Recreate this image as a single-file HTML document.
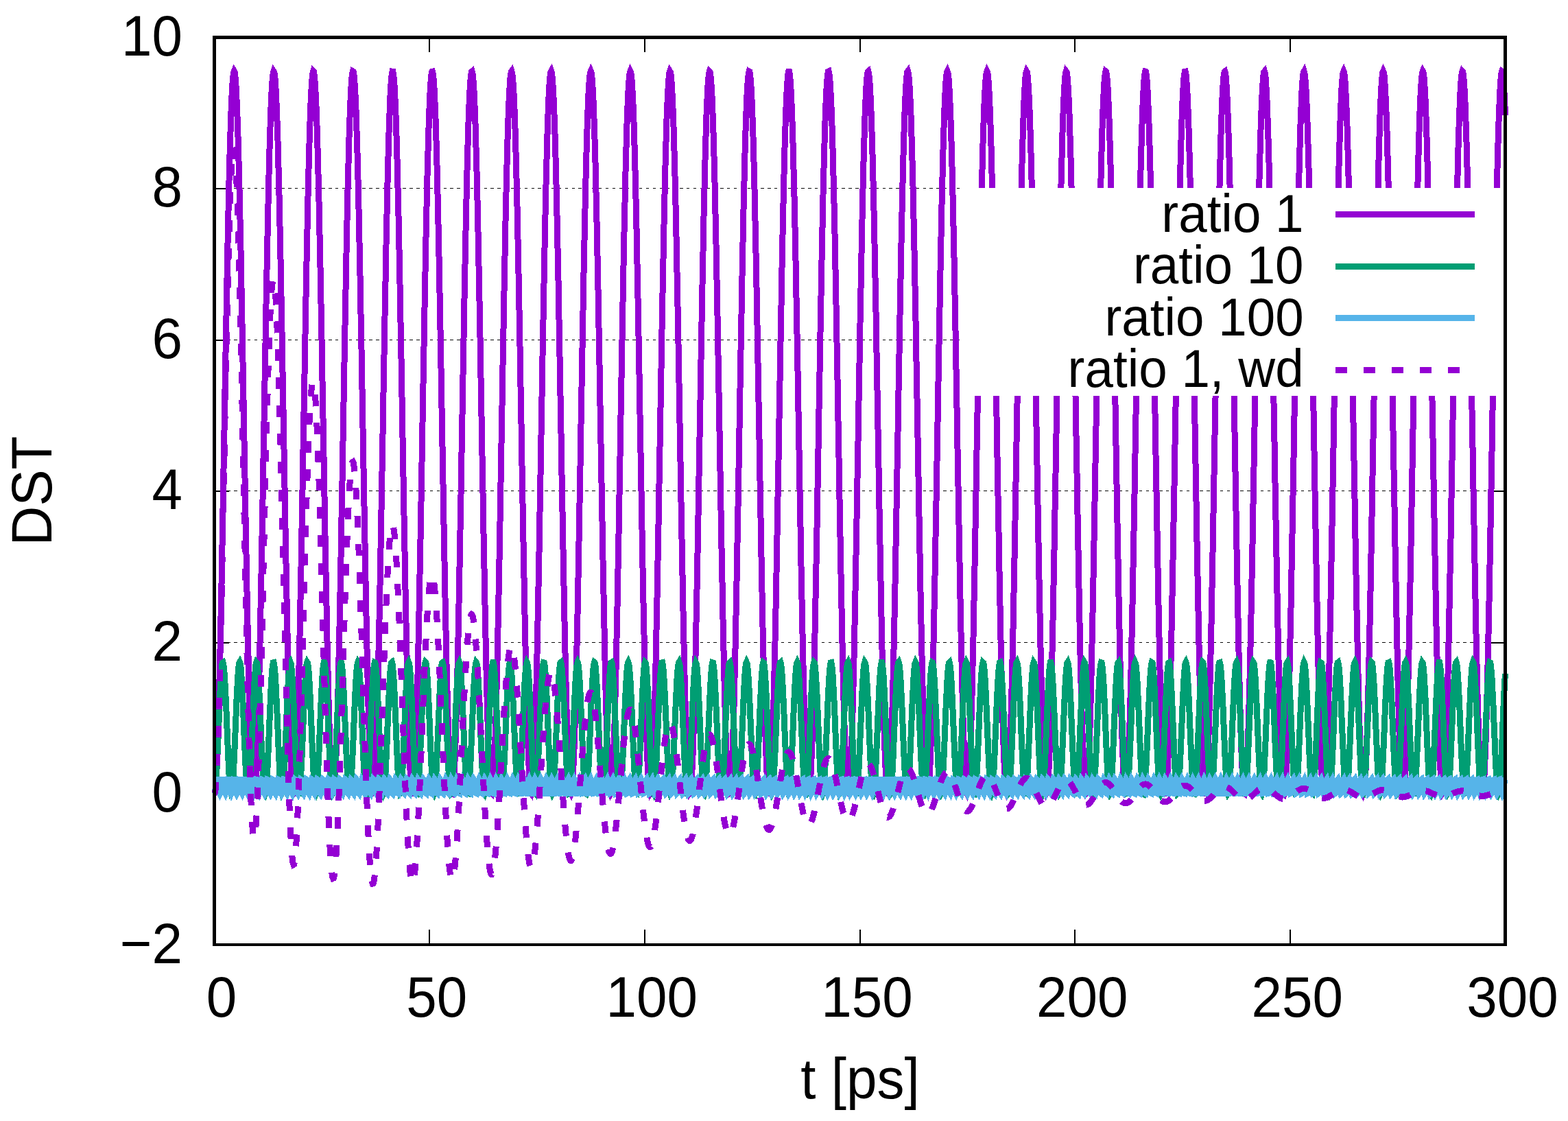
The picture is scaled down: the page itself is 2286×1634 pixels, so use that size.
<!DOCTYPE html>
<html lang="en"><head><meta charset="utf-8"><title>DST vs t</title>
<style>
html,body{margin:0;padding:0;background:#fff;}
body{width:2286px;height:1634px;overflow:hidden;}
svg{display:block;}
text{font-family:"Liberation Sans",sans-serif;fill:#000;}
.c{fill:none;stroke-width:9;stroke-linejoin:miter;stroke-miterlimit:3.8;stroke-linecap:butt;}
</style></head>
<body>
<svg width="2286" height="1634" viewBox="0 0 2286 1634">
<rect width="2286" height="1634" fill="#fff"/>
<g shape-rendering="crispEdges" fill="#000">
<path d="M311.8 1156.5H2192" stroke="#000" stroke-width="1" stroke-dasharray="4.4 5.446" fill="none"/>
<rect x="312" y="1156" width="22" height="2"/>
<rect x="2172" y="1156" width="22" height="2"/>
<path d="M311.8 936.5H2192" stroke="#000" stroke-width="1" stroke-dasharray="4.4 5.446" fill="none"/>
<rect x="312" y="936" width="22" height="2"/>
<rect x="2172" y="936" width="22" height="2"/>
<path d="M311.8 715.5H2192" stroke="#000" stroke-width="1" stroke-dasharray="4.4 5.446" fill="none"/>
<rect x="312" y="715" width="22" height="2"/>
<rect x="2172" y="715" width="22" height="2"/>
<path d="M311.8 495.5H2192" stroke="#000" stroke-width="1" stroke-dasharray="4.4 5.446" fill="none"/>
<rect x="312" y="495" width="22" height="2"/>
<rect x="2172" y="495" width="22" height="2"/>
<path d="M311.8 274.5H2192" stroke="#000" stroke-width="1" stroke-dasharray="4.4 5.446" fill="none"/>
<rect x="312" y="274" width="22" height="2"/>
<rect x="2172" y="274" width="22" height="2"/>
<rect x="625" y="54" width="2" height="22"/>
<rect x="625" y="1355" width="2" height="22"/>
<rect x="939" y="54" width="2" height="22"/>
<rect x="939" y="1355" width="2" height="22"/>
<rect x="1253" y="54" width="2" height="22"/>
<rect x="1253" y="1355" width="2" height="22"/>
<rect x="1566" y="54" width="2" height="22"/>
<rect x="1566" y="1355" width="2" height="22"/>
<rect x="1880" y="54" width="2" height="22"/>
<rect x="1880" y="1355" width="2" height="22"/>
</g>
<g shape-rendering="crispEdges" class="c">
<path stroke="#9400d3" d="M312.5 1156.8L313.2 1155L314 1150L314.7 1141.5L315.5 1129.7L316.2 1114.7L316.9 1096.6L317.7 1075.5L318.4 1051.4L319.2 1024.7L319.9 995.4L320.6 963.7L321.4 929.9L322.1 894.2L322.9 856.7L323.6 817.8L324.3 777.6L325.1 736.5L325.8 694.8L326.6 652.6L327.3 610.2L328 568L328.8 526.2L329.5 485.1L330.3 444.9L331 405.9L331.7 368.3L332.5 332.5L333.2 298.6L333.9 266.8L334.7 237.4L335.4 210.5L336.2 186.3L336.9 165L337.6 146.7L338.4 131.6L339.1 119.6L339.9 111L340.6 105.7L341.3 103.9L342.1 105.4L342.8 110.3L343.6 118.6L344.3 130.2L345 145L345.8 163L346.5 184L347.3 207.9L348 234.5L348.7 263.6L349.5 295.2L350.2 328.9L351 364.6L351.7 401.9L352.4 440.8L353.2 480.9L353.9 521.9L354.7 563.7L355.4 605.9L356.1 648.2L356.9 690.4L357.6 732.3L358.4 773.4L359.1 813.7L359.8 852.7L360.6 890.4L361.3 926.3L362.1 960.3L362.8 992.2L363.5 1021.8L364.3 1048.8L365 1073.1L365.8 1094.6L366.5 1113L367.2 1128.3L368 1140.4L368.7 1149.2L369.5 1154.7L370.2 1156.7L370.9 1155.4L371.7 1150.6L372.4 1142.5L373.1 1131.1L373.9 1116.4L374.6 1098.6L375.4 1077.8L376.1 1054.1L376.8 1027.6L377.6 998.5L378.3 967.1L379.1 933.5L379.8 897.9L380.5 860.6L381.3 821.9L382 781.8L382.8 740.8L383.5 699.1L384.2 656.9L385 614.6L385.7 572.4L386.5 530.5L387.2 489.3L387.9 449L388.7 409.9L389.4 372.2L390.2 336.1L390.9 302L391.6 270L392.4 240.3L393.1 213.2L393.9 188.7L394.6 167.1L395.3 148.5L396.1 133L396.8 120.7L397.6 111.8L398.3 106.1L399 103.9L399.8 105.1L400.5 109.6L401.3 117.6L402 128.8L402.7 143.3L403.5 161L404.2 181.7L405 205.3L405.7 231.6L406.4 260.5L407.2 291.8L407.9 325.3L408.7 360.8L409.4 398L410.1 436.7L410.9 476.7L411.6 517.6L412.3 559.3L413.1 601.5L413.8 643.8L414.6 686.1L415.3 727.9L416 769.2L416.8 809.6L417.5 848.8L418.3 886.5L419 922.7L419.7 956.9L420.5 989L421.2 1018.8L422 1046.1L422.7 1070.7L423.4 1092.5L424.2 1111.2L424.9 1126.9L425.7 1139.3L426.4 1148.5L427.1 1154.3L427.9 1156.7L428.6 1155.7L429.4 1151.3L430.1 1143.5L430.8 1132.4L431.6 1118.1L432.3 1100.6L433.1 1080.1L433.8 1056.6L434.5 1030.4L435.3 1001.7L436 970.5L436.8 937.1L437.5 901.7L438.2 864.6L439 825.9L439.7 786L440.5 745.1L441.2 703.5L441.9 661.3L442.7 619L443.4 576.7L444.2 534.8L444.9 493.5L445.6 453.1L446.4 413.8L447.1 376L447.9 339.8L448.6 305.4L449.3 273.2L450.1 243.3L450.8 215.8L451.5 191.1L452.3 169.2L453 150.3L453.8 134.5L454.5 121.8L455.2 112.5L456 106.6L456.7 104L457.5 104.8L458.2 109L458.9 116.6L459.7 127.5L460.4 141.7L461.2 159L461.9 179.4L462.6 202.7L463.4 228.8L464.1 257.4L464.9 288.5L465.6 321.8L466.3 357L467.1 394.1L467.8 432.6L468.6 472.5L469.3 513.4L470 555L470.8 597.1L471.5 639.4L472.3 681.7L473 723.6L473.7 765L474.5 805.4L475.2 844.8L476 882.7L476.7 919L477.4 953.5L478.2 985.8L478.9 1015.9L479.7 1043.4L480.4 1068.3L481.1 1090.4L481.9 1109.4L482.6 1125.4L483.4 1138.2L484.1 1147.7L484.8 1153.8L485.6 1156.6L486.3 1155.9L487 1151.9L487.8 1144.5L488.5 1133.7L489.3 1119.7L490 1102.6L490.7 1082.3L491.5 1059.2L492.2 1033.3L493 1004.7L493.7 973.8L494.4 940.6L495.2 905.4L495.9 868.5L496.7 830L497.4 790.2L498.1 749.4L498.9 707.8L499.6 665.7L500.4 623.4L501.1 581.1L501.8 539.1L502.6 497.8L503.3 457.2L504.1 417.8L504.8 379.8L505.5 343.4L506.3 308.9L507 276.4L507.8 246.2L508.5 218.6L509.2 193.5L510 171.3L510.7 152.1L511.5 135.9L512.2 123L512.9 113.3L513.7 107L514.4 104.1L515.2 104.6L515.9 108.4L516.6 115.7L517.4 126.2L518.1 140.1L518.9 157.1L519.6 177.2L520.3 200.2L521.1 225.9L521.8 254.3L522.6 285.2L523.3 318.2L524 353.3L524.8 390.2L525.5 428.6L526.2 468.3L527 509.1L527.7 550.7L528.5 592.7L529.2 635.1L529.9 677.3L530.7 719.3L531.4 760.7L532.2 801.3L532.9 840.8L533.6 878.9L534.4 915.3L535.1 950L535.9 982.6L536.6 1012.9L537.3 1040.7L538.1 1065.9L538.8 1088.2L539.6 1107.6L540.3 1123.9L541 1137L541.8 1146.9L542.5 1153.3L543.3 1156.5L544 1156.2L544.7 1152.5L545.5 1145.4L546.2 1135L547 1121.3L547.7 1104.5L548.4 1084.6L549.2 1061.7L549.9 1036.1L550.7 1007.8L551.4 977.1L552.1 944.2L552.9 909.2L553.6 872.4L554.4 834L555.1 794.4L555.8 753.6L556.6 712.1L557.3 670.1L558.1 627.7L558.8 585.4L559.5 543.4L560.3 502L561 461.4L561.8 421.9L562.5 383.7L563.2 347.1L564 312.4L564.7 279.7L565.4 249.3L566.2 221.3L566.9 196L567.7 173.5L568.4 153.9L569.1 137.5L569.9 124.2L570.6 114.2L571.4 107.5L572.1 104.2L572.8 104.3L573.6 107.9L574.3 114.8L575.1 125L575.8 138.5L576.5 155.2L577.3 174.9L578 197.6L578.8 223.1L579.5 251.3L580.2 281.9L581 314.7L581.7 349.6L582.5 386.3L583.2 424.6L583.9 464.2L584.7 504.8L585.4 546.3L586.2 588.4L586.9 630.7L587.6 673L588.4 715L589.1 756.5L589.9 797.2L590.6 836.7L591.3 875L592.1 911.7L592.8 946.5L593.6 979.3L594.3 1009.8L595 1037.9L595.8 1063.4L596.5 1086L597.3 1105.7L598 1122.4L598.7 1135.8L599.5 1146L600.2 1152.8L601 1156.3L601.7 1156.4L602.4 1153L603.2 1146.3L603.9 1136.2L604.6 1122.9L605.4 1106.4L606.1 1086.8L606.9 1064.2L607.6 1038.9L608.3 1010.8L609.1 980.4L609.8 947.7L610.6 912.9L611.3 876.3L612 838.1L612.8 798.5L613.5 757.9L614.3 716.4L615 674.4L615.7 632.1L616.5 589.8L617.2 547.8L618 506.3L618.7 465.5L619.4 425.9L620.2 387.6L620.9 350.8L621.7 315.9L622.4 283L623.1 252.3L623.9 224.1L624.6 198.5L625.4 175.7L626.1 155.8L626.8 139L627.6 125.4L628.3 115.1L629.1 108L629.8 104.4L630.5 104.2L631.3 107.3L632 113.9L632.8 123.8L633.5 137L634.2 153.3L635 172.8L635.7 195.2L636.5 220.4L637.2 248.3L637.9 278.6L638.7 311.2L639.4 345.9L640.2 382.4L640.9 420.5L641.6 460L642.4 500.6L643.1 542L643.8 584L644.6 626.3L645.3 668.6L646.1 710.7L646.8 752.2L647.5 793L648.3 832.7L649 871.1L649.8 907.9L650.5 943L651.2 976L652 1006.8L652.7 1035.1L653.5 1060.9L654.2 1083.8L654.9 1103.8L655.7 1120.8L656.4 1134.6L657.2 1145.1L657.9 1152.3L658.6 1156.1L659.4 1156.5L660.1 1153.5L660.9 1147.1L661.6 1137.4L662.3 1124.4L663.1 1108.2L663.8 1088.9L664.6 1066.7L665.3 1041.6L666 1013.9L666.8 983.6L667.5 951.1L668.3 916.6L669 880.1L669.7 842.1L670.5 802.7L671.2 762.1L672 720.8L672.7 678.8L673.4 636.5L674.2 594.2L674.9 552.1L675.7 510.5L676.4 469.7L677.1 429.9L677.9 391.5L678.6 354.5L679.4 319.4L680.1 286.3L680.8 255.3L681.6 226.9L682.3 201L683 177.9L683.8 157.7L684.5 140.6L685.3 126.7L686 116L686.7 108.6L687.5 104.6L688.2 104L689 106.9L689.7 113.1L690.4 122.6L691.2 135.4L691.9 151.5L692.7 170.6L693.4 192.7L694.1 217.6L694.9 245.3L695.6 275.3L696.4 307.7L697.1 342.2L697.8 378.6L698.6 416.5L699.3 455.9L700.1 496.4L700.8 537.7L701.5 579.6L702.3 621.9L703 664.2L703.8 706.4L704.5 748L705.2 788.8L706 828.6L706.7 867.2L707.5 904.2L708.2 939.5L708.9 972.7L709.7 1003.7L710.4 1032.3L711.2 1058.3L711.9 1081.6L712.6 1101.9L713.4 1119.2L714.1 1133.3L714.9 1144.2L715.6 1151.7L716.3 1155.9L717.1 1156.6L717.8 1154L718.6 1147.9L719.3 1138.6L720 1125.9L720.8 1110L721.5 1091.1L722.2 1069.1L723 1044.3L723.7 1016.8L724.5 986.9L725.2 954.6L725.9 920.2L726.7 884L727.4 846.1L728.2 806.8L728.9 766.4L729.6 725.1L730.4 683.1L731.1 640.9L731.9 598.6L732.6 556.4L733.3 514.8L734.1 473.9L734.8 434L735.6 395.4L736.3 358.3L737 322.9L737.8 289.6L738.5 258.4L739.3 229.7L740 203.5L740.7 180.2L741.5 159.7L742.2 142.2L743 128L743.7 116.9L744.4 109.2L745.2 104.9L745.9 103.9L746.7 106.4L747.4 112.3L748.1 121.5L748.9 134L749.6 149.7L750.4 168.5L751.1 190.3L751.8 214.9L752.6 242.3L753.3 272.1L754.1 304.3L754.8 338.6L755.5 374.7L756.3 412.5L757 451.7L757.8 492.1L758.5 533.4L759.2 575.3L760 617.5L760.7 659.9L761.4 702L762.2 743.7L762.9 784.6L763.7 824.6L764.4 863.3L765.1 900.5L765.9 935.9L766.6 969.4L767.4 1000.6L768.1 1029.5L768.8 1055.8L769.6 1079.3L770.3 1100L771.1 1117.5L771.8 1132L772.5 1143.2L773.3 1151.1L774 1155.6L774.8 1156.7L775.5 1154.4L776.2 1148.7L777 1139.7L777.7 1127.4L778.5 1111.8L779.2 1093.2L779.9 1071.5L780.7 1047L781.4 1019.8L782.2 990.1L782.9 958L783.6 923.9L784.4 887.8L785.1 850.1L785.9 810.9L786.6 770.6L787.3 729.4L788.1 687.5L788.8 645.3L789.6 602.9L790.3 560.8L791 519.1L791.8 478.1L792.5 438.1L793.3 399.3L794 362L794.7 326.5L795.5 292.9L796.2 261.5L797 232.5L797.7 206.1L798.4 182.4L799.2 161.7L799.9 143.9L800.6 129.3L801.4 117.9L802.1 109.9L802.9 105.2L803.6 103.9L804.3 106L805.1 111.5L805.8 120.4L806.6 132.5L807.3 147.9L808 166.4L808.8 187.9L809.5 212.3L810.3 239.3L811 268.9L811.7 300.9L812.5 334.9L813.2 370.9L814 408.5L814.7 447.6L815.4 487.9L816.2 529.1L816.9 570.9L817.7 613.2L818.4 655.5L819.1 697.7L819.9 739.4L820.6 780.4L821.4 820.5L822.1 859.3L822.8 896.7L823.6 932.3L824.3 966L825.1 997.5L825.8 1026.6L826.5 1053.2L827.3 1077L828 1098L828.8 1115.9L829.5 1130.6L830.2 1142.2L831 1150.4L831.7 1155.3L832.5 1156.7L833.2 1154.8L833.9 1149.5L834.7 1140.8L835.4 1128.8L836.1 1113.6L836.9 1095.2L837.6 1073.9L838.4 1049.7L839.1 1022.7L839.8 993.3L840.6 961.5L841.3 927.5L842.1 891.6L842.8 854.1L843.5 815L844.3 774.8L845 733.7L845.8 691.9L846.5 649.6L847.2 607.3L848 565.1L848.7 523.3L849.5 482.3L850.2 442.1L850.9 403.2L851.7 365.8L852.4 330.1L853.2 296.3L853.9 264.7L854.6 235.4L855.4 208.7L856.1 184.8L856.9 163.7L857.6 145.6L858.3 130.7L859.1 118.9L859.8 110.5L860.6 105.5L861.3 103.9L862 105.6L862.8 110.8L863.5 119.3L864.3 131.1L865 146.2L865.7 164.4L866.5 185.5L867.2 209.6L868 236.4L868.7 265.8L869.4 297.5L870.2 331.3L870.9 367.1L871.7 404.6L872.4 443.5L873.1 483.7L873.9 524.8L874.6 566.6L875.3 608.8L876.1 651.1L876.8 693.3L877.6 735.1L878.3 776.2L879 816.4L879.8 855.4L880.5 892.9L881.3 928.7L882 962.6L882.7 994.3L883.5 1023.7L884.2 1050.6L885 1074.7L885.7 1095.9L886.4 1114.2L887.2 1129.3L887.9 1141.1L888.7 1149.7L889.4 1154.9L890.1 1156.7L890.9 1155.2L891.6 1150.2L892.4 1141.8L893.1 1130.2L893.8 1115.3L894.6 1097.3L895.3 1076.2L896.1 1052.3L896.8 1025.6L897.5 996.4L898.3 964.9L899 931.1L899.8 895.4L900.5 858L901.2 819.1L902 779L902.7 738L903.5 696.2L904.2 654L904.9 611.7L905.7 569.5L906.4 527.6L907.2 486.5L907.9 446.2L908.6 407.2L909.4 369.6L910.1 333.7L910.9 299.7L911.6 267.9L912.3 238.3L913.1 211.4L913.8 187.1L914.5 165.7L915.3 147.3L916 132L916.8 120L917.5 111.3L918.2 105.9L919 103.9L919.7 105.3L920.5 110.1L921.2 118.3L921.9 129.7L922.7 144.5L923.4 162.3L924.2 183.2L924.9 207L925.6 233.5L926.4 262.6L927.1 294.1L927.9 327.7L928.6 363.3L929.3 400.6L930.1 439.4L930.8 479.5L931.6 520.5L932.3 562.2L933 604.4L933.8 646.7L934.5 689L935.3 730.8L936 772L936.7 812.3L937.5 851.4L938.2 889.1L939 925.1L939.7 959.2L940.4 991.2L941.2 1020.8L941.9 1047.9L942.7 1072.3L943.4 1093.9L944.1 1112.4L944.9 1127.9L945.6 1140.1L946.4 1149L947.1 1154.5L947.8 1156.7L948.6 1155.5L949.3 1150.9L950.1 1142.9L950.8 1131.5L951.5 1117L952.3 1099.3L953 1078.5L953.7 1054.9L954.5 1028.5L955.2 999.6L956 968.2L956.7 934.7L957.4 899.2L958.2 861.9L958.9 823.2L959.7 783.2L960.4 742.2L961.1 700.5L961.9 658.4L962.6 616.1L963.4 573.8L964.1 531.9L964.8 490.7L965.6 450.4L966.3 411.2L967.1 373.4L967.8 337.3L968.5 303.1L969.3 271L970 241.3L970.8 214L971.5 189.5L972.2 167.8L973 149.1L973.7 133.5L974.5 121.1L975.2 112L975.9 106.3L976.7 103.9L977.4 105L978.2 109.4L978.9 117.3L979.6 128.4L980.4 142.8L981.1 160.3L981.9 180.9L982.6 204.4L983.3 230.7L984.1 259.5L984.8 290.7L985.6 324.1L986.3 359.5L987 396.7L987.8 435.4L988.5 475.3L989.3 516.2L990 557.9L990.7 600L991.5 642.4L992.2 684.6L992.9 726.5L993.7 767.8L994.4 808.2L995.2 847.4L995.9 885.3L996.6 921.5L997.4 955.8L998.1 988L998.9 1017.9L999.6 1045.2L1000.3 1069.9L1001.1 1091.8L1001.8 1110.6L1002.6 1126.4L1003.3 1139L1004 1148.2L1004.8 1154.1L1005.5 1156.7L1006.3 1155.8L1007 1151.5L1007.7 1143.8L1008.5 1132.9L1009.2 1118.6L1010 1101.3L1010.7 1080.8L1011.4 1057.5L1012.2 1031.4L1012.9 1002.7L1013.7 971.6L1014.4 938.3L1015.1 902.9L1015.9 865.9L1016.6 827.3L1017.4 787.4L1018.1 746.5L1018.8 704.9L1019.6 662.8L1020.3 620.4L1021.1 578.2L1021.8 536.2L1022.5 494.9L1023.3 454.5L1024 415.2L1024.8 377.3L1025.5 341L1026.2 306.6L1027 274.3L1027.7 244.2L1028.5 216.7L1029.2 191.9L1029.9 169.9L1030.7 150.9L1031.4 134.9L1032.1 122.2L1032.9 112.8L1033.6 106.7L1034.4 104L1035.1 104.7L1035.8 108.8L1036.6 116.3L1037.3 127.1L1038.1 141.2L1038.8 158.4L1039.5 178.7L1040.3 201.9L1041 227.8L1041.8 256.4L1042.5 287.4L1043.2 320.6L1044 355.8L1044.7 392.8L1045.5 431.3L1046.2 471.1L1046.9 512L1047.7 553.6L1048.4 595.7L1049.2 638L1049.9 680.3L1050.6 722.2L1051.4 763.6L1052.1 804.1L1052.9 843.4L1053.6 881.4L1054.3 917.8L1055.1 952.3L1055.8 984.7L1056.6 1014.9L1057.3 1042.5L1058 1067.5L1058.8 1089.7L1059.5 1108.8L1060.3 1124.9L1061 1137.8L1061.7 1147.4L1062.5 1153.7L1063.2 1156.5L1064 1156L1064.7 1152.1L1065.4 1144.8L1066.2 1134.2L1066.9 1120.3L1067.7 1103.2L1068.4 1083.1L1069.1 1060L1069.9 1034.2L1070.6 1005.8L1071.3 974.9L1072.1 941.8L1072.8 906.7L1073.6 869.8L1074.3 831.3L1075 791.6L1075.8 750.8L1076.5 709.2L1077.3 667.1L1078 624.8L1078.7 582.5L1079.5 540.6L1080.2 499.2L1081 458.6L1081.7 419.2L1082.4 381.1L1083.2 344.6L1083.9 310L1084.7 277.5L1085.4 247.2L1086.1 219.5L1086.9 194.3L1087.6 172L1088.4 152.7L1089.1 136.4L1089.8 123.4L1090.6 113.6L1091.3 107.2L1092.1 104.1L1092.8 104.5L1093.5 108.2L1094.3 115.4L1095 125.8L1095.8 139.6L1096.5 156.5L1097.2 176.4L1098 199.3L1098.7 225L1099.5 253.3L1100.2 284.1L1100.9 317.1L1101.7 352.1L1102.4 388.9L1103.2 427.3L1103.9 466.9L1104.6 507.7L1105.4 549.2L1106.1 591.3L1106.9 633.6L1107.6 675.9L1108.3 717.9L1109.1 759.3L1109.8 799.9L1110.5 839.4L1111.3 877.6L1112 914.1L1112.8 948.8L1113.5 981.5L1114.2 1011.9L1115 1039.8L1115.7 1065L1116.5 1087.5L1117.2 1107L1117.9 1123.4L1118.7 1136.6L1119.4 1146.6L1120.2 1153.2L1120.9 1156.4L1121.6 1156.2L1122.4 1152.7L1123.1 1145.7L1123.9 1135.4L1124.6 1121.8L1125.3 1105.1L1126.1 1085.3L1126.8 1062.5L1127.6 1037L1128.3 1008.8L1129 978.2L1129.8 945.3L1130.5 910.4L1131.3 873.7L1132 835.4L1132.7 795.7L1133.5 755.1L1134.2 713.5L1135 671.5L1135.7 629.2L1136.4 586.9L1137.2 544.9L1137.9 503.4L1138.7 462.8L1139.4 423.2L1140.1 385L1140.9 348.3L1141.6 313.5L1142.4 280.8L1143.1 250.3L1143.8 222.2L1144.6 196.8L1145.3 174.2L1146.1 154.6L1146.8 138L1147.5 124.6L1148.3 114.5L1149 107.7L1149.7 104.3L1150.5 104.3L1151.2 107.7L1152 114.5L1152.7 124.6L1153.4 138L1154.2 154.6L1154.9 174.2L1155.7 196.8L1156.4 222.2L1157.1 250.3L1157.9 280.8L1158.6 313.5L1159.4 348.4L1160.1 385L1160.8 423.2L1161.6 462.8L1162.3 503.4L1163.1 544.9L1163.8 586.9L1164.5 629.2L1165.3 671.5L1166 713.6L1166.8 755.1L1167.5 795.8L1168.2 835.4L1169 873.7L1169.7 910.4L1170.5 945.3L1171.2 978.2L1171.9 1008.8L1172.7 1037L1173.4 1062.6L1174.2 1085.3L1174.9 1105.1L1175.6 1121.9L1176.4 1135.4L1177.1 1145.7L1177.9 1152.7L1178.6 1156.2L1179.3 1156.4L1180.1 1153.2L1180.8 1146.6L1181.6 1136.6L1182.3 1123.4L1183 1107L1183.8 1087.5L1184.5 1065L1185.2 1039.8L1186 1011.9L1186.7 981.5L1187.5 948.8L1188.2 914.1L1188.9 877.6L1189.7 839.4L1190.4 799.9L1191.2 759.3L1191.9 717.9L1192.6 675.9L1193.4 633.6L1194.1 591.3L1194.9 549.2L1195.6 507.7L1196.3 466.9L1197.1 427.2L1197.8 388.9L1198.6 352L1199.3 317L1200 284L1200.8 253.3L1201.5 225L1202.3 199.3L1203 176.4L1203.7 156.4L1204.5 139.5L1205.2 125.8L1206 115.4L1206.7 108.2L1207.4 104.5L1208.2 104.1L1208.9 107.2L1209.7 113.6L1210.4 123.4L1211.1 136.5L1211.9 152.7L1212.6 172L1213.4 194.4L1214.1 219.5L1214.8 247.3L1215.6 277.5L1216.3 310.1L1217.1 344.7L1217.8 381.1L1218.5 419.2L1219.3 458.6L1220 499.2L1220.8 540.6L1221.5 582.6L1222.2 624.8L1223 667.2L1223.7 709.2L1224.4 750.8L1225.2 791.6L1225.9 831.4L1226.7 869.8L1227.4 906.7L1228.1 941.8L1228.9 974.9L1229.6 1005.8L1230.4 1034.2L1231.1 1060L1231.8 1083.1L1232.6 1103.2L1233.3 1120.3L1234.1 1134.2L1234.8 1144.8L1235.5 1152.1L1236.3 1156L1237 1156.5L1237.8 1153.7L1238.5 1147.4L1239.2 1137.8L1240 1124.9L1240.7 1108.8L1241.5 1089.6L1242.2 1067.5L1242.9 1042.5L1243.7 1014.9L1244.4 984.7L1245.2 952.3L1245.9 917.8L1246.6 881.4L1247.4 843.4L1248.1 804L1248.9 763.5L1249.6 722.2L1250.3 680.2L1251.1 638L1251.8 595.6L1252.6 553.5L1253.3 511.9L1254 471.1L1254.8 431.3L1255.5 392.8L1256.3 355.8L1257 320.6L1257.7 287.4L1258.5 256.4L1259.2 227.8L1260 201.8L1260.7 178.6L1261.4 158.4L1262.2 141.1L1262.9 127.1L1263.6 116.3L1264.4 108.8L1265.1 104.7L1265.9 104L1266.6 106.7L1267.3 112.8L1268.1 122.2L1268.8 135L1269.6 150.9L1270.3 169.9L1271 191.9L1271.8 216.8L1272.5 244.3L1273.3 274.3L1274 306.6L1274.7 341L1275.5 377.3L1276.2 415.2L1277 454.5L1277.7 495L1278.4 536.3L1279.2 578.2L1279.9 620.5L1280.7 662.8L1281.4 704.9L1282.1 746.6L1282.9 787.4L1283.6 827.3L1284.4 865.9L1285.1 903L1285.8 938.3L1286.6 971.6L1287.3 1002.7L1288.1 1031.4L1288.8 1057.5L1289.5 1080.8L1290.3 1101.3L1291 1118.7L1291.8 1132.9L1292.5 1143.8L1293.2 1151.5L1294 1155.8L1294.7 1156.7L1295.5 1154.1L1296.2 1148.2L1296.9 1138.9L1297.7 1126.4L1298.4 1110.6L1299.2 1091.8L1299.9 1069.9L1300.6 1045.2L1301.4 1017.8L1302.1 987.9L1302.8 955.7L1303.6 921.4L1304.3 885.2L1305.1 847.4L1305.8 808.2L1306.5 767.8L1307.3 726.5L1308 684.6L1308.8 642.3L1309.5 600L1310.2 557.9L1311 516.2L1311.7 475.3L1312.5 435.3L1313.2 396.7L1313.9 359.5L1314.7 324.1L1315.4 290.7L1316.2 259.5L1316.9 230.6L1317.6 204.4L1318.4 180.9L1319.1 160.3L1319.9 142.8L1320.6 128.4L1321.3 117.3L1322.1 109.4L1322.8 105L1323.6 103.9L1324.3 106.3L1325 112L1325.8 121.1L1326.5 133.5L1327.3 149.1L1328 167.8L1328.7 189.5L1329.5 214.1L1330.2 241.3L1331 271.1L1331.7 303.1L1332.4 337.4L1333.2 373.4L1333.9 411.2L1334.7 450.4L1335.4 490.7L1336.1 532L1336.9 573.8L1337.6 616.1L1338.4 658.4L1339.1 700.6L1339.8 742.3L1340.6 783.3L1341.3 823.2L1342 862L1342.8 899.2L1343.5 934.7L1344.3 968.2L1345 999.6L1345.7 1028.5L1346.5 1054.9L1347.2 1078.6L1348 1099.3L1348.7 1117L1349.4 1131.6L1350.2 1142.9L1350.9 1150.9L1351.7 1155.5L1352.4 1156.7L1353.1 1154.5L1353.9 1149L1354.6 1140.1L1355.4 1127.8L1356.1 1112.4L1356.8 1093.9L1357.6 1072.3L1358.3 1047.9L1359.1 1020.8L1359.8 991.1L1360.5 959.2L1361.3 925.1L1362 889.1L1362.8 851.4L1363.5 812.3L1364.2 772L1365 730.8L1365.7 688.9L1366.5 646.7L1367.2 604.4L1367.9 562.2L1368.7 520.5L1369.4 479.5L1370.2 439.4L1370.9 400.6L1371.6 363.3L1372.4 327.7L1373.1 294L1373.9 262.6L1374.6 233.5L1375.3 207L1376.1 183.2L1376.8 162.3L1377.6 144.5L1378.3 129.7L1379 118.3L1379.8 110.1L1380.5 105.3L1381.2 103.9L1382 105.9L1382.7 111.3L1383.5 120L1384.2 132.1L1384.9 147.3L1385.7 165.7L1386.4 187.1L1387.2 211.4L1387.9 238.4L1388.6 267.9L1389.4 299.7L1390.1 333.7L1390.9 369.6L1391.6 407.2L1392.3 446.3L1393.1 486.5L1393.8 527.7L1394.6 569.5L1395.3 611.7L1396 654L1396.8 696.2L1397.5 738L1398.3 779.1L1399 819.2L1399.7 858L1400.5 895.4L1401.2 931.1L1402 964.9L1402.7 996.5L1403.4 1025.7L1404.2 1052.3L1404.9 1076.2L1405.7 1097.3L1406.4 1115.3L1407.1 1130.2L1407.9 1141.8L1408.6 1150.2L1409.4 1155.2L1410.1 1156.7L1410.8 1154.9L1411.6 1149.7L1412.3 1141.1L1413.1 1129.3L1413.8 1114.2L1414.5 1095.9L1415.3 1074.7L1416 1050.5L1416.8 1023.7L1417.5 994.3L1418.2 962.6L1419 928.7L1419.7 892.9L1420.4 855.4L1421.2 816.4L1421.9 776.2L1422.7 735.1L1423.4 693.3L1424.1 651.1L1424.9 608.8L1425.6 566.6L1426.4 524.8L1427.1 483.7L1427.8 443.5L1428.6 404.6L1429.3 367.1L1430.1 331.3L1430.8 297.4L1431.5 265.7L1432.3 236.4L1433 209.6L1433.8 185.5L1434.5 164.3L1435.2 146.2L1436 131.1L1436.7 119.3L1437.5 110.8L1438.2 105.6L1438.9 103.9L1439.7 105.5L1440.4 110.5L1441.2 119L1441.9 130.7L1442.6 145.6L1443.4 163.7L1444.1 184.8L1444.9 208.7L1445.6 235.5L1446.3 264.7L1447.1 296.3L1447.8 330.1L1448.6 365.8L1449.3 403.3L1450 442.2L1450.8 482.3L1451.5 523.4L1452.3 565.1L1453 607.3L1453.7 649.7L1454.5 691.9L1455.2 733.7L1456 774.8L1456.7 815.1L1457.4 854.1L1458.2 891.6L1458.9 927.5L1459.6 961.5L1460.4 993.3L1461.1 1022.8L1461.9 1049.7L1462.6 1073.9L1463.3 1095.3L1464.1 1113.6L1464.8 1128.8L1465.6 1140.8L1466.3 1149.5L1467 1154.8L1467.8 1156.7L1468.5 1155.3L1469.3 1150.4L1470 1142.2L1470.7 1130.6L1471.5 1115.9L1472.2 1097.9L1473 1077L1473.7 1053.2L1474.4 1026.6L1475.2 997.5L1475.9 966L1476.7 932.3L1477.4 896.7L1478.1 859.3L1478.9 820.5L1479.6 780.4L1480.4 739.4L1481.1 697.6L1481.8 655.5L1482.6 613.1L1483.3 570.9L1484.1 529.1L1484.8 487.9L1485.5 447.6L1486.3 408.5L1487 370.9L1487.8 334.9L1488.5 300.8L1489.2 268.9L1490 239.3L1490.7 212.2L1491.5 187.9L1492.2 166.4L1492.9 147.9L1493.7 132.5L1494.4 120.4L1495.1 111.5L1495.9 106L1496.6 103.9L1497.4 105.2L1498.1 109.9L1498.8 117.9L1499.6 129.3L1500.3 143.9L1501.1 161.7L1501.8 182.5L1502.5 206.1L1503.3 232.6L1504 261.6L1504.8 293L1505.5 326.5L1506.2 362.1L1507 399.3L1507.7 438.1L1508.5 478.1L1509.2 519.1L1509.9 560.8L1510.7 603L1511.4 645.3L1512.2 687.5L1512.9 729.4L1513.6 770.6L1514.4 811L1515.1 850.1L1515.9 887.8L1516.6 923.9L1517.3 958.1L1518.1 990.1L1518.8 1019.8L1519.6 1047L1520.3 1071.5L1521 1093.2L1521.8 1111.8L1522.5 1127.4L1523.3 1139.7L1524 1148.7L1524.7 1154.4L1525.5 1156.7L1526.2 1155.6L1527 1151.1L1527.7 1143.2L1528.4 1132L1529.2 1117.5L1529.9 1099.9L1530.7 1079.3L1531.4 1055.8L1532.1 1029.5L1532.9 1000.6L1533.6 969.3L1534.3 935.9L1535.1 900.4L1535.8 863.2L1536.6 824.6L1537.3 784.6L1538 743.7L1538.8 702L1539.5 659.8L1540.3 617.5L1541 575.3L1541.7 533.4L1542.5 492.1L1543.2 451.7L1544 412.5L1544.7 374.7L1545.4 338.5L1546.2 304.3L1546.9 272.1L1547.7 242.3L1548.4 214.9L1549.1 190.3L1549.9 168.5L1550.6 149.7L1551.4 134L1552.1 121.5L1552.8 112.3L1553.6 106.4L1554.3 103.9L1555.1 104.9L1555.8 109.2L1556.5 116.9L1557.3 128L1558 142.2L1558.8 159.7L1559.5 180.2L1560.2 203.6L1561 229.7L1561.7 258.5L1562.5 289.6L1563.2 323L1563.9 358.3L1564.7 395.4L1565.4 434L1566.2 473.9L1566.9 514.8L1567.6 556.5L1568.4 598.6L1569.1 640.9L1569.9 683.2L1570.6 725.1L1571.3 766.4L1572.1 806.8L1572.8 846.1L1573.5 884L1574.3 920.3L1575 954.6L1575.8 986.9L1576.5 1016.9L1577.2 1044.3L1578 1069.1L1578.7 1091.1L1579.5 1110.1L1580.2 1125.9L1580.9 1138.6L1581.7 1148L1582.4 1154L1583.2 1156.6L1583.9 1155.9L1584.6 1151.7L1585.4 1144.2L1586.1 1133.3L1586.9 1119.2L1587.6 1101.9L1588.3 1081.6L1589.1 1058.3L1589.8 1032.3L1590.6 1003.7L1591.3 972.7L1592 939.4L1592.8 904.2L1593.5 867.2L1594.3 828.6L1595 788.8L1595.7 747.9L1596.5 706.3L1597.2 664.2L1598 621.9L1598.7 579.6L1599.4 537.7L1600.2 496.3L1600.9 455.8L1601.7 416.5L1602.4 378.5L1603.1 342.2L1603.9 307.7L1604.6 275.3L1605.4 245.2L1606.1 217.6L1606.8 192.7L1607.6 170.6L1608.3 151.5L1609.1 135.4L1609.8 122.6L1610.5 113.1L1611.3 106.9L1612 104L1612.7 104.6L1613.5 108.6L1614.2 116L1615 126.7L1615.7 140.6L1616.4 157.7L1617.2 177.9L1617.9 201L1618.7 226.9L1619.4 255.4L1620.1 286.3L1620.9 319.4L1621.6 354.6L1622.4 391.5L1623.1 430L1623.8 469.7L1624.6 510.5L1625.3 552.1L1626.1 594.2L1626.8 636.5L1627.5 678.8L1628.3 720.8L1629 762.2L1629.8 802.7L1630.5 842.1L1631.2 880.2L1632 916.6L1632.7 951.2L1633.5 983.7L1634.2 1013.9L1634.9 1041.6L1635.7 1066.7L1636.4 1088.9L1637.2 1108.2L1637.9 1124.4L1638.6 1137.4L1639.4 1147.1L1640.1 1153.5L1640.9 1156.5L1641.6 1156.1L1642.3 1152.3L1643.1 1145.1L1643.8 1134.6L1644.6 1120.8L1645.3 1103.8L1646 1083.8L1646.8 1060.9L1647.5 1035.1L1648.3 1006.8L1649 976L1649.7 943L1650.5 907.9L1651.2 871.1L1651.9 832.7L1652.7 793L1653.4 752.2L1654.2 710.7L1654.9 668.6L1655.6 626.3L1656.4 584L1657.1 542L1657.9 500.6L1658.6 460L1659.3 420.5L1660.1 382.4L1660.8 345.9L1661.6 311.2L1662.3 278.6L1663 248.2L1663.8 220.4L1664.5 195.1L1665.3 172.7L1666 153.3L1666.7 136.9L1667.5 123.8L1668.2 113.9L1669 107.3L1669.7 104.2L1670.4 104.4L1671.2 108.1L1671.9 115.1L1672.7 125.4L1673.4 139L1674.1 155.8L1674.9 175.7L1675.6 198.5L1676.4 224.1L1677.1 252.3L1677.8 283L1678.6 315.9L1679.3 350.8L1680.1 387.6L1680.8 425.9L1681.5 465.6L1682.3 506.3L1683 547.8L1683.8 589.8L1684.5 632.2L1685.2 674.5L1686 716.5L1686.7 757.9L1687.5 798.6L1688.2 838.1L1688.9 876.3L1689.7 912.9L1690.4 947.7L1691.1 980.4L1691.9 1010.9L1692.6 1038.9L1693.4 1064.2L1694.1 1086.8L1694.8 1106.4L1695.6 1122.9L1696.3 1136.2L1697.1 1146.3L1697.8 1153L1698.5 1156.4L1699.3 1156.3L1700 1152.8L1700.8 1146L1701.5 1135.8L1702.2 1122.4L1703 1105.7L1703.7 1086L1704.5 1063.4L1705.2 1037.9L1705.9 1009.8L1706.7 979.3L1707.4 946.5L1708.2 911.6L1708.9 875L1709.6 836.7L1710.4 797.1L1711.1 756.5L1711.9 715L1712.6 673L1713.3 630.6L1714.1 588.3L1714.8 546.3L1715.6 504.8L1716.3 464.1L1717 424.5L1717.8 386.3L1718.5 349.6L1719.3 314.7L1720 281.8L1720.7 251.3L1721.5 223.1L1722.2 197.6L1723 174.9L1723.7 155.2L1724.4 138.5L1725.2 125L1725.9 114.8L1726.7 107.9L1727.4 104.3L1728.1 104.2L1728.9 107.5L1729.6 114.2L1730.3 124.2L1731.1 137.5L1731.8 153.9L1732.6 173.5L1733.3 196L1734 221.3L1734.8 249.3L1735.5 279.7L1736.3 312.4L1737 347.1L1737.7 383.7L1738.5 421.9L1739.2 461.4L1740 502L1740.7 543.5L1741.4 585.5L1742.2 627.8L1742.9 670.1L1743.7 712.1L1744.4 753.7L1745.1 794.4L1745.9 834.1L1746.6 872.4L1747.4 909.2L1748.1 944.2L1748.8 977.1L1749.6 1007.8L1750.3 1036.1L1751.1 1061.7L1751.8 1084.6L1752.5 1104.5L1753.3 1121.3L1754 1135L1754.8 1145.4L1755.5 1152.5L1756.2 1156.2L1757 1156.5L1757.7 1153.3L1758.5 1146.9L1759.2 1137L1759.9 1123.9L1760.7 1107.6L1761.4 1088.2L1762.2 1065.8L1762.9 1040.7L1763.6 1012.8L1764.4 982.5L1765.1 950L1765.9 915.3L1766.6 878.8L1767.3 840.7L1768.1 801.3L1768.8 760.7L1769.5 719.3L1770.3 677.3L1771 635L1771.8 592.7L1772.5 550.6L1773.2 509.1L1774 468.3L1774.7 428.6L1775.5 390.1L1776.2 353.3L1776.9 318.2L1777.7 285.1L1778.4 254.3L1779.2 225.9L1779.9 200.1L1780.6 177.1L1781.4 157.1L1782.1 140.1L1782.9 126.2L1783.6 115.7L1784.3 108.4L1785.1 104.6L1785.8 104.1L1786.6 107L1787.3 113.3L1788 123L1788.8 136L1789.5 152.1L1790.3 171.3L1791 193.5L1791.7 218.6L1792.5 246.3L1793.2 276.4L1794 308.9L1794.7 343.5L1795.4 379.9L1796.2 417.9L1796.9 457.3L1797.7 497.8L1798.4 539.2L1799.1 581.1L1799.9 623.4L1800.6 665.7L1801.4 707.8L1802.1 749.4L1802.8 790.2L1803.6 830L1804.3 868.5L1805.1 905.5L1805.8 940.6L1806.5 973.8L1807.3 1004.8L1808 1033.3L1808.7 1059.2L1809.5 1082.4L1810.2 1102.6L1811 1119.7L1811.7 1133.7L1812.4 1144.5L1813.2 1151.9L1813.9 1155.9L1814.7 1156.6L1815.4 1153.8L1816.1 1147.7L1816.9 1138.2L1817.6 1125.4L1818.4 1109.4L1819.1 1090.3L1819.8 1068.3L1820.6 1043.4L1821.3 1015.8L1822.1 985.8L1822.8 953.4L1823.5 919L1824.3 882.7L1825 844.7L1825.8 805.4L1826.5 764.9L1827.2 723.6L1828 681.7L1828.7 639.4L1829.5 597.1L1830.2 555L1830.9 513.3L1831.7 472.5L1832.4 432.6L1833.2 394.1L1833.9 357L1834.6 321.7L1835.4 288.5L1836.1 257.4L1836.9 228.7L1837.6 202.7L1838.3 179.4L1839.1 159L1839.8 141.7L1840.6 127.5L1841.3 116.6L1842 109L1842.8 104.8L1843.5 104L1844.2 106.6L1845 112.5L1845.7 121.9L1846.5 134.5L1847.2 150.3L1847.9 169.2L1848.7 191.1L1849.4 215.9L1850.2 243.3L1850.9 273.2L1851.6 305.4L1852.4 339.8L1853.1 376L1853.9 413.9L1854.6 453.1L1855.3 493.5L1856.1 534.8L1856.8 576.8L1857.6 619L1858.3 661.3L1859 703.5L1859.8 745.1L1860.5 786.1L1861.3 826L1862 864.6L1862.7 901.7L1863.5 937.1L1864.2 970.5L1865 1001.7L1865.7 1030.5L1866.4 1056.7L1867.2 1080.1L1867.9 1100.6L1868.7 1118.1L1869.4 1132.4L1870.1 1143.5L1870.9 1151.3L1871.6 1155.7L1872.4 1156.7L1873.1 1154.3L1873.8 1148.5L1874.6 1139.3L1875.3 1126.9L1876.1 1111.2L1876.8 1092.5L1877.5 1070.7L1878.3 1046.1L1879 1018.8L1879.8 989L1880.5 956.9L1881.2 922.6L1882 886.5L1882.7 848.7L1883.4 809.5L1884.2 769.2L1884.9 727.9L1885.7 686L1886.4 643.8L1887.1 601.5L1887.9 559.3L1888.6 517.6L1889.4 476.7L1890.1 436.7L1890.8 398L1891.6 360.8L1892.3 325.3L1893.1 291.8L1893.8 260.5L1894.5 231.6L1895.3 205.2L1896 181.7L1896.8 161L1897.5 143.3L1898.2 128.8L1899 117.6L1899.7 109.6L1900.5 105.1L1901.2 103.9L1901.9 106.1L1902.7 111.8L1903.4 120.7L1904.2 133L1904.9 148.5L1905.6 167.1L1906.4 188.7L1907.1 213.2L1907.9 240.3L1908.6 270L1909.3 302L1910.1 336.1L1910.8 372.2L1911.6 409.9L1912.3 449L1913 489.3L1913.8 530.5L1914.5 572.4L1915.3 614.6L1916 657L1916.7 699.1L1917.5 740.9L1918.2 781.9L1919 821.9L1919.7 860.7L1920.4 898L1921.2 933.5L1921.9 967.1L1922.6 998.6L1923.4 1027.6L1924.1 1054.1L1924.9 1077.8L1925.6 1098.6L1926.3 1116.4L1927.1 1131.1L1927.8 1142.5L1928.6 1150.6L1929.3 1155.4L1930 1156.7L1930.8 1154.7L1931.5 1149.2L1932.3 1140.4L1933 1128.3L1933.7 1113L1934.5 1094.5L1935.2 1073.1L1936 1048.8L1936.7 1021.8L1937.4 992.2L1938.2 960.3L1938.9 926.3L1939.7 890.3L1940.4 852.7L1941.1 813.6L1941.9 773.4L1942.6 732.2L1943.4 690.4L1944.1 648.2L1944.8 605.8L1945.6 563.6L1946.3 521.9L1947.1 480.8L1947.8 440.8L1948.5 401.9L1949.3 364.5L1950 328.9L1950.8 295.2L1951.5 263.6L1952.2 234.5L1953 207.8L1953.7 184L1954.5 163L1955.2 145L1955.9 130.2L1956.7 118.6L1957.4 110.3L1958.2 105.4L1958.9 103.9L1959.6 105.7L1960.4 111L1961.1 119.7L1961.8 131.6L1962.6 146.8L1963.3 165L1964.1 186.3L1964.8 210.5L1965.5 237.4L1966.3 266.8L1967 298.6L1967.8 332.5L1968.5 368.4L1969.2 405.9L1970 444.9L1970.7 485.1L1971.5 526.2L1972.2 568.1L1972.9 610.3L1973.7 652.6L1974.4 694.8L1975.2 736.6L1975.9 777.7L1976.6 817.8L1977.4 856.7L1978.1 894.2L1978.9 929.9L1979.6 963.8L1980.3 995.4L1981.1 1024.7L1981.8 1051.5L1982.6 1075.5L1983.3 1096.6L1984 1114.7L1984.8 1129.7L1985.5 1141.5L1986.3 1150L1987 1155L1987.7 1156.7L1988.5 1155L1989.2 1149.9L1990 1141.5L1990.7 1129.7L1991.4 1114.7L1992.2 1096.6L1992.9 1075.4L1993.7 1051.4L1994.4 1024.7L1995.1 995.4L1995.9 963.7L1996.6 929.9L1997.4 894.1L1998.1 856.7L1998.8 817.7L1999.6 777.6L2000.3 736.5L2001 694.7L2001.8 652.5L2002.5 610.2L2003.3 568L2004 526.2L2004.7 485.1L2005.5 444.9L2006.2 405.9L2007 368.3L2007.7 332.5L2008.4 298.6L2009.2 266.8L2009.9 237.4L2010.7 210.5L2011.4 186.3L2012.1 165L2012.9 146.7L2013.6 131.6L2014.4 119.6L2015.1 111L2015.8 105.7L2016.6 103.9L2017.3 105.4L2018.1 110.3L2018.8 118.6L2019.5 130.2L2020.3 145L2021 163L2021.8 184L2022.5 207.9L2023.2 234.5L2024 263.7L2024.7 295.2L2025.5 328.9L2026.2 364.6L2026.9 402L2027.7 440.8L2028.4 480.9L2029.2 522L2029.9 563.7L2030.6 605.9L2031.4 648.2L2032.1 690.4L2032.9 732.3L2033.6 773.5L2034.3 813.7L2035.1 852.8L2035.8 890.4L2036.6 926.3L2037.3 960.4L2038 992.2L2038.8 1021.8L2039.5 1048.8L2040.2 1073.1L2041 1094.6L2041.7 1113L2042.5 1128.3L2043.2 1140.4L2043.9 1149.2L2044.7 1154.7L2045.4 1156.7L2046.2 1155.4L2046.9 1150.6L2047.6 1142.5L2048.4 1131.1L2049.1 1116.4L2049.9 1098.6L2050.6 1077.8L2051.3 1054L2052.1 1027.6L2052.8 998.5L2053.6 967.1L2054.3 933.5L2055 897.9L2055.8 860.6L2056.5 821.8L2057.3 781.8L2058 740.8L2058.7 699.1L2059.5 656.9L2060.2 614.6L2061 572.3L2061.7 530.5L2062.4 489.3L2063.2 449L2063.9 409.8L2064.7 372.1L2065.4 336.1L2066.1 302L2066.9 270L2067.6 240.3L2068.4 213.1L2069.1 188.7L2069.8 167.1L2070.6 148.5L2071.3 133L2072.1 120.7L2072.8 111.7L2073.5 106.1L2074.3 103.9L2075 105.1L2075.8 109.7L2076.5 117.6L2077.2 128.9L2078 143.4L2078.7 161L2079.4 181.7L2080.2 205.3L2080.9 231.6L2081.7 260.5L2082.4 291.8L2083.1 325.3L2083.9 360.8L2084.6 398L2085.4 436.7L2086.1 476.7L2086.8 517.7L2087.6 559.4L2088.3 601.5L2089.1 643.8L2089.8 686.1L2090.5 728L2091.3 769.2L2092 809.6L2092.8 848.8L2093.5 886.6L2094.2 922.7L2095 956.9L2095.7 989.1L2096.5 1018.9L2097.2 1046.1L2097.9 1070.7L2098.7 1092.5L2099.4 1111.2L2100.2 1126.9L2100.9 1139.3L2101.6 1148.5L2102.4 1154.3L2103.1 1156.7L2103.9 1155.7L2104.6 1151.3L2105.3 1143.5L2106.1 1132.4L2106.8 1118.1L2107.6 1100.6L2108.3 1080.1L2109 1056.6L2109.8 1030.4L2110.5 1001.6L2111.3 970.4L2112 937.1L2112.7 901.7L2113.5 864.5L2114.2 825.9L2115 786L2115.7 745.1L2116.4 703.4L2117.2 661.3L2117.9 619L2118.6 576.7L2119.4 534.8L2120.1 493.5L2120.9 453.1L2121.6 413.8L2122.3 376L2123.1 339.7L2123.8 305.4L2124.6 273.2L2125.3 243.2L2126 215.8L2126.8 191.1L2127.5 169.2L2128.3 150.3L2129 134.4L2129.7 121.8L2130.5 112.5L2131.2 106.6L2132 104L2132.7 104.8L2133.4 109L2134.2 116.6L2134.9 127.5L2135.7 141.7L2136.4 159L2137.1 179.4L2137.9 202.7L2138.6 228.8L2139.4 257.4L2140.1 288.5L2140.8 321.8L2141.6 357.1L2142.3 394.1L2143.1 432.7L2143.8 472.5L2144.5 513.4L2145.3 555L2146 597.1L2146.8 639.5L2147.5 681.7L2148.2 723.7L2149 765L2149.7 805.5L2150.5 844.8L2151.2 882.7L2151.9 919L2152.7 953.5L2153.4 985.8L2154.1 1015.9L2154.9 1043.4L2155.6 1068.3L2156.4 1090.4L2157.1 1109.5L2157.8 1125.4L2158.6 1138.2L2159.3 1147.7L2160.1 1153.8L2160.8 1156.6L2161.5 1155.9L2162.3 1151.9L2163 1144.5L2163.8 1133.7L2164.5 1119.7L2165.2 1102.5L2166 1082.3L2166.7 1059.2L2167.5 1033.3L2168.2 1004.7L2168.9 973.8L2169.7 940.6L2170.4 905.4L2171.2 868.5L2171.9 830L2172.6 790.2L2173.4 749.4L2174.1 707.8L2174.9 665.7L2175.6 623.3L2176.3 581.1L2177.1 539.1L2177.8 497.7L2178.6 457.2L2179.3 417.8L2180 379.8L2180.8 343.4L2181.5 308.9L2182.3 276.4L2183 246.2L2183.7 218.5L2184.5 193.5L2185.2 171.3L2186 152.1L2186.7 135.9L2187.4 123L2188.2 113.3L2188.9 107L2189.7 104.1L2190.4 104.6L2191.1 108.4L2191.9 115.7L2192.6 126.3L2193.3 140.1L2194.1 157.1L2194.5 168.2"/>
<path stroke="#009e73" d="M312.5 1156.8L313.2 1155.1L314 1150L314.7 1141.8L315.5 1130.8L316.2 1117.2L316.9 1101.7L317.7 1084.7L318.4 1066.9L319.2 1048.9L319.9 1031.3L320.6 1014.8L321.4 999.9L322.1 987.2L322.9 977.1L323.6 970L324.3 966.1L325.1 965.6L325.8 968.4L326.6 974.6L327.3 983.8L328 995.8L328.8 1010.1L329.5 1026.2L330.3 1043.5L331 1061.5L331.7 1079.4L332.5 1096.7L333.2 1112.7L333.9 1126.9L334.7 1138.8L335.4 1147.9L336.2 1153.9L336.9 1156.6L337.6 1155.9L338.4 1151.9L339.1 1144.6L339.9 1134.4L340.6 1121.6L341.3 1106.6L342.1 1090L342.8 1072.4L343.6 1054.4L344.3 1036.6L345 1019.7L345.8 1004.2L346.5 990.8L347.3 979.8L348 971.8L348.7 966.9L349.5 965.4L350.2 967.2L351 972.4L351.7 980.7L352.4 991.9L353.2 1005.5L353.9 1021.1L354.7 1038.2L355.4 1056L356.1 1074L356.9 1091.5L357.6 1108L358.4 1122.8L359.1 1135.4L359.8 1145.4L360.6 1152.4L361.3 1156.1L362.1 1156.5L362.8 1153.5L363.5 1147.2L364.3 1137.8L365 1125.7L365.8 1111.3L366.5 1095.2L367.2 1077.8L368 1059.8L368.7 1041.9L369.5 1024.7L370.2 1008.7L370.9 994.6L371.7 982.9L372.4 973.9L373.1 968L373.9 965.5L374.6 966.3L375.4 970.5L376.1 977.9L376.8 988.2L377.6 1001.2L378.3 1016.2L379.1 1032.9L379.8 1050.5L380.5 1068.6L381.3 1086.3L382 1103.2L382.8 1118.5L383.5 1131.9L384.2 1142.7L385 1150.6L385.7 1155.3L386.5 1156.7L387.2 1154.7L387.9 1149.4L388.7 1140.9L389.4 1129.6L390.2 1115.9L390.9 1100.2L391.6 1083.2L392.4 1065.3L393.1 1047.3L393.9 1029.8L394.6 1013.4L395.3 998.7L396.1 986.2L396.8 976.3L397.6 969.5L398.3 965.9L399 965.7L399.8 968.9L400.5 975.3L401.3 984.8L402 997L402.7 1011.5L403.5 1027.7L404.2 1045.1L405 1063.1L405.7 1081L406.4 1098.2L407.2 1114.1L407.9 1128.1L408.7 1139.7L409.4 1148.5L410.1 1154.3L410.9 1156.7L411.6 1155.7L412.3 1151.4L413.1 1143.8L413.8 1133.4L414.6 1120.3L415.3 1105.2L416 1088.5L416.8 1070.8L417.5 1052.7L418.3 1035L419 1018.2L419.7 1002.9L420.5 989.7L421.2 979L422 971.2L422.7 966.6L423.4 965.4L424.2 967.5L424.9 973L425.7 981.6L426.4 993L427.1 1006.9L427.9 1022.6L428.6 1039.7L429.4 1057.6L430.1 1075.6L430.8 1093.1L431.6 1109.4L432.3 1124.1L433.1 1136.4L433.8 1146.2L434.5 1152.9L435.3 1156.3L436 1156.4L436.8 1153L437.5 1146.4L438.2 1136.8L439 1124.5L439.7 1110L440.5 1093.7L441.2 1076.2L441.9 1058.2L442.7 1040.3L443.4 1023.2L444.2 1007.4L444.9 993.5L445.6 982L446.4 973.3L447.1 967.7L447.9 965.4L448.6 966.5L449.3 971L450.1 978.7L450.8 989.3L451.5 1002.4L452.3 1017.7L453 1034.4L453.8 1052.1L454.5 1070.2L455.2 1087.9L456 1104.6L456.7 1119.8L457.5 1133L458.2 1143.5L458.9 1151.2L459.7 1155.6L460.4 1156.7L461.2 1154.4L461.9 1148.8L462.6 1140L463.4 1128.5L464.1 1114.6L464.9 1098.8L465.6 1081.6L466.3 1063.7L467.1 1045.7L467.8 1028.3L468.6 1012L469.3 997.4L470 985.2L470.8 975.6L471.5 969L472.3 965.7L473 965.8L473.7 969.3L474.5 976L475.2 985.8L476 998.2L476.7 1012.9L477.4 1029.2L478.2 1046.7L478.9 1064.7L479.7 1082.6L480.4 1099.7L481.1 1115.4L481.9 1129.2L482.6 1140.6L483.4 1149.2L484.1 1154.6L484.8 1156.7L485.6 1155.4L486.3 1150.8L487 1143L487.8 1132.3L488.5 1119L489.3 1103.7L490 1086.9L490.7 1069.2L491.5 1051.1L492.2 1033.5L493 1016.8L493.7 1001.6L494.4 988.6L495.2 978.2L495.9 970.7L496.7 966.4L497.4 965.4L498.1 967.9L498.9 973.7L499.6 982.5L500.4 994.2L501.1 1008.2L501.8 1024.1L502.6 1041.3L503.3 1059.2L504.1 1077.2L504.8 1094.6L505.5 1110.8L506.3 1125.3L507 1137.4L507.8 1146.9L508.5 1153.3L509.2 1156.4L510 1156.2L510.7 1152.6L511.5 1145.7L512.2 1135.8L512.9 1123.3L513.7 1108.6L514.4 1092.1L515.2 1074.6L515.9 1056.6L516.6 1038.7L517.4 1021.7L518.1 1006L518.9 992.3L519.6 981.1L520.3 972.6L521.1 967.3L521.8 965.4L522.6 966.8L523.3 971.6L524 979.5L524.8 990.4L525.5 1003.7L526.2 1019.1L527 1036L527.7 1053.8L528.5 1071.8L529.2 1089.4L529.9 1106.1L530.7 1121.1L531.4 1134L532.2 1144.3L532.9 1151.7L533.6 1155.8L534.4 1156.6L535.1 1154L535.9 1148.1L536.6 1139.1L537.3 1127.3L538.1 1113.2L538.8 1097.3L539.6 1080L540.3 1062.1L541 1044.1L541.8 1026.7L542.5 1010.6L543.3 996.2L544 984.2L544.7 974.9L545.5 968.6L546.2 965.6L547 966L547.7 969.8L548.4 976.8L549.2 986.8L549.9 999.4L550.7 1014.3L551.4 1030.7L552.1 1048.3L552.9 1066.3L553.6 1084.1L554.4 1101.2L555.1 1116.7L555.8 1130.3L556.6 1141.5L557.3 1149.8L558.1 1154.9L558.8 1156.7L559.5 1155.2L560.3 1150.2L561 1142.2L561.8 1131.2L562.5 1117.7L563.2 1102.3L564 1085.3L564.7 1067.5L565.4 1049.5L566.2 1031.9L566.9 1015.3L567.7 1000.4L568.4 987.6L569.1 977.4L569.9 970.2L570.6 966.2L571.4 965.5L572.1 968.3L572.8 974.3L573.6 983.5L574.3 995.3L575.1 1009.6L575.8 1025.6L576.5 1042.9L577.3 1060.8L578 1078.8L578.8 1096.1L579.5 1112.2L580.2 1126.5L581 1138.4L581.7 1147.6L582.5 1153.7L583.2 1156.6L583.9 1156L584.7 1152.1L585.4 1144.9L586.2 1134.8L586.9 1122L587.6 1107.1L588.4 1090.6L589.1 1073L589.9 1055L590.6 1037.2L591.3 1020.2L592.1 1004.7L592.8 991.2L593.6 980.2L594.3 972L595 967L595.8 965.4L596.5 967.1L597.3 972.2L598 980.4L598.7 991.5L599.5 1005L600.2 1020.6L601 1037.6L601.7 1055.4L602.4 1073.4L603.2 1091L603.9 1107.5L604.6 1122.4L605.4 1135L606.1 1145.1L606.9 1152.2L607.6 1156.1L608.3 1156.5L609.1 1153.6L609.8 1147.4L610.6 1138.2L611.3 1126.2L612 1111.9L612.8 1095.7L613.5 1078.4L614.3 1060.4L615 1042.5L615.7 1025.2L616.5 1009.2L617.2 995.1L618 983.2L618.7 974.2L619.4 968.2L620.2 965.5L620.9 966.2L621.7 970.3L622.4 977.6L623.1 987.8L623.9 1000.7L624.6 1015.7L625.4 1032.3L626.1 1049.9L626.8 1067.9L627.6 1085.7L628.3 1102.6L629.1 1118.1L629.8 1131.5L630.5 1142.4L631.3 1150.4L632 1155.2L632.8 1156.7L633.5 1154.9L634.2 1149.6L635 1141.3L635.7 1130.1L636.5 1116.4L637.2 1100.8L637.9 1083.8L638.7 1065.9L639.4 1047.9L640.2 1030.4L640.9 1013.9L641.6 999.1L642.4 986.5L643.1 976.6L643.8 969.7L644.6 966L645.3 965.6L646.1 968.7L646.8 975L647.5 984.4L648.3 996.5L649 1010.9L649.8 1027.1L650.5 1044.5L651.2 1062.5L652 1080.4L652.7 1097.6L653.5 1113.6L654.2 1127.6L654.9 1139.3L655.7 1148.3L656.4 1154.1L657.2 1156.6L657.9 1155.8L658.6 1151.6L659.4 1144.1L660.1 1133.8L660.9 1120.8L661.6 1105.7L662.3 1089L663.1 1071.4L663.8 1053.4L664.6 1035.6L665.3 1018.8L666 1003.4L666.8 990.1L667.5 979.3L668.3 971.4L669 966.7L669.7 965.4L670.5 967.4L671.2 972.8L672 981.3L672.7 992.6L673.4 1006.4L674.2 1022.1L674.9 1039.1L675.7 1057L676.4 1075L677.1 1092.5L677.9 1108.9L678.6 1123.6L679.4 1136.1L680.1 1145.9L680.8 1152.7L681.6 1156.2L682.3 1156.4L683 1153.2L683.8 1146.7L684.5 1137.2L685.3 1125L686 1110.5L686.7 1094.2L687.5 1076.8L688.2 1058.8L689 1040.9L689.7 1023.7L690.4 1007.9L691.2 993.9L691.9 982.3L692.7 973.5L693.4 967.8L694.1 965.4L694.9 966.4L695.6 970.8L696.4 978.4L697.1 988.9L697.8 1002L698.6 1017.1L699.3 1033.8L700.1 1051.5L700.8 1069.6L701.5 1087.3L702.3 1104.1L703 1119.3L703.8 1132.5L704.5 1143.2L705.2 1151L706 1155.5L706.7 1156.7L707.5 1154.5L708.2 1149L708.9 1140.4L709.7 1128.9L710.4 1115.1L711.2 1099.3L711.9 1082.2L712.6 1064.3L713.4 1046.3L714.1 1028.8L714.9 1012.5L715.6 997.9L716.3 985.5L717.1 975.9L717.8 969.2L718.6 965.8L719.3 965.8L720 969.1L720.8 975.8L721.5 985.4L722.2 997.7L723 1012.3L723.7 1028.6L724.5 1046.1L725.2 1064.1L725.9 1082L726.7 1099.1L727.4 1114.9L728.2 1128.8L728.9 1140.3L729.6 1148.9L730.4 1154.5L731.1 1156.7L731.9 1155.5L732.6 1151L733.3 1143.3L734.1 1132.7L734.8 1119.5L735.6 1104.3L736.3 1087.5L737 1069.8L737.8 1051.7L738.5 1034L739.3 1017.3L740 1002.1L740.7 989L741.5 978.5L742.2 970.9L743 966.5L743.7 965.4L744.4 967.8L745.2 973.4L745.9 982.2L746.7 993.7L747.4 1007.7L748.1 1023.5L748.9 1040.7L749.6 1058.6L750.4 1076.6L751.1 1094L751.8 1110.3L752.6 1124.8L753.3 1137.1L754.1 1146.6L754.8 1153.1L755.5 1156.4L756.3 1156.3L757 1152.7L757.8 1146L758.5 1136.2L759.2 1123.8L760 1109.1L760.7 1092.7L761.4 1075.2L762.2 1057.2L762.9 1039.3L763.7 1022.2L764.4 1006.5L765.1 992.7L765.9 981.4L766.6 972.9L767.4 967.5L768.1 965.4L768.8 966.7L769.6 971.4L770.3 979.2L771.1 990L771.8 1003.2L772.5 1018.6L773.3 1035.4L774 1053.1L774.8 1071.2L775.5 1088.8L776.2 1105.5L777 1120.6L777.7 1133.6L778.5 1144L779.2 1151.5L779.9 1155.8L780.7 1156.7L781.4 1154.2L782.2 1148.4L782.9 1139.5L783.6 1127.8L784.4 1113.7L785.1 1097.8L785.9 1080.6L786.6 1062.7L787.3 1044.7L788.1 1027.3L788.8 1011.1L789.6 996.7L790.3 984.6L791 975.1L791.8 968.8L792.5 965.7L793.3 965.9L794 969.6L794.7 976.5L795.5 986.4L796.2 999L797 1013.7L797.7 1030.2L798.4 1047.7L799.2 1065.7L799.9 1083.6L800.6 1100.6L801.4 1116.2L802.1 1129.9L802.9 1141.2L803.6 1149.6L804.3 1154.8L805.1 1156.7L805.8 1155.3L806.6 1150.5L807.3 1142.5L808 1131.6L808.8 1118.2L809.5 1102.8L810.3 1085.9L811 1068.2L811.7 1050.1L812.5 1032.5L813.2 1015.9L814 1000.9L814.7 988L815.4 977.7L816.2 970.3L816.9 966.2L817.7 965.5L818.4 968.1L819.1 974.1L819.9 983.1L820.6 994.9L821.4 1009L822.1 1025L822.8 1042.3L823.6 1060.2L824.3 1078.2L825.1 1095.5L825.8 1111.7L826.5 1126L827.3 1138L828 1147.3L828.8 1153.6L829.5 1156.5L830.2 1156.1L831 1152.3L831.7 1145.2L832.5 1135.2L833.2 1122.5L833.9 1107.7L834.7 1091.2L835.4 1073.6L836.1 1055.6L836.9 1037.8L837.6 1020.8L838.4 1005.2L839.1 991.6L839.8 980.5L840.6 972.2L841.3 967.1L842.1 965.4L842.8 967L843.5 971.9L844.3 980.1L845 991.1L845.8 1004.5L846.5 1020L847.2 1037L848 1054.8L848.7 1072.8L849.5 1090.4L850.2 1106.9L850.9 1121.9L851.7 1134.7L852.4 1144.8L853.2 1152L853.9 1156L854.6 1156.6L855.4 1153.8L856.1 1147.7L856.9 1138.5L857.6 1126.6L858.3 1112.4L859.1 1096.3L859.8 1079L860.6 1061.1L861.3 1043.1L862 1025.8L862.8 1009.7L863.5 995.5L864.3 983.6L865 974.4L865.7 968.3L866.5 965.5L867.2 966.1L868 970.1L868.7 977.3L869.4 987.4L870.2 1000.2L870.9 1015.1L871.7 1031.7L872.4 1049.3L873.1 1067.3L873.9 1085.1L874.6 1102.1L875.3 1117.6L876.1 1131L876.8 1142L877.6 1150.2L878.3 1155.1L879 1156.7L879.8 1155L880.5 1149.9L881.3 1141.6L882 1130.5L882.7 1116.9L883.5 1101.4L884.2 1084.4L885 1066.5L885.7 1048.5L886.4 1030.9L887.2 1014.4L887.9 999.6L888.7 986.9L889.4 976.9L890.1 969.8L890.9 966L891.6 965.6L892.4 968.5L893.1 974.8L893.8 984.1L894.6 996.1L895.3 1010.4L896.1 1026.5L896.8 1043.9L897.5 1061.9L898.3 1079.8L899 1097.1L899.8 1113L900.5 1127.2L901.2 1139L902 1148L902.7 1154L903.5 1156.6L904.2 1155.9L904.9 1151.8L905.7 1144.4L906.4 1134.1L907.2 1121.3L907.9 1106.3L908.6 1089.6L909.4 1072L910.1 1054L910.9 1036.2L911.6 1019.3L912.3 1003.9L913.1 990.5L913.8 979.6L914.5 971.7L915.3 966.8L916 965.4L916.8 967.3L917.5 972.5L918.2 980.9L919 992.2L919.7 1005.9L920.5 1021.5L921.2 1038.5L921.9 1056.4L922.7 1074.4L923.4 1091.9L924.2 1108.4L924.9 1123.1L925.6 1135.7L926.4 1145.6L927.1 1152.5L927.9 1156.2L928.6 1156.5L929.3 1153.4L930.1 1147L930.8 1137.6L931.6 1125.4L932.3 1111L933 1094.8L933.8 1077.4L934.5 1059.4L935.3 1041.5L936 1024.3L936.7 1008.4L937.5 994.3L938.2 982.6L939 973.7L939.7 967.9L940.4 965.5L941.2 966.3L941.9 970.6L942.7 978.1L943.4 988.5L944.1 1001.5L944.9 1016.6L945.6 1033.3L946.4 1050.9L947.1 1068.9L947.8 1086.7L948.6 1103.5L949.3 1118.9L950.1 1132.1L950.8 1142.9L951.5 1150.7L952.3 1155.4L953 1156.7L953.7 1154.7L954.5 1149.3L955.2 1140.7L956 1129.4L956.7 1115.6L957.4 1099.9L958.2 1082.8L958.9 1064.9L959.7 1046.9L960.4 1029.4L961.1 1013L961.9 998.4L962.6 985.9L963.4 976.1L964.1 969.4L964.8 965.9L965.6 965.7L966.3 969L967.1 975.5L967.8 985L968.5 997.3L969.3 1011.8L970 1028.1L970.8 1045.5L971.5 1063.5L972.2 1081.4L973 1098.6L973.7 1114.4L974.5 1128.4L975.2 1139.9L975.9 1148.7L976.7 1154.3L977.4 1156.7L978.2 1155.6L978.9 1151.2L979.6 1143.6L980.4 1133.1L981.1 1120L981.9 1104.8L982.6 1088.1L983.3 1070.4L984.1 1052.4L984.8 1034.6L985.6 1017.9L986.3 1002.6L987 989.4L987.8 978.8L988.5 971.1L989.3 966.6L990 965.4L990.7 967.6L991.5 973.2L992.2 981.8L992.9 993.3L993.7 1007.2L994.4 1023L995.2 1040.1L995.9 1058L996.6 1076L997.4 1093.5L998.1 1109.8L998.9 1124.4L999.6 1136.7L1000.3 1146.3L1001.1 1153L1001.8 1156.3L1002.6 1156.3L1003.3 1152.9L1004 1146.3L1004.8 1136.6L1005.5 1124.2L1006.3 1109.6L1007 1093.3L1007.7 1075.8L1008.5 1057.8L1009.2 1039.9L1010 1022.8L1010.7 1007L1011.4 993.2L1012.2 981.7L1012.9 973.1L1013.7 967.6L1014.4 965.4L1015.1 966.6L1015.9 971.1L1016.6 978.9L1017.4 989.6L1018.1 1002.7L1018.8 1018L1019.6 1034.8L1020.3 1052.5L1021.1 1070.6L1021.8 1088.3L1022.5 1105L1023.3 1120.1L1024 1133.2L1024.8 1143.7L1025.5 1151.3L1026.2 1155.7L1027 1156.7L1027.7 1154.3L1028.5 1148.6L1029.2 1139.8L1029.9 1128.2L1030.7 1114.2L1031.4 1098.4L1032.1 1081.2L1032.9 1063.3L1033.6 1045.3L1034.4 1027.9L1035.1 1011.6L1035.8 997.1L1036.6 984.9L1037.3 975.4L1038.1 968.9L1038.8 965.7L1039.5 965.9L1040.3 969.4L1041 976.2L1041.8 986L1042.5 998.5L1043.2 1013.2L1044 1029.6L1044.7 1047.1L1045.5 1065.1L1046.2 1083L1046.9 1100L1047.7 1115.7L1048.4 1129.5L1049.2 1140.8L1049.9 1149.3L1050.6 1154.7L1051.4 1156.7L1052.1 1155.4L1052.9 1150.7L1053.6 1142.8L1054.3 1132L1055.1 1118.7L1055.8 1103.4L1056.6 1086.5L1057.3 1068.8L1058 1050.7L1058.8 1033.1L1059.5 1016.4L1060.3 1001.3L1061 988.4L1061.7 978L1062.5 970.5L1063.2 966.3L1064 965.5L1064.7 968L1065.4 973.8L1066.2 982.8L1066.9 994.5L1067.7 1008.5L1068.4 1024.5L1069.1 1041.7L1069.9 1059.6L1070.6 1077.6L1071.3 1095L1072.1 1111.2L1072.8 1125.6L1073.6 1137.7L1074.3 1147.1L1075 1153.4L1075.8 1156.5L1076.5 1156.1L1077.3 1152.5L1078 1145.5L1078.7 1135.6L1079.5 1123L1080.2 1108.2L1081 1091.8L1081.7 1074.2L1082.4 1056.2L1083.2 1038.4L1083.9 1021.3L1084.7 1005.7L1085.4 992L1086.1 980.8L1086.9 972.5L1087.6 967.3L1088.4 965.4L1089.1 966.9L1089.8 971.7L1090.6 979.7L1091.3 990.6L1092.1 1004L1092.8 1019.5L1093.5 1036.4L1094.3 1054.1L1095 1072.2L1095.8 1089.8L1096.5 1106.4L1097.2 1121.4L1098 1134.3L1098.7 1144.5L1099.5 1151.8L1100.2 1155.9L1100.9 1156.6L1101.7 1153.9L1102.4 1147.9L1103.2 1138.9L1103.9 1127.1L1104.6 1112.9L1105.4 1096.9L1106.1 1079.6L1106.9 1061.7L1107.6 1043.7L1108.3 1026.4L1109.1 1010.3L1109.8 996L1110.5 984L1111.3 974.7L1112 968.5L1112.8 965.6L1113.5 966.1L1114.2 969.9L1115 977L1115.7 987L1116.5 999.7L1117.2 1014.6L1117.9 1031.1L1118.7 1048.7L1119.4 1066.7L1120.2 1084.5L1120.9 1101.5L1121.6 1117.1L1122.4 1130.6L1123.1 1141.7L1123.9 1149.9L1124.6 1155L1125.3 1156.7L1126.1 1155.1L1126.8 1150.1L1127.6 1141.9L1128.3 1130.9L1129 1117.4L1129.8 1101.9L1130.5 1085L1131.3 1067.1L1132 1049.1L1132.7 1031.5L1133.5 1015L1134.2 1000.1L1135 987.3L1135.7 977.2L1136.4 970L1137.2 966.1L1137.9 965.5L1138.7 968.4L1139.4 974.5L1140.1 983.7L1140.9 995.6L1141.6 1009.9L1142.4 1026L1143.1 1043.3L1143.8 1061.2L1144.6 1079.2L1145.3 1096.5L1146.1 1112.5L1146.8 1126.7L1147.5 1138.6L1148.3 1147.8L1149 1153.8L1149.7 1156.6L1150.5 1156L1151.2 1152L1152 1144.7L1152.7 1134.5L1153.4 1121.7L1154.2 1106.8L1154.9 1090.2L1155.7 1072.6L1156.4 1054.6L1157.1 1036.8L1157.9 1019.9L1158.6 1004.4L1159.4 990.9L1160.1 980L1160.8 971.9L1161.6 966.9L1162.3 965.4L1163.1 967.2L1163.8 972.3L1164.5 980.6L1165.3 991.7L1166 1005.4L1166.8 1020.9L1167.5 1037.9L1168.2 1055.8L1169 1073.8L1169.7 1091.3L1170.5 1107.8L1171.2 1122.7L1171.9 1135.3L1172.7 1145.3L1173.4 1152.3L1174.2 1156.1L1174.9 1156.5L1175.6 1153.5L1176.4 1147.3L1177.1 1137.9L1177.9 1125.9L1178.6 1111.5L1179.3 1095.4L1180.1 1078L1180.8 1060.1L1181.6 1042.1L1182.3 1024.9L1183 1008.9L1183.8 994.8L1184.5 983L1185.2 974L1186 968.1L1186.7 965.5L1187.5 966.3L1188.2 970.4L1188.9 977.8L1189.7 988.1L1190.4 1001L1191.2 1016L1191.9 1032.7L1192.6 1050.3L1193.4 1068.3L1194.1 1086.1L1194.9 1103L1195.6 1118.4L1196.3 1131.7L1197.1 1142.6L1197.8 1150.5L1198.6 1155.3L1199.3 1156.7L1200 1154.8L1200.8 1149.5L1201.5 1141.1L1202.3 1129.8L1203 1116.1L1203.7 1100.4L1204.5 1083.4L1205.2 1065.5L1206 1047.5L1206.7 1030L1207.4 1013.6L1208.2 998.8L1208.9 986.3L1209.7 976.4L1210.4 969.5L1211.1 965.9L1211.9 965.7L1212.6 968.8L1213.4 975.2L1214.1 984.7L1214.8 996.8L1215.6 1011.3L1216.3 1027.5L1217.1 1044.9L1217.8 1062.9L1218.5 1080.8L1219.3 1098L1220 1113.9L1220.8 1127.9L1221.5 1139.6L1222.2 1148.4L1223 1154.2L1223.7 1156.7L1224.4 1155.7L1225.2 1151.4L1225.9 1143.9L1226.7 1133.5L1227.4 1120.5L1228.1 1105.4L1228.9 1088.7L1229.6 1071L1230.4 1053L1231.1 1035.2L1231.8 1018.4L1232.6 1003.1L1233.3 989.8L1234.1 979.1L1234.8 971.3L1235.5 966.7L1236.3 965.4L1237 967.5L1237.8 972.9L1238.5 981.5L1239.2 992.9L1240 1006.7L1240.7 1022.4L1241.5 1039.5L1242.2 1057.4L1242.9 1075.4L1243.7 1092.9L1244.4 1109.2L1245.2 1123.9L1245.9 1136.3L1246.6 1146.1L1247.4 1152.8L1248.1 1156.3L1248.9 1156.4L1249.6 1153.1L1250.3 1146.5L1251.1 1137L1251.8 1124.7L1252.6 1110.1L1253.3 1093.9L1254 1076.4L1254.8 1058.4L1255.5 1040.5L1256.3 1023.4L1257 1007.5L1257.7 993.6L1258.5 982.1L1259.2 973.3L1260 967.7L1260.7 965.4L1261.4 966.5L1262.2 970.9L1262.9 978.6L1263.6 989.1L1264.4 1002.3L1265.1 1017.5L1265.9 1034.2L1266.6 1051.9L1267.3 1070L1268.1 1087.7L1268.8 1104.4L1269.6 1119.7L1270.3 1132.8L1271 1143.4L1271.8 1151.1L1272.5 1155.6L1273.3 1156.7L1274 1154.4L1274.7 1148.9L1275.5 1140.2L1276.2 1128.7L1277 1114.8L1277.7 1098.9L1278.4 1081.8L1279.2 1063.9L1279.9 1045.9L1280.7 1028.5L1281.4 1012.2L1282.1 997.6L1282.9 985.3L1283.6 975.7L1284.4 969.1L1285.1 965.8L1285.8 965.8L1286.6 969.2L1287.3 975.9L1288.1 985.6L1288.8 998L1289.5 1012.7L1290.3 1029L1291 1046.5L1291.8 1064.5L1292.5 1082.4L1293.2 1099.5L1294 1115.2L1294.7 1129.1L1295.5 1140.5L1296.2 1149.1L1296.9 1154.6L1297.7 1156.7L1298.4 1155.5L1299.2 1150.9L1299.9 1143.1L1300.6 1132.4L1301.4 1119.2L1302.1 1103.9L1302.8 1087.1L1303.6 1069.4L1304.3 1051.3L1305.1 1033.7L1305.8 1017L1306.5 1001.8L1307.3 988.8L1308 978.3L1308.8 970.7L1309.5 966.4L1310.2 965.4L1311 967.8L1311.7 973.6L1312.5 982.4L1313.2 994L1313.9 1008L1314.7 1023.9L1315.4 1041.1L1316.2 1059L1316.9 1077L1317.6 1094.4L1318.4 1110.6L1319.1 1125.1L1319.9 1137.3L1320.6 1146.8L1321.3 1153.2L1322.1 1156.4L1322.8 1156.2L1323.6 1152.6L1324.3 1145.8L1325 1136L1325.8 1123.5L1326.5 1108.7L1327.3 1092.3L1328 1074.8L1328.7 1056.8L1329.5 1039L1330.2 1021.9L1331 1006.2L1331.7 992.5L1332.4 981.2L1333.2 972.7L1333.9 967.4L1334.7 965.4L1335.4 966.8L1336.1 971.5L1336.9 979.4L1337.6 990.2L1338.4 1003.6L1339.1 1018.9L1339.8 1035.8L1340.6 1053.5L1341.3 1071.6L1342 1089.2L1342.8 1105.9L1343.5 1120.9L1344.3 1133.9L1345 1144.2L1345.7 1151.6L1346.5 1155.8L1347.2 1156.6L1348 1154.1L1348.7 1148.2L1349.4 1139.2L1350.2 1127.5L1350.9 1113.4L1351.7 1097.5L1352.4 1080.2L1353.1 1062.3L1353.9 1044.3L1354.6 1026.9L1355.4 1010.8L1356.1 996.4L1356.8 984.3L1357.6 975L1358.3 968.6L1359.1 965.6L1359.8 966L1360.5 969.7L1361.3 976.7L1362 986.7L1362.8 999.3L1363.5 1014.1L1364.2 1030.5L1365 1048.1L1365.7 1066.1L1366.5 1083.9L1367.2 1101L1367.9 1116.6L1368.7 1130.2L1369.4 1141.4L1370.2 1149.7L1370.9 1154.9L1371.6 1156.7L1372.4 1155.2L1373.1 1150.3L1373.9 1142.3L1374.6 1131.3L1375.3 1117.9L1376.1 1102.5L1376.8 1085.5L1377.6 1067.8L1378.3 1049.7L1379 1032.1L1379.8 1015.5L1380.5 1000.5L1381.2 987.7L1382 977.5L1382.7 970.2L1383.5 966.2L1384.2 965.5L1384.9 968.2L1385.7 974.2L1386.4 983.3L1387.2 995.2L1387.9 1009.4L1388.6 1025.4L1389.4 1042.7L1390.1 1060.6L1390.9 1078.6L1391.6 1095.9L1392.3 1112L1393.1 1126.3L1393.8 1138.3L1394.6 1147.5L1395.3 1153.7L1396 1156.5L1396.8 1156L1397.5 1152.1L1398.3 1145L1399 1134.9L1399.7 1122.2L1400.5 1107.3L1401.2 1090.8L1402 1073.2L1402.7 1055.2L1403.4 1037.4L1404.2 1020.4L1404.9 1004.9L1405.7 991.3L1406.4 980.3L1407.1 972.1L1407.9 967.1L1408.6 965.4L1409.4 967.1L1410.1 972.1L1410.8 980.3L1411.6 991.3L1412.3 1004.9L1413.1 1020.4L1413.8 1037.3L1414.5 1055.2L1415.3 1073.2L1416 1090.8L1416.8 1107.3L1417.5 1122.2L1418.2 1134.9L1419 1145L1419.7 1152.1L1420.4 1156L1421.2 1156.5L1421.9 1153.7L1422.7 1147.5L1423.4 1138.3L1424.1 1126.3L1424.9 1112L1425.6 1096L1426.4 1078.6L1427.1 1060.7L1427.8 1042.7L1428.6 1025.4L1429.3 1009.4L1430.1 995.2L1430.8 983.4L1431.5 974.3L1432.3 968.2L1433 965.5L1433.8 966.2L1434.5 970.2L1435.2 977.5L1436 987.7L1436.7 1000.5L1437.5 1015.5L1438.2 1032.1L1438.9 1049.7L1439.7 1067.7L1440.4 1085.5L1441.2 1102.4L1441.9 1117.9L1442.6 1131.3L1443.4 1142.2L1444.1 1150.3L1444.9 1155.2L1445.6 1156.7L1446.3 1154.9L1447.1 1149.7L1447.8 1141.4L1448.6 1130.2L1449.3 1116.6L1450 1101L1450.8 1084L1451.5 1066.1L1452.3 1048.1L1453 1030.6L1453.7 1014.1L1454.5 999.3L1455.2 986.7L1456 976.7L1456.7 969.7L1457.4 966L1458.2 965.6L1458.9 968.6L1459.6 974.9L1460.4 984.3L1461.1 996.4L1461.9 1010.8L1462.6 1026.9L1463.3 1044.3L1464.1 1062.3L1464.8 1080.2L1465.6 1097.4L1466.3 1113.4L1467 1127.5L1467.8 1139.2L1468.5 1148.2L1469.3 1154.1L1470 1156.6L1470.7 1155.8L1471.5 1151.6L1472.2 1144.2L1473 1133.9L1473.7 1121L1474.4 1105.9L1475.2 1089.3L1475.9 1071.6L1476.7 1053.6L1477.4 1035.8L1478.1 1018.9L1478.9 1003.6L1479.6 990.2L1480.4 979.4L1481.1 971.5L1481.8 966.8L1482.6 965.4L1483.3 967.4L1484.1 972.7L1484.8 981.2L1485.5 992.4L1486.3 1006.2L1487 1021.9L1487.8 1038.9L1488.5 1056.8L1489.2 1074.8L1490 1092.3L1490.7 1108.7L1491.5 1123.4L1492.2 1135.9L1492.9 1145.8L1493.7 1152.6L1494.4 1156.2L1495.1 1156.4L1495.9 1153.3L1496.6 1146.8L1497.4 1137.3L1498.1 1125.1L1498.8 1110.7L1499.6 1094.4L1500.3 1077L1501.1 1059L1501.8 1041.1L1502.5 1023.9L1503.3 1008L1504 994L1504.8 982.4L1505.5 973.6L1506.2 967.9L1507 965.4L1507.7 966.4L1508.5 970.7L1509.2 978.3L1509.9 988.7L1510.7 1001.8L1511.4 1016.9L1512.2 1033.6L1512.9 1051.3L1513.6 1069.3L1514.4 1087.1L1515.1 1103.9L1515.9 1119.2L1516.6 1132.4L1517.3 1143.1L1518.1 1150.9L1518.8 1155.5L1519.6 1156.7L1520.3 1154.6L1521 1149.1L1521.8 1140.5L1522.5 1129.1L1523.3 1115.3L1524 1099.5L1524.7 1082.4L1525.5 1064.5L1526.2 1046.5L1527 1029L1527.7 1012.7L1528.4 998.1L1529.2 985.7L1529.9 976L1530.7 969.3L1531.4 965.8L1532.1 965.8L1532.9 969.1L1533.6 975.7L1534.3 985.3L1535.1 997.6L1535.8 1012.1L1536.6 1028.4L1537.3 1045.9L1538 1063.9L1538.8 1081.8L1539.5 1098.9L1540.3 1114.7L1541 1128.6L1541.7 1140.1L1542.5 1148.8L1543.2 1154.4L1544 1156.7L1544.7 1155.6L1545.4 1151.1L1546.2 1143.4L1546.9 1132.8L1547.7 1119.7L1548.4 1104.5L1549.1 1087.7L1549.9 1070L1550.6 1052L1551.4 1034.3L1552.1 1017.5L1552.8 1002.3L1553.6 989.2L1554.3 978.6L1555.1 971L1555.8 966.5L1556.5 965.4L1557.3 967.7L1558 973.3L1558.8 982.1L1559.5 993.6L1560.2 1007.5L1561 1023.3L1561.7 1040.5L1562.5 1058.4L1563.2 1076.4L1563.9 1093.8L1564.7 1110.1L1565.4 1124.6L1566.2 1136.9L1566.9 1146.5L1567.6 1153.1L1568.4 1156.4L1569.1 1156.3L1569.9 1152.8L1570.6 1146.1L1571.3 1136.3L1572.1 1123.9L1572.8 1109.3L1573.5 1092.9L1574.3 1075.4L1575 1057.4L1575.8 1039.6L1576.5 1022.4L1577.2 1006.7L1578 992.9L1578.7 981.5L1579.5 972.9L1580.2 967.5L1580.9 965.4L1581.7 966.7L1582.4 971.3L1583.2 979.1L1583.9 989.8L1584.6 1003.1L1585.4 1018.4L1586.1 1035.2L1586.9 1052.9L1587.6 1071L1588.3 1088.6L1589.1 1105.3L1589.8 1120.5L1590.6 1133.5L1591.3 1143.9L1592 1151.4L1592.8 1155.7L1593.5 1156.7L1594.3 1154.2L1595 1148.5L1595.7 1139.6L1596.5 1127.9L1597.2 1113.9L1598 1098L1598.7 1080.8L1599.4 1062.9L1600.2 1044.9L1600.9 1027.5L1601.7 1011.3L1602.4 996.9L1603.1 984.7L1603.9 975.2L1604.6 968.8L1605.4 965.7L1606.1 965.9L1606.8 969.5L1607.6 976.4L1608.3 986.3L1609.1 998.8L1609.8 1013.5L1610.5 1030L1611.3 1047.5L1612 1065.5L1612.7 1083.3L1613.5 1100.4L1614.2 1116.1L1615 1129.8L1615.7 1141L1616.4 1149.5L1617.2 1154.8L1617.9 1156.7L1618.7 1155.3L1619.4 1150.5L1620.1 1142.6L1620.9 1131.7L1621.6 1118.4L1622.4 1103L1623.1 1086.1L1623.8 1068.4L1624.6 1050.3L1625.3 1032.7L1626.1 1016.1L1626.8 1001L1627.5 988.1L1628.3 977.8L1629 970.4L1629.8 966.3L1630.5 965.5L1631.2 968.1L1632 974L1632.7 983L1633.5 994.7L1634.2 1008.9L1634.9 1024.8L1635.7 1042.1L1636.4 1060L1637.2 1078L1637.9 1095.3L1638.6 1111.5L1639.4 1125.9L1640.1 1137.9L1640.9 1147.2L1641.6 1153.5L1642.3 1156.5L1643.1 1156.1L1643.8 1152.3L1644.6 1145.3L1645.3 1135.3L1646 1122.7L1646.8 1107.9L1647.5 1091.4L1648.3 1073.8L1649 1055.8L1649.7 1038L1650.5 1021L1651.2 1005.4L1651.9 991.8L1652.7 980.6L1653.4 972.3L1654.2 967.2L1654.9 965.4L1655.6 966.9L1656.4 971.9L1657.1 979.9L1657.9 990.9L1658.6 1004.4L1659.3 1019.8L1660.1 1036.8L1660.8 1054.5L1661.6 1072.6L1662.3 1090.2L1663 1106.8L1663.8 1121.7L1664.5 1134.5L1665.3 1144.7L1666 1151.9L1666.7 1155.9L1667.5 1156.6L1668.2 1153.8L1669 1147.8L1669.7 1138.7L1670.4 1126.8L1671.2 1112.6L1671.9 1096.5L1672.7 1079.2L1673.4 1061.3L1674.1 1043.3L1674.9 1026L1675.6 1009.9L1676.4 995.7L1677.1 983.7L1677.8 974.5L1678.6 968.4L1679.3 965.6L1680.1 966.1L1680.8 970L1681.5 977.2L1682.3 987.3L1683 1000L1683.8 1015L1684.5 1031.5L1685.2 1049.1L1686 1067.1L1686.7 1084.9L1687.5 1101.9L1688.2 1117.4L1688.9 1130.9L1689.7 1141.9L1690.4 1150.1L1691.1 1155.1L1691.9 1156.7L1692.6 1155L1693.4 1150L1694.1 1141.7L1694.8 1130.6L1695.6 1117.1L1696.3 1101.5L1697.1 1084.6L1697.8 1066.8L1698.5 1048.7L1699.3 1031.2L1700 1014.6L1700.8 999.8L1701.5 987.1L1702.2 977L1703 969.9L1703.7 966.1L1704.5 965.6L1705.2 968.5L1705.9 974.7L1706.7 983.9L1707.4 995.9L1708.2 1010.2L1708.9 1026.3L1709.6 1043.7L1710.4 1061.6L1711.1 1079.6L1711.9 1096.9L1712.6 1112.9L1713.3 1127L1714.1 1138.9L1714.8 1147.9L1715.6 1153.9L1716.3 1156.6L1717 1155.9L1717.8 1151.8L1718.5 1144.5L1719.3 1134.3L1720 1121.4L1720.7 1106.4L1721.5 1089.8L1722.2 1072.2L1723 1054.2L1723.7 1036.4L1724.4 1019.5L1725.2 1004.1L1725.9 990.7L1726.7 979.8L1727.4 971.7L1728.1 966.9L1728.9 965.4L1729.6 967.2L1730.3 972.5L1731.1 980.8L1731.8 992L1732.6 1005.7L1733.3 1021.3L1734 1038.3L1734.8 1056.2L1735.5 1074.2L1736.3 1091.7L1737 1108.2L1737.7 1123L1738.5 1135.5L1739.2 1145.5L1740 1152.4L1740.7 1156.1L1741.4 1156.5L1742.2 1153.4L1742.9 1147.1L1743.7 1137.7L1744.4 1125.6L1745.1 1111.2L1745.9 1095L1746.6 1077.6L1747.4 1059.7L1748.1 1041.7L1748.8 1024.5L1749.6 1008.6L1750.3 994.5L1751.1 982.8L1751.8 973.8L1752.5 968L1753.3 965.5L1754 966.3L1754.8 970.5L1755.5 978L1756.2 988.3L1757 1001.3L1757.7 1016.4L1758.5 1033L1759.2 1050.7L1759.9 1068.7L1760.7 1086.5L1761.4 1103.3L1762.2 1118.7L1762.9 1132L1763.6 1142.8L1764.4 1150.7L1765.1 1155.4L1765.9 1156.7L1766.6 1154.7L1767.3 1149.3L1768.1 1140.8L1768.8 1129.5L1769.5 1115.8L1770.3 1100.1L1771 1083L1771.8 1065.1L1772.5 1047.1L1773.2 1029.6L1774 1013.2L1774.7 998.5L1775.5 986.1L1776.2 976.2L1776.9 969.4L1777.7 965.9L1778.4 965.7L1779.2 968.9L1779.9 975.4L1780.6 984.9L1781.4 997.1L1782.1 1011.6L1782.9 1027.9L1783.6 1045.3L1784.3 1063.3L1785.1 1081.2L1785.8 1098.4L1786.6 1114.2L1787.3 1128.2L1788 1139.8L1788.8 1148.6L1789.5 1154.3L1790.3 1156.7L1791 1155.7L1791.7 1151.3L1792.5 1143.7L1793.2 1133.2L1794 1120.2L1794.7 1105L1795.4 1088.3L1796.2 1070.6L1796.9 1052.6L1797.7 1034.8L1798.4 1018L1799.1 1002.8L1799.9 989.6L1800.6 978.9L1801.4 971.2L1802.1 966.6L1802.8 965.4L1803.6 967.6L1804.3 973.1L1805.1 981.7L1805.8 993.2L1806.5 1007L1807.3 1022.8L1808 1039.9L1808.7 1057.8L1809.5 1075.8L1810.2 1093.3L1811 1109.6L1811.7 1124.2L1812.4 1136.6L1813.2 1146.2L1813.9 1152.9L1814.7 1156.3L1815.4 1156.3L1816.1 1153L1816.9 1146.4L1817.6 1136.7L1818.4 1124.4L1819.1 1109.8L1819.8 1093.5L1820.6 1076L1821.3 1058L1822.1 1040.1L1822.8 1023L1823.5 1007.2L1824.3 993.3L1825 981.9L1825.8 973.2L1826.5 967.6L1827.2 965.4L1828 966.6L1828.7 971.1L1829.5 978.8L1830.2 989.4L1830.9 1002.6L1831.7 1017.8L1832.4 1034.6L1833.2 1052.3L1833.9 1070.3L1834.6 1088L1835.4 1104.8L1836.1 1120L1836.9 1133.1L1837.6 1143.6L1838.3 1151.2L1839.1 1155.6L1839.8 1156.7L1840.6 1154.3L1841.3 1148.7L1842 1139.9L1842.8 1128.4L1843.5 1114.4L1844.2 1098.6L1845 1081.4L1845.7 1063.5L1846.5 1045.5L1847.2 1028.1L1847.9 1011.8L1848.7 997.3L1849.4 985.1L1850.2 975.5L1850.9 969L1851.6 965.7L1852.4 965.8L1853.1 969.4L1853.9 976.1L1854.6 985.9L1855.3 998.3L1856.1 1013L1856.8 1029.4L1857.6 1046.9L1858.3 1064.9L1859 1082.7L1859.8 1099.8L1860.5 1115.6L1861.3 1129.3L1862 1140.7L1862.7 1149.2L1863.5 1154.6L1864.2 1156.7L1865 1155.4L1865.7 1150.8L1866.4 1142.9L1867.2 1132.2L1867.9 1118.9L1868.7 1103.6L1869.4 1086.7L1870.1 1069L1870.9 1051L1871.6 1033.3L1872.4 1016.6L1873.1 1001.5L1873.8 988.5L1874.6 978.1L1875.3 970.6L1876.1 966.4L1876.8 965.4L1877.5 967.9L1878.3 973.7L1879 982.6L1879.8 994.3L1880.5 1008.4L1881.2 1024.3L1882 1041.5L1882.7 1059.4L1883.4 1077.4L1884.2 1094.8L1884.9 1111L1885.7 1125.4L1886.4 1137.5L1887.1 1147L1887.9 1153.4L1888.6 1156.5L1889.4 1156.2L1890.1 1152.5L1890.8 1145.6L1891.6 1135.7L1892.3 1123.2L1893.1 1108.4L1893.8 1092L1894.5 1074.4L1895.3 1056.4L1896 1038.6L1896.8 1021.5L1897.5 1005.9L1898.2 992.2L1899 981L1899.7 972.6L1900.5 967.3L1901.2 965.4L1901.9 966.8L1902.7 971.6L1903.4 979.6L1904.2 990.5L1904.9 1003.9L1905.6 1019.3L1906.4 1036.2L1907.1 1053.9L1907.9 1072L1908.6 1089.6L1909.3 1106.2L1910.1 1121.2L1910.8 1134.1L1911.6 1144.4L1912.3 1151.8L1913 1155.9L1913.8 1156.6L1914.5 1154L1915.3 1148L1916 1139L1916.7 1127.2L1917.5 1113.1L1918.2 1097.1L1919 1079.8L1919.7 1061.9L1920.4 1043.9L1921.2 1026.6L1921.9 1010.4L1922.6 996.1L1923.4 984.1L1924.1 974.8L1924.9 968.5L1925.6 965.6L1926.3 966L1927.1 969.8L1927.8 976.9L1928.6 986.9L1929.3 999.6L1930 1014.4L1930.8 1030.9L1931.5 1048.5L1932.3 1066.5L1933 1084.3L1933.7 1101.3L1934.5 1116.9L1935.2 1130.5L1936 1141.6L1936.7 1149.9L1937.4 1155L1938.2 1156.7L1938.9 1155.1L1939.7 1150.2L1940.4 1142.1L1941.1 1131.1L1941.9 1117.6L1942.6 1102.1L1943.4 1085.2L1944.1 1067.4L1944.8 1049.3L1945.6 1031.7L1946.3 1015.2L1947.1 1000.2L1947.8 987.5L1948.5 977.3L1949.3 970.1L1950 966.1L1950.8 965.5L1951.5 968.3L1952.2 974.4L1953 983.6L1953.7 995.5L1954.5 1009.7L1955.2 1025.8L1955.9 1043.1L1956.7 1061L1957.4 1079L1958.2 1096.3L1958.9 1112.3L1959.6 1126.6L1960.4 1138.5L1961.1 1147.7L1961.8 1153.8L1962.6 1156.6L1963.3 1156L1964.1 1152L1964.8 1144.8L1965.5 1134.7L1966.3 1121.9L1967 1107L1967.8 1090.4L1968.5 1072.8L1969.2 1054.8L1970 1037L1970.7 1020.1L1971.5 1004.6L1972.2 991.1L1972.9 980.1L1973.7 971.9L1974.4 967L1975.2 965.4L1975.9 967.1L1976.6 972.2L1977.4 980.5L1978.1 991.6L1978.9 1005.2L1979.6 1020.7L1980.3 1037.7L1981.1 1055.6L1981.8 1073.6L1982.6 1091.1L1983.3 1107.6L1984 1122.5L1984.8 1135.2L1985.5 1145.2L1986.3 1152.3L1987 1156.1L1987.7 1156.5L1988.5 1153.6L1989.2 1147.3L1990 1138.1L1990.7 1126L1991.4 1111.7L1992.2 1095.6L1992.9 1078.2L1993.7 1060.3L1994.4 1042.3L1995.1 1025.1L1995.9 1009.1L1996.6 994.9L1997.4 983.1L1998.1 974.1L1998.8 968.1L1999.6 965.5L2000.3 966.2L2001 970.3L2001.8 977.7L2002.5 987.9L2003.3 1000.8L2004 1015.8L2004.7 1032.5L2005.5 1050.1L2006.2 1068.1L2007 1085.9L2007.7 1102.8L2008.4 1118.2L2009.2 1131.6L2009.9 1142.5L2010.7 1150.4L2011.4 1155.3L2012.1 1156.7L2012.9 1154.8L2013.6 1149.6L2014.4 1141.2L2015.1 1129.9L2015.8 1116.3L2016.6 1100.6L2017.3 1083.6L2018.1 1065.7L2018.8 1047.7L2019.5 1030.2L2020.3 1013.8L2021 999L2021.8 986.4L2022.5 976.5L2023.2 969.6L2024 965.9L2024.7 965.6L2025.5 968.7L2026.2 975.1L2026.9 984.5L2027.7 996.7L2028.4 1011.1L2029.2 1027.3L2029.9 1044.7L2030.6 1062.6L2031.4 1080.6L2032.1 1097.8L2032.9 1113.7L2033.6 1127.8L2034.3 1139.4L2035.1 1148.3L2035.8 1154.2L2036.6 1156.7L2037.3 1155.8L2038 1151.5L2038.8 1144L2039.5 1133.6L2040.2 1120.6L2041 1105.5L2041.7 1088.9L2042.5 1071.2L2043.2 1053.2L2043.9 1035.4L2044.7 1018.6L2045.4 1003.3L2046.2 990L2046.9 979.2L2047.6 971.4L2048.4 966.7L2049.1 965.4L2049.9 967.4L2050.6 972.8L2051.3 981.4L2052.1 992.7L2052.8 1006.5L2053.6 1022.2L2054.3 1039.3L2055 1057.2L2055.8 1075.2L2056.5 1092.7L2057.3 1109.1L2058 1123.7L2058.7 1136.2L2059.5 1146L2060.2 1152.7L2061 1156.3L2061.7 1156.4L2062.4 1153.1L2063.2 1146.6L2063.9 1137.1L2064.7 1124.8L2065.4 1110.3L2066.1 1094.1L2066.9 1076.6L2067.6 1058.6L2068.4 1040.7L2069.1 1023.6L2069.8 1007.7L2070.6 993.8L2071.3 982.2L2072.1 973.4L2072.8 967.8L2073.5 965.4L2074.3 966.5L2075 970.9L2075.8 978.5L2076.5 989L2077.2 1002.1L2078 1017.3L2078.7 1034L2079.4 1051.7L2080.2 1069.7L2080.9 1087.5L2081.7 1104.2L2082.4 1119.5L2083.1 1132.7L2083.9 1143.3L2084.6 1151L2085.4 1155.5L2086.1 1156.7L2086.8 1154.5L2087.6 1148.9L2088.3 1140.3L2089.1 1128.8L2089.8 1114.9L2090.5 1099.1L2091.3 1082L2092 1064.1L2092.8 1046.1L2093.5 1028.7L2094.2 1012.4L2095 997.8L2095.7 985.4L2096.5 975.8L2097.2 969.1L2097.9 965.8L2098.7 965.8L2099.4 969.2L2100.2 975.8L2100.9 985.5L2101.6 997.9L2102.4 1012.5L2103.1 1028.8L2103.9 1046.3L2104.6 1064.3L2105.3 1082.2L2106.1 1099.3L2106.8 1115.1L2107.6 1128.9L2108.3 1140.4L2109 1149L2109.8 1154.5L2110.5 1156.7L2111.3 1155.5L2112 1151L2112.7 1143.2L2113.5 1132.6L2114.2 1119.4L2115 1104.1L2115.7 1087.3L2116.4 1069.6L2117.2 1051.6L2117.9 1033.9L2118.6 1017.1L2119.4 1002L2120.1 988.9L2120.9 978.4L2121.6 970.8L2122.3 966.4L2123.1 965.4L2123.8 967.8L2124.6 973.5L2125.3 982.3L2126 993.9L2126.8 1007.8L2127.5 1023.7L2128.3 1040.9L2129 1058.8L2129.7 1076.8L2130.5 1094.2L2131.2 1110.4L2132 1124.9L2132.7 1137.2L2133.4 1146.7L2134.2 1153.2L2134.9 1156.4L2135.7 1156.2L2136.4 1152.7L2137.1 1145.9L2137.9 1136.1L2138.6 1123.6L2139.4 1108.9L2140.1 1092.5L2140.8 1075L2141.6 1057L2142.3 1039.2L2143.1 1022.1L2143.8 1006.4L2144.5 992.6L2145.3 981.3L2146 972.8L2146.8 967.4L2147.5 965.4L2148.2 966.7L2149 971.4L2149.7 979.3L2150.5 990.1L2151.2 1003.4L2151.9 1018.7L2152.7 1035.6L2153.4 1053.3L2154.1 1071.3L2154.9 1089L2155.6 1105.7L2156.4 1120.8L2157.1 1133.7L2157.8 1144.1L2158.6 1151.6L2159.3 1155.8L2160.1 1156.6L2160.8 1154.1L2161.5 1148.3L2162.3 1139.4L2163 1127.7L2163.8 1113.6L2164.5 1097.7L2165.2 1080.4L2166 1062.5L2166.7 1044.5L2167.5 1027.1L2168.2 1011L2168.9 996.6L2169.7 984.4L2170.4 975L2171.2 968.7L2171.9 965.6L2172.6 966L2173.4 969.7L2174.1 976.6L2174.9 986.5L2175.6 999.1L2176.3 1013.9L2177.1 1030.3L2177.8 1047.9L2178.6 1065.9L2179.3 1083.7L2180 1100.8L2180.8 1116.4L2181.5 1130L2182.3 1141.3L2183 1149.6L2183.7 1154.9L2184.5 1156.7L2185.2 1155.2L2186 1150.4L2186.7 1142.4L2187.4 1131.5L2188.2 1118.1L2188.9 1102.7L2189.7 1085.8L2190.4 1068L2191.1 1050L2191.9 1032.3L2192.6 1015.7L2193.3 1000.7L2194.1 987.9L2194.5 982.2"/>
<path stroke="#56b4e9" d="M312.5 1156.8L313.2 1155.1L314 1150.6L314.7 1144.8L315.5 1139.5L316.2 1136.3L316.9 1136.3L317.7 1139.5L318.4 1144.9L319.2 1150.7L319.9 1155.1L320.6 1156.7L321.4 1155.1L322.1 1150.6L322.9 1144.8L323.6 1139.4L324.3 1136.3L325.1 1136.3L325.8 1139.6L326.6 1144.9L327.3 1150.7L328 1155.1L328.8 1156.7L329.5 1155L330.3 1150.6L331 1144.7L331.7 1139.4L332.5 1136.3L333.2 1136.4L333.9 1139.6L334.7 1145L335.4 1150.8L336.2 1155.2L336.9 1156.7L337.6 1155L338.4 1150.5L339.1 1144.7L339.9 1139.4L340.6 1136.3L341.3 1136.4L342.1 1139.6L342.8 1145L343.6 1150.8L344.3 1155.2L345 1156.7L345.8 1155L346.5 1150.5L347.3 1144.6L348 1139.3L348.7 1136.3L349.5 1136.4L350.2 1139.7L351 1145.1L351.7 1150.9L352.4 1155.2L353.2 1156.7L353.9 1155L354.7 1150.4L355.4 1144.6L356.1 1139.3L356.9 1136.3L357.6 1136.4L358.4 1139.7L359.1 1145.1L359.8 1150.9L360.6 1155.3L361.3 1156.7L362.1 1154.9L362.8 1150.4L363.5 1144.5L364.3 1139.3L365 1136.2L365.8 1136.4L366.5 1139.8L367.2 1145.2L368 1151L368.7 1155.3L369.5 1156.7L370.2 1154.9L370.9 1150.3L371.7 1144.5L372.4 1139.2L373.1 1136.2L373.9 1136.4L374.6 1139.8L375.4 1145.2L376.1 1151L376.8 1155.3L377.6 1156.7L378.3 1154.9L379.1 1150.3L379.8 1144.4L380.5 1139.2L381.3 1136.2L382 1136.5L382.8 1139.8L383.5 1145.3L384.2 1151L385 1155.3L385.7 1156.7L386.5 1154.8L387.2 1150.2L387.9 1144.4L388.7 1139.2L389.4 1136.2L390.2 1136.5L390.9 1139.9L391.6 1145.3L392.4 1151.1L393.1 1155.4L393.9 1156.7L394.6 1154.8L395.3 1150.2L396.1 1144.3L396.8 1139.1L397.6 1136.2L398.3 1136.5L399 1139.9L399.8 1145.4L400.5 1151.1L401.3 1155.4L402 1156.7L402.7 1154.8L403.5 1150.1L404.2 1144.3L405 1139.1L405.7 1136.2L406.4 1136.5L407.2 1139.9L407.9 1145.4L408.7 1151.2L409.4 1155.4L410.1 1156.7L410.9 1154.8L411.6 1150.1L412.3 1144.2L413.1 1139L413.8 1136.2L414.6 1136.5L415.3 1140L416 1145.5L416.8 1151.2L417.5 1155.4L418.3 1156.7L419 1154.7L419.7 1150.1L420.5 1144.2L421.2 1139L422 1136.2L422.7 1136.5L423.4 1140L424.2 1145.5L424.9 1151.3L425.7 1155.4L426.4 1156.7L427.1 1154.7L427.9 1150L428.6 1144.1L429.4 1139L430.1 1136.1L430.8 1136.6L431.6 1140.1L432.3 1145.6L433.1 1151.3L433.8 1155.5L434.5 1156.7L435.3 1154.7L436 1150L436.8 1144.1L437.5 1138.9L438.2 1136.1L439 1136.6L439.7 1140.1L440.5 1145.6L441.2 1151.4L441.9 1155.5L442.7 1156.7L443.4 1154.6L444.2 1149.9L444.9 1144L445.6 1138.9L446.4 1136.1L447.1 1136.6L447.9 1140.1L448.6 1145.7L449.3 1151.4L450.1 1155.5L450.8 1156.7L451.5 1154.6L452.3 1149.9L453 1144L453.8 1138.9L454.5 1136.1L455.2 1136.6L456 1140.2L456.7 1145.7L457.5 1151.4L458.2 1155.5L458.9 1156.7L459.7 1154.6L460.4 1149.8L461.2 1144L461.9 1138.8L462.6 1136.1L463.4 1136.6L464.1 1140.2L464.9 1145.8L465.6 1151.5L466.3 1155.6L467.1 1156.7L467.8 1154.5L468.6 1149.8L469.3 1143.9L470 1138.8L470.8 1136.1L471.5 1136.6L472.3 1140.3L473 1145.8L473.7 1151.5L474.5 1155.6L475.2 1156.7L476 1154.5L476.7 1149.7L477.4 1143.9L478.2 1138.8L478.9 1136.1L479.7 1136.7L480.4 1140.3L481.1 1145.9L481.9 1151.6L482.6 1155.6L483.4 1156.7L484.1 1154.5L484.8 1149.7L485.6 1143.8L486.3 1138.7L487 1136.1L487.8 1136.7L488.5 1140.3L489.3 1145.9L490 1151.6L490.7 1155.6L491.5 1156.7L492.2 1154.5L493 1149.6L493.7 1143.8L494.4 1138.7L495.2 1136.1L495.9 1136.7L496.7 1140.4L497.4 1146L498.1 1151.7L498.9 1155.7L499.6 1156.7L500.4 1154.4L501.1 1149.6L501.8 1143.7L502.6 1138.7L503.3 1136.1L504.1 1136.7L504.8 1140.4L505.5 1146L506.3 1151.7L507 1155.7L507.8 1156.7L508.5 1154.4L509.2 1149.5L510 1143.7L510.7 1138.6L511.5 1136.1L512.2 1136.7L512.9 1140.5L513.7 1146.1L514.4 1151.7L515.2 1155.7L515.9 1156.7L516.6 1154.4L517.4 1149.5L518.1 1143.6L518.9 1138.6L519.6 1136L520.3 1136.8L521.1 1140.5L521.8 1146.1L522.6 1151.8L523.3 1155.7L524 1156.7L524.8 1154.3L525.5 1149.4L526.2 1143.6L527 1138.6L527.7 1136L528.5 1136.8L529.2 1140.5L529.9 1146.2L530.7 1151.8L531.4 1155.7L532.2 1156.7L532.9 1154.3L533.6 1149.4L534.4 1143.5L535.1 1138.5L535.9 1136L536.6 1136.8L537.3 1140.6L538.1 1146.2L538.8 1151.9L539.6 1155.8L540.3 1156.7L541 1154.3L541.8 1149.4L542.5 1143.5L543.3 1138.5L544 1136L544.7 1136.8L545.5 1140.6L546.2 1146.3L547 1151.9L547.7 1155.8L548.4 1156.7L549.2 1154.2L549.9 1149.3L550.7 1143.4L551.4 1138.5L552.1 1136L552.9 1136.8L553.6 1140.7L554.4 1146.3L555.1 1152L555.8 1155.8L556.6 1156.6L557.3 1154.2L558.1 1149.3L558.8 1143.4L559.5 1138.4L560.3 1136L561 1136.9L561.8 1140.7L562.5 1146.4L563.2 1152L564 1155.8L564.7 1156.6L565.4 1154.2L566.2 1149.2L566.9 1143.3L567.7 1138.4L568.4 1136L569.1 1136.9L569.9 1140.8L570.6 1146.4L571.4 1152L572.1 1155.8L572.8 1156.6L573.6 1154.1L574.3 1149.2L575.1 1143.3L575.8 1138.4L576.5 1136L577.3 1136.9L578 1140.8L578.8 1146.5L579.5 1152.1L580.2 1155.9L581 1156.6L581.7 1154.1L582.5 1149.1L583.2 1143.2L583.9 1138.3L584.7 1136L585.4 1136.9L586.2 1140.8L586.9 1146.5L587.6 1152.1L588.4 1155.9L589.1 1156.6L589.9 1154.1L590.6 1149.1L591.3 1143.2L592.1 1138.3L592.8 1136L593.6 1136.9L594.3 1140.9L595 1146.6L595.8 1152.2L596.5 1155.9L597.3 1156.6L598 1154L598.7 1149L599.5 1143.1L600.2 1138.3L601 1136L601.7 1137L602.4 1140.9L603.2 1146.6L603.9 1152.2L604.6 1155.9L605.4 1156.6L606.1 1154L606.9 1149L607.6 1143.1L608.3 1138.2L609.1 1136L609.8 1137L610.6 1141L611.3 1146.7L612 1152.2L612.8 1155.9L613.5 1156.6L614.3 1154L615 1148.9L615.7 1143L616.5 1138.2L617.2 1136L618 1137L618.7 1141L619.4 1146.7L620.2 1152.3L620.9 1156L621.7 1156.6L622.4 1153.9L623.1 1148.9L623.9 1143L624.6 1138.2L625.4 1136L626.1 1137L626.8 1141.1L627.6 1146.8L628.3 1152.3L629.1 1156L629.8 1156.6L630.5 1153.9L631.3 1148.8L632 1143L632.8 1138.2L633.5 1136L634.2 1137L635 1141.1L635.7 1146.8L636.5 1152.4L637.2 1156L637.9 1156.6L638.7 1153.9L639.4 1148.8L640.2 1142.9L640.9 1138.1L641.6 1135.9L642.4 1137.1L643.1 1141.1L643.8 1146.9L644.6 1152.4L645.3 1156L646.1 1156.6L646.8 1153.8L647.5 1148.7L648.3 1142.9L649 1138.1L649.8 1135.9L650.5 1137.1L651.2 1141.2L652 1146.9L652.7 1152.4L653.5 1156L654.2 1156.5L654.9 1153.8L655.7 1148.7L656.4 1142.8L657.2 1138.1L657.9 1135.9L658.6 1137.1L659.4 1141.2L660.1 1147L660.9 1152.5L661.6 1156.1L662.3 1156.5L663.1 1153.8L663.8 1148.6L664.6 1142.8L665.3 1138L666 1135.9L666.8 1137.1L667.5 1141.3L668.3 1147L669 1152.5L669.7 1156.1L670.5 1156.5L671.2 1153.7L672 1148.6L672.7 1142.7L673.4 1138L674.2 1135.9L674.9 1137.2L675.7 1141.3L676.4 1147.1L677.1 1152.6L677.9 1156.1L678.6 1156.5L679.4 1153.7L680.1 1148.5L680.8 1142.7L681.6 1138L682.3 1135.9L683 1137.2L683.8 1141.4L684.5 1147.1L685.3 1152.6L686 1156.1L686.7 1156.5L687.5 1153.7L688.2 1148.5L689 1142.6L689.7 1137.9L690.4 1135.9L691.2 1137.2L691.9 1141.4L692.7 1147.2L693.4 1152.6L694.1 1156.1L694.9 1156.5L695.6 1153.6L696.4 1148.4L697.1 1142.6L697.8 1137.9L698.6 1135.9L699.3 1137.2L700.1 1141.4L700.8 1147.2L701.5 1152.7L702.3 1156.1L703 1156.5L703.8 1153.6L704.5 1148.4L705.2 1142.5L706 1137.9L706.7 1135.9L707.5 1137.3L708.2 1141.5L708.9 1147.3L709.7 1152.7L710.4 1156.2L711.2 1156.5L711.9 1153.6L712.6 1148.3L713.4 1142.5L714.1 1137.9L714.9 1135.9L715.6 1137.3L716.3 1141.5L717.1 1147.3L717.8 1152.8L718.6 1156.2L719.3 1156.5L720 1153.5L720.8 1148.3L721.5 1142.4L722.2 1137.8L723 1135.9L723.7 1137.3L724.5 1141.6L725.2 1147.4L725.9 1152.8L726.7 1156.2L727.4 1156.4L728.2 1153.5L728.9 1148.2L729.6 1142.4L730.4 1137.8L731.1 1135.9L731.9 1137.3L732.6 1141.6L733.3 1147.4L734.1 1152.8L734.8 1156.2L735.6 1156.4L736.3 1153.4L737 1148.2L737.8 1142.3L738.5 1137.8L739.3 1135.9L740 1137.4L740.7 1141.7L741.5 1147.4L742.2 1152.9L743 1156.2L743.7 1156.4L744.4 1153.4L745.2 1148.1L745.9 1142.3L746.7 1137.7L747.4 1135.9L748.1 1137.4L748.9 1141.7L749.6 1147.5L750.4 1152.9L751.1 1156.2L751.8 1156.4L752.6 1153.4L753.3 1148.1L754.1 1142.3L754.8 1137.7L755.5 1135.9L756.3 1137.4L757 1141.8L757.8 1147.5L758.5 1153L759.2 1156.3L760 1156.4L760.7 1153.3L761.4 1148L762.2 1142.2L762.9 1137.7L763.7 1135.9L764.4 1137.4L765.1 1141.8L765.9 1147.6L766.6 1153L767.4 1156.3L768.1 1156.4L768.8 1153.3L769.6 1148L770.3 1142.2L771.1 1137.7L771.8 1135.9L772.5 1137.5L773.3 1141.8L774 1147.6L774.8 1153L775.5 1156.3L776.2 1156.4L777 1153.3L777.7 1148L778.5 1142.1L779.2 1137.6L779.9 1135.9L780.7 1137.5L781.4 1141.9L782.2 1147.7L782.9 1153.1L783.6 1156.3L784.4 1156.4L785.1 1153.2L785.9 1147.9L786.6 1142.1L787.3 1137.6L788.1 1135.9L788.8 1137.5L789.6 1141.9L790.3 1147.7L791 1153.1L791.8 1156.3L792.5 1156.3L793.3 1153.2L794 1147.9L794.7 1142L795.5 1137.6L796.2 1135.9L797 1137.5L797.7 1142L798.4 1147.8L799.2 1153.1L799.9 1156.3L800.6 1156.3L801.4 1153.2L802.1 1147.8L802.9 1142L803.6 1137.5L804.3 1135.9L805.1 1137.6L805.8 1142L806.6 1147.8L807.3 1153.2L808 1156.3L808.8 1156.3L809.5 1153.1L810.3 1147.8L811 1141.9L811.7 1137.5L812.5 1135.9L813.2 1137.6L814 1142.1L814.7 1147.9L815.4 1153.2L816.2 1156.4L816.9 1156.3L817.7 1153.1L818.4 1147.7L819.1 1141.9L819.9 1137.5L820.6 1135.9L821.4 1137.6L822.1 1142.1L822.8 1147.9L823.6 1153.3L824.3 1156.4L825.1 1156.3L825.8 1153L826.5 1147.7L827.3 1141.9L828 1137.5L828.8 1135.9L829.5 1137.7L830.2 1142.2L831 1148L831.7 1153.3L832.5 1156.4L833.2 1156.3L833.9 1153L834.7 1147.6L835.4 1141.8L836.1 1137.4L836.9 1135.9L837.6 1137.7L838.4 1142.2L839.1 1148L839.8 1153.3L840.6 1156.4L841.3 1156.3L842.1 1153L842.8 1147.6L843.5 1141.8L844.3 1137.4L845 1135.9L845.8 1137.7L846.5 1142.2L847.2 1148.1L848 1153.4L848.7 1156.4L849.5 1156.2L850.2 1152.9L850.9 1147.5L851.7 1141.7L852.4 1137.4L853.2 1135.9L853.9 1137.7L854.6 1142.3L855.4 1148.1L856.1 1153.4L856.9 1156.4L857.6 1156.2L858.3 1152.9L859.1 1147.5L859.8 1141.7L860.6 1137.4L861.3 1135.9L862 1137.8L862.8 1142.3L863.5 1148.2L864.3 1153.4L865 1156.4L865.7 1156.2L866.5 1152.8L867.2 1147.4L868 1141.6L868.7 1137.3L869.4 1135.9L870.2 1137.8L870.9 1142.4L871.7 1148.2L872.4 1153.5L873.1 1156.4L873.9 1156.2L874.6 1152.8L875.3 1147.4L876.1 1141.6L876.8 1137.3L877.6 1135.9L878.3 1137.8L879 1142.4L879.8 1148.3L880.5 1153.5L881.3 1156.5L882 1156.2L882.7 1152.8L883.5 1147.3L884.2 1141.5L885 1137.3L885.7 1135.9L886.4 1137.8L887.2 1142.5L887.9 1148.3L888.7 1153.5L889.4 1156.5L890.1 1156.2L890.9 1152.7L891.6 1147.3L892.4 1141.5L893.1 1137.3L893.8 1135.9L894.6 1137.9L895.3 1142.5L896.1 1148.4L896.8 1153.6L897.5 1156.5L898.3 1156.1L899 1152.7L899.8 1147.2L900.5 1141.5L901.2 1137.2L902 1135.9L902.7 1137.9L903.5 1142.6L904.2 1148.4L904.9 1153.6L905.7 1156.5L906.4 1156.1L907.2 1152.7L907.9 1147.2L908.6 1141.4L909.4 1137.2L910.1 1135.9L910.9 1137.9L911.6 1142.6L912.3 1148.5L913.1 1153.7L913.8 1156.5L914.5 1156.1L915.3 1152.6L916 1147.1L916.8 1141.4L917.5 1137.2L918.2 1135.9L919 1138L919.7 1142.7L920.5 1148.5L921.2 1153.7L921.9 1156.5L922.7 1156.1L923.4 1152.6L924.2 1147.1L924.9 1141.3L925.6 1137.2L926.4 1135.9L927.1 1138L927.9 1142.7L928.6 1148.6L929.3 1153.7L930.1 1156.5L930.8 1156.1L931.6 1152.5L932.3 1147L933 1141.3L933.8 1137.1L934.5 1135.9L935.3 1138L936 1142.8L936.7 1148.6L937.5 1153.8L938.2 1156.5L939 1156.1L939.7 1152.5L940.4 1147L941.2 1141.2L941.9 1137.1L942.7 1135.9L943.4 1138.1L944.1 1142.8L944.9 1148.7L945.6 1153.8L946.4 1156.5L947.1 1156L947.8 1152.5L948.6 1146.9L949.3 1141.2L950.1 1137.1L950.8 1135.9L951.5 1138.1L952.3 1142.8L953 1148.7L953.7 1153.8L954.5 1156.6L955.2 1156L956 1152.4L956.7 1146.9L957.4 1141.1L958.2 1137.1L958.9 1135.9L959.7 1138.1L960.4 1142.9L961.1 1148.8L961.9 1153.9L962.6 1156.6L963.4 1156L964.1 1152.4L964.8 1146.8L965.6 1141.1L966.3 1137.1L967.1 1136L967.8 1138.1L968.5 1142.9L969.3 1148.8L970 1153.9L970.8 1156.6L971.5 1156L972.2 1152.3L973 1146.8L973.7 1141.1L974.5 1137L975.2 1136L975.9 1138.2L976.7 1143L977.4 1148.9L978.2 1153.9L978.9 1156.6L979.6 1156L980.4 1152.3L981.1 1146.7L981.9 1141L982.6 1137L983.3 1136L984.1 1138.2L984.8 1143L985.6 1148.9L986.3 1154L987 1156.6L987.8 1155.9L988.5 1152.3L989.3 1146.7L990 1141L990.7 1137L991.5 1136L992.2 1138.2L992.9 1143.1L993.7 1149L994.4 1154L995.2 1156.6L995.9 1155.9L996.6 1152.2L997.4 1146.6L998.1 1140.9L998.9 1137L999.6 1136L1000.3 1138.3L1001.1 1143.1L1001.8 1149L1002.6 1154L1003.3 1156.6L1004 1155.9L1004.8 1152.2L1005.5 1146.6L1006.3 1140.9L1007 1136.9L1007.7 1136L1008.5 1138.3L1009.2 1143.2L1010 1149.1L1010.7 1154.1L1011.4 1156.6L1012.2 1155.9L1012.9 1152.1L1013.7 1146.5L1014.4 1140.9L1015.1 1136.9L1015.9 1136L1016.6 1138.3L1017.4 1143.2L1018.1 1149.1L1018.8 1154.1L1019.6 1156.6L1020.3 1155.9L1021.1 1152.1L1021.8 1146.5L1022.5 1140.8L1023.3 1136.9L1024 1136L1024.8 1138.4L1025.5 1143.3L1026.2 1149.2L1027 1154.1L1027.7 1156.6L1028.5 1155.9L1029.2 1152L1029.9 1146.4L1030.7 1140.8L1031.4 1136.9L1032.1 1136L1032.9 1138.4L1033.6 1143.3L1034.4 1149.2L1035.1 1154.2L1035.8 1156.6L1036.6 1155.8L1037.3 1152L1038.1 1146.4L1038.8 1140.7L1039.5 1136.9L1040.3 1136L1041 1138.4L1041.8 1143.4L1042.5 1149.2L1043.2 1154.2L1044 1156.6L1044.7 1155.8L1045.5 1152L1046.2 1146.3L1046.9 1140.7L1047.7 1136.8L1048.4 1136L1049.2 1138.5L1049.9 1143.4L1050.6 1149.3L1051.4 1154.2L1052.1 1156.6L1052.9 1155.8L1053.6 1151.9L1054.3 1146.3L1055.1 1140.6L1055.8 1136.8L1056.6 1136L1057.3 1138.5L1058 1143.5L1058.8 1149.3L1059.5 1154.3L1060.3 1156.7L1061 1155.8L1061.7 1151.9L1062.5 1146.2L1063.2 1140.6L1064 1136.8L1064.7 1136L1065.4 1138.5L1066.2 1143.5L1066.9 1149.4L1067.7 1154.3L1068.4 1156.7L1069.1 1155.7L1069.9 1151.8L1070.6 1146.2L1071.3 1140.6L1072.1 1136.8L1072.8 1136L1073.6 1138.6L1074.3 1143.6L1075 1149.4L1075.8 1154.3L1076.5 1156.7L1077.3 1155.7L1078 1151.8L1078.7 1146.1L1079.5 1140.5L1080.2 1136.8L1081 1136L1081.7 1138.6L1082.4 1143.6L1083.2 1149.5L1083.9 1154.4L1084.7 1156.7L1085.4 1155.7L1086.1 1151.8L1086.9 1146.1L1087.6 1140.5L1088.4 1136.7L1089.1 1136L1089.8 1138.6L1090.6 1143.7L1091.3 1149.5L1092.1 1154.4L1092.8 1156.7L1093.5 1155.7L1094.3 1151.7L1095 1146L1095.8 1140.4L1096.5 1136.7L1097.2 1136.1L1098 1138.7L1098.7 1143.7L1099.5 1149.6L1100.2 1154.4L1100.9 1156.7L1101.7 1155.7L1102.4 1151.7L1103.2 1146L1103.9 1140.4L1104.6 1136.7L1105.4 1136.1L1106.1 1138.7L1106.9 1143.7L1107.6 1149.6L1108.3 1154.4L1109.1 1156.7L1109.8 1155.6L1110.5 1151.6L1111.3 1145.9L1112 1140.4L1112.8 1136.7L1113.5 1136.1L1114.2 1138.7L1115 1143.8L1115.7 1149.7L1116.5 1154.5L1117.2 1156.7L1117.9 1155.6L1118.7 1151.6L1119.4 1145.9L1120.2 1140.3L1120.9 1136.7L1121.6 1136.1L1122.4 1138.8L1123.1 1143.8L1123.9 1149.7L1124.6 1154.5L1125.3 1156.7L1126.1 1155.6L1126.8 1151.5L1127.6 1145.8L1128.3 1140.3L1129 1136.6L1129.8 1136.1L1130.5 1138.8L1131.3 1143.9L1132 1149.8L1132.7 1154.5L1133.5 1156.7L1134.2 1155.6L1135 1151.5L1135.7 1145.8L1136.4 1140.2L1137.2 1136.6L1137.9 1136.1L1138.7 1138.8L1139.4 1143.9L1140.1 1149.8L1140.9 1154.6L1141.6 1156.7L1142.4 1155.5L1143.1 1151.5L1143.8 1145.7L1144.6 1140.2L1145.3 1136.6L1146.1 1136.1L1146.8 1138.9L1147.5 1144L1148.3 1149.9L1149 1154.6L1149.7 1156.7L1150.5 1155.5L1151.2 1151.4L1152 1145.7L1152.7 1140.2L1153.4 1136.6L1154.2 1136.1L1154.9 1138.9L1155.7 1144L1156.4 1149.9L1157.1 1154.6L1157.9 1156.7L1158.6 1155.5L1159.4 1151.4L1160.1 1145.6L1160.8 1140.1L1161.6 1136.6L1162.3 1136.1L1163.1 1138.9L1163.8 1144.1L1164.5 1150L1165.3 1154.7L1166 1156.7L1166.8 1155.5L1167.5 1151.3L1168.2 1145.6L1169 1140.1L1169.7 1136.6L1170.5 1136.1L1171.2 1139L1171.9 1144.1L1172.7 1150L1173.4 1154.7L1174.2 1156.7L1174.9 1155.5L1175.6 1151.3L1176.4 1145.5L1177.1 1140L1177.9 1136.5L1178.6 1136.2L1179.3 1139L1180.1 1144.2L1180.8 1150L1181.6 1154.7L1182.3 1156.7L1183 1155.4L1183.8 1151.2L1184.5 1145.5L1185.2 1140L1186 1136.5L1186.7 1136.2L1187.5 1139L1188.2 1144.2L1188.9 1150.1L1189.7 1154.8L1190.4 1156.7L1191.2 1155.4L1191.9 1151.2L1192.6 1145.4L1193.4 1140L1194.1 1136.5L1194.9 1136.2L1195.6 1139.1L1196.3 1144.3L1197.1 1150.1L1197.8 1154.8L1198.6 1156.7L1199.3 1155.4L1200 1151.1L1200.8 1145.4L1201.5 1139.9L1202.3 1136.5L1203 1136.2L1203.7 1139.1L1204.5 1144.3L1205.2 1150.2L1206 1154.8L1206.7 1156.7L1207.4 1155.4L1208.2 1151.1L1208.9 1145.3L1209.7 1139.9L1210.4 1136.5L1211.1 1136.2L1211.9 1139.1L1212.6 1144.4L1213.4 1150.2L1214.1 1154.8L1214.8 1156.7L1215.6 1155.3L1216.3 1151.1L1217.1 1145.3L1217.8 1139.8L1218.5 1136.5L1219.3 1136.2L1220 1139.2L1220.8 1144.4L1221.5 1150.3L1222.2 1154.9L1223 1156.7L1223.7 1155.3L1224.4 1151L1225.2 1145.2L1225.9 1139.8L1226.7 1136.4L1227.4 1136.2L1228.1 1139.2L1228.9 1144.5L1229.6 1150.3L1230.4 1154.9L1231.1 1156.7L1231.8 1155.3L1232.6 1151L1233.3 1145.2L1234.1 1139.8L1234.8 1136.4L1235.5 1136.2L1236.3 1139.3L1237 1144.5L1237.8 1150.4L1238.5 1154.9L1239.2 1156.7L1240 1155.3L1240.7 1150.9L1241.5 1145.1L1242.2 1139.7L1242.9 1136.4L1243.7 1136.2L1244.4 1139.3L1245.2 1144.6L1245.9 1150.4L1246.6 1155L1247.4 1156.7L1248.1 1155.2L1248.9 1150.9L1249.6 1145.1L1250.3 1139.7L1251.1 1136.4L1251.8 1136.3L1252.6 1139.3L1253.3 1144.6L1254 1150.5L1254.8 1155L1255.5 1156.7L1256.3 1155.2L1257 1150.8L1257.7 1145L1258.5 1139.6L1259.2 1136.4L1260 1136.3L1260.7 1139.4L1261.4 1144.7L1262.2 1150.5L1262.9 1155L1263.6 1156.7L1264.4 1155.2L1265.1 1150.8L1265.9 1145L1266.6 1139.6L1267.3 1136.4L1268.1 1136.3L1268.8 1139.4L1269.6 1144.7L1270.3 1150.5L1271 1155L1271.8 1156.7L1272.5 1155.2L1273.3 1150.7L1274 1144.9L1274.7 1139.6L1275.5 1136.3L1276.2 1136.3L1277 1139.4L1277.7 1144.8L1278.4 1150.6L1279.2 1155.1L1279.9 1156.7L1280.7 1155.1L1281.4 1150.7L1282.1 1144.9L1282.9 1139.5L1283.6 1136.3L1284.4 1136.3L1285.1 1139.5L1285.8 1144.8L1286.6 1150.6L1287.3 1155.1L1288.1 1156.7L1288.8 1155.1L1289.5 1150.7L1290.3 1144.8L1291 1139.5L1291.8 1136.3L1292.5 1136.3L1293.2 1139.5L1294 1144.9L1294.7 1150.7L1295.5 1155.1L1296.2 1156.7L1296.9 1155.1L1297.7 1150.6L1298.4 1144.8L1299.2 1139.5L1299.9 1136.3L1300.6 1136.3L1301.4 1139.6L1302.1 1144.9L1302.8 1150.7L1303.6 1155.1L1304.3 1156.7L1305.1 1155L1305.8 1150.6L1306.5 1144.7L1307.3 1139.4L1308 1136.3L1308.8 1136.4L1309.5 1139.6L1310.2 1145L1311 1150.8L1311.7 1155.2L1312.5 1156.7L1313.2 1155L1313.9 1150.5L1314.7 1144.7L1315.4 1139.4L1316.2 1136.3L1316.9 1136.4L1317.6 1139.6L1318.4 1145L1319.1 1150.8L1319.9 1155.2L1320.6 1156.7L1321.3 1155L1322.1 1150.5L1322.8 1144.6L1323.6 1139.3L1324.3 1136.3L1325 1136.4L1325.8 1139.7L1326.5 1145.1L1327.3 1150.9L1328 1155.2L1328.7 1156.7L1329.5 1155L1330.2 1150.4L1331 1144.6L1331.7 1139.3L1332.4 1136.3L1333.2 1136.4L1333.9 1139.7L1334.7 1145.1L1335.4 1150.9L1336.1 1155.2L1336.9 1156.7L1337.6 1154.9L1338.4 1150.4L1339.1 1144.5L1339.8 1139.3L1340.6 1136.2L1341.3 1136.4L1342 1139.7L1342.8 1145.2L1343.5 1151L1344.3 1155.3L1345 1156.7L1345.7 1154.9L1346.5 1150.3L1347.2 1144.5L1348 1139.2L1348.7 1136.2L1349.4 1136.4L1350.2 1139.8L1350.9 1145.2L1351.7 1151L1352.4 1155.3L1353.1 1156.7L1353.9 1154.9L1354.6 1150.3L1355.4 1144.4L1356.1 1139.2L1356.8 1136.2L1357.6 1136.4L1358.3 1139.8L1359.1 1145.3L1359.8 1151L1360.5 1155.3L1361.3 1156.7L1362 1154.8L1362.8 1150.2L1363.5 1144.4L1364.2 1139.2L1365 1136.2L1365.7 1136.5L1366.5 1139.9L1367.2 1145.3L1367.9 1151.1L1368.7 1155.3L1369.4 1156.7L1370.2 1154.8L1370.9 1150.2L1371.6 1144.4L1372.4 1139.1L1373.1 1136.2L1373.9 1136.5L1374.6 1139.9L1375.3 1145.4L1376.1 1151.1L1376.8 1155.4L1377.6 1156.7L1378.3 1154.8L1379 1150.2L1379.8 1144.3L1380.5 1139.1L1381.2 1136.2L1382 1136.5L1382.7 1139.9L1383.5 1145.4L1384.2 1151.2L1384.9 1155.4L1385.7 1156.7L1386.4 1154.8L1387.2 1150.1L1387.9 1144.3L1388.6 1139.1L1389.4 1136.2L1390.1 1136.5L1390.9 1140L1391.6 1145.5L1392.3 1151.2L1393.1 1155.4L1393.8 1156.7L1394.6 1154.7L1395.3 1150.1L1396 1144.2L1396.8 1139L1397.5 1136.2L1398.3 1136.5L1399 1140L1399.7 1145.5L1400.5 1151.3L1401.2 1155.4L1402 1156.7L1402.7 1154.7L1403.4 1150L1404.2 1144.2L1404.9 1139L1405.7 1136.1L1406.4 1136.5L1407.1 1140.1L1407.9 1145.6L1408.6 1151.3L1409.4 1155.5L1410.1 1156.7L1410.8 1154.7L1411.6 1150L1412.3 1144.1L1413.1 1138.9L1413.8 1136.1L1414.5 1136.6L1415.3 1140.1L1416 1145.6L1416.8 1151.3L1417.5 1155.5L1418.2 1156.7L1419 1154.6L1419.7 1149.9L1420.4 1144.1L1421.2 1138.9L1421.9 1136.1L1422.7 1136.6L1423.4 1140.1L1424.1 1145.7L1424.9 1151.4L1425.6 1155.5L1426.4 1156.7L1427.1 1154.6L1427.8 1149.9L1428.6 1144L1429.3 1138.9L1430.1 1136.1L1430.8 1136.6L1431.5 1140.2L1432.3 1145.7L1433 1151.4L1433.8 1155.5L1434.5 1156.7L1435.2 1154.6L1436 1149.8L1436.7 1144L1437.5 1138.8L1438.2 1136.1L1438.9 1136.6L1439.7 1140.2L1440.4 1145.8L1441.2 1151.5L1441.9 1155.6L1442.6 1156.7L1443.4 1154.6L1444.1 1149.8L1444.9 1143.9L1445.6 1138.8L1446.3 1136.1L1447.1 1136.6L1447.8 1140.3L1448.6 1145.8L1449.3 1151.5L1450 1155.6L1450.8 1156.7L1451.5 1154.5L1452.3 1149.7L1453 1143.9L1453.7 1138.8L1454.5 1136.1L1455.2 1136.7L1456 1140.3L1456.7 1145.9L1457.4 1151.6L1458.2 1155.6L1458.9 1156.7L1459.6 1154.5L1460.4 1149.7L1461.1 1143.8L1461.9 1138.7L1462.6 1136.1L1463.3 1136.7L1464.1 1140.3L1464.8 1145.9L1465.6 1151.6L1466.3 1155.6L1467 1156.7L1467.8 1154.5L1468.5 1149.6L1469.3 1143.8L1470 1138.7L1470.7 1136.1L1471.5 1136.7L1472.2 1140.4L1473 1146L1473.7 1151.6L1474.4 1155.7L1475.2 1156.7L1475.9 1154.4L1476.7 1149.6L1477.4 1143.7L1478.1 1138.7L1478.9 1136.1L1479.6 1136.7L1480.4 1140.4L1481.1 1146L1481.8 1151.7L1482.6 1155.7L1483.3 1156.7L1484.1 1154.4L1484.8 1149.5L1485.5 1143.7L1486.3 1138.6L1487 1136.1L1487.8 1136.7L1488.5 1140.5L1489.2 1146.1L1490 1151.7L1490.7 1155.7L1491.5 1156.7L1492.2 1154.4L1492.9 1149.5L1493.7 1143.6L1494.4 1138.6L1495.1 1136L1495.9 1136.7L1496.6 1140.5L1497.4 1146.1L1498.1 1151.8L1498.8 1155.7L1499.6 1156.7L1500.3 1154.3L1501.1 1149.5L1501.8 1143.6L1502.5 1138.6L1503.3 1136L1504 1136.8L1504.8 1140.5L1505.5 1146.2L1506.2 1151.8L1507 1155.7L1507.7 1156.7L1508.5 1154.3L1509.2 1149.4L1509.9 1143.5L1510.7 1138.5L1511.4 1136L1512.2 1136.8L1512.9 1140.6L1513.6 1146.2L1514.4 1151.9L1515.1 1155.8L1515.9 1156.7L1516.6 1154.3L1517.3 1149.4L1518.1 1143.5L1518.8 1138.5L1519.6 1136L1520.3 1136.8L1521 1140.6L1521.8 1146.3L1522.5 1151.9L1523.3 1155.8L1524 1156.7L1524.7 1154.2L1525.5 1149.3L1526.2 1143.4L1527 1138.5L1527.7 1136L1528.4 1136.8L1529.2 1140.7L1529.9 1146.3L1530.7 1151.9L1531.4 1155.8L1532.1 1156.6L1532.9 1154.2L1533.6 1149.3L1534.3 1143.4L1535.1 1138.4L1535.8 1136L1536.6 1136.9L1537.3 1140.7L1538 1146.4L1538.8 1152L1539.5 1155.8L1540.3 1156.6L1541 1154.2L1541.7 1149.2L1542.5 1143.3L1543.2 1138.4L1544 1136L1544.7 1136.9L1545.4 1140.7L1546.2 1146.4L1546.9 1152L1547.7 1155.8L1548.4 1156.6L1549.1 1154.1L1549.9 1149.2L1550.6 1143.3L1551.4 1138.4L1552.1 1136L1552.8 1136.9L1553.6 1140.8L1554.3 1146.4L1555.1 1152.1L1555.8 1155.9L1556.5 1156.6L1557.3 1154.1L1558 1149.1L1558.8 1143.2L1559.5 1138.3L1560.2 1136L1561 1136.9L1561.7 1140.8L1562.5 1146.5L1563.2 1152.1L1563.9 1155.9L1564.7 1156.6L1565.4 1154.1L1566.2 1149.1L1566.9 1143.2L1567.6 1138.3L1568.4 1136L1569.1 1136.9L1569.9 1140.9L1570.6 1146.5L1571.3 1152.2L1572.1 1155.9L1572.8 1156.6L1573.5 1154L1574.3 1149L1575 1143.2L1575.8 1138.3L1576.5 1136L1577.2 1137L1578 1140.9L1578.7 1146.6L1579.5 1152.2L1580.2 1155.9L1580.9 1156.6L1581.7 1154L1582.4 1149L1583.2 1143.1L1583.9 1138.3L1584.6 1136L1585.4 1137L1586.1 1141L1586.9 1146.6L1587.6 1152.2L1588.3 1155.9L1589.1 1156.6L1589.8 1154L1590.6 1148.9L1591.3 1143.1L1592 1138.2L1592.8 1136L1593.5 1137L1594.3 1141L1595 1146.7L1595.7 1152.3L1596.5 1156L1597.2 1156.6L1598 1153.9L1598.7 1148.9L1599.4 1143L1600.2 1138.2L1600.9 1136L1601.7 1137L1602.4 1141L1603.1 1146.7L1603.9 1152.3L1604.6 1156L1605.4 1156.6L1606.1 1153.9L1606.8 1148.8L1607.6 1143L1608.3 1138.2L1609.1 1136L1609.8 1137L1610.5 1141.1L1611.3 1146.8L1612 1152.4L1612.7 1156L1613.5 1156.6L1614.2 1153.9L1615 1148.8L1615.7 1142.9L1616.4 1138.1L1617.2 1135.9L1617.9 1137.1L1618.7 1141.1L1619.4 1146.8L1620.1 1152.4L1620.9 1156L1621.6 1156.6L1622.4 1153.8L1623.1 1148.7L1623.8 1142.9L1624.6 1138.1L1625.3 1135.9L1626.1 1137.1L1626.8 1141.2L1627.5 1146.9L1628.3 1152.4L1629 1156L1629.8 1156.5L1630.5 1153.8L1631.2 1148.7L1632 1142.8L1632.7 1138.1L1633.5 1135.9L1634.2 1137.1L1634.9 1141.2L1635.7 1146.9L1636.4 1152.5L1637.2 1156.1L1637.9 1156.5L1638.6 1153.8L1639.4 1148.6L1640.1 1142.8L1640.9 1138L1641.6 1135.9L1642.3 1137.1L1643.1 1141.3L1643.8 1147L1644.6 1152.5L1645.3 1156.1L1646 1156.5L1646.8 1153.7L1647.5 1148.6L1648.3 1142.7L1649 1138L1649.7 1135.9L1650.5 1137.2L1651.2 1141.3L1651.9 1147L1652.7 1152.6L1653.4 1156.1L1654.2 1156.5L1654.9 1153.7L1655.6 1148.5L1656.4 1142.7L1657.1 1138L1657.9 1135.9L1658.6 1137.2L1659.3 1141.3L1660.1 1147.1L1660.8 1152.6L1661.6 1156.1L1662.3 1156.5L1663 1153.7L1663.8 1148.5L1664.5 1142.6L1665.3 1137.9L1666 1135.9L1666.7 1137.2L1667.5 1141.4L1668.2 1147.1L1669 1152.6L1669.7 1156.1L1670.4 1156.5L1671.2 1153.6L1671.9 1148.4L1672.7 1142.6L1673.4 1137.9L1674.1 1135.9L1674.9 1137.2L1675.6 1141.4L1676.4 1147.2L1677.1 1152.7L1677.8 1156.1L1678.6 1156.5L1679.3 1153.6L1680.1 1148.4L1680.8 1142.5L1681.5 1137.9L1682.3 1135.9L1683 1137.3L1683.8 1141.5L1684.5 1147.2L1685.2 1152.7L1686 1156.2L1686.7 1156.5L1687.5 1153.6L1688.2 1148.4L1688.9 1142.5L1689.7 1137.9L1690.4 1135.9L1691.1 1137.3L1691.9 1141.5L1692.6 1147.3L1693.4 1152.8L1694.1 1156.2L1694.8 1156.5L1695.6 1153.5L1696.3 1148.3L1697.1 1142.5L1697.8 1137.8L1698.5 1135.9L1699.3 1137.3L1700 1141.6L1700.8 1147.3L1701.5 1152.8L1702.2 1156.2L1703 1156.4L1703.7 1153.5L1704.5 1148.3L1705.2 1142.4L1705.9 1137.8L1706.7 1135.9L1707.4 1137.3L1708.2 1141.6L1708.9 1147.4L1709.6 1152.8L1710.4 1156.2L1711.1 1156.4L1711.9 1153.5L1712.6 1148.2L1713.3 1142.4L1714.1 1137.8L1714.8 1135.9L1715.6 1137.4L1716.3 1141.7L1717 1147.4L1717.8 1152.9L1718.5 1156.2L1719.3 1156.4L1720 1153.4L1720.7 1148.2L1721.5 1142.3L1722.2 1137.7L1723 1135.9L1723.7 1137.4L1724.4 1141.7L1725.2 1147.5L1725.9 1152.9L1726.7 1156.2L1727.4 1156.4L1728.1 1153.4L1728.9 1148.1L1729.6 1142.3L1730.3 1137.7L1731.1 1135.9L1731.8 1137.4L1732.6 1141.7L1733.3 1147.5L1734 1152.9L1734.8 1156.2L1735.5 1156.4L1736.3 1153.3L1737 1148.1L1737.7 1142.2L1738.5 1137.7L1739.2 1135.9L1740 1137.4L1740.7 1141.8L1741.4 1147.6L1742.2 1153L1742.9 1156.3L1743.7 1156.4L1744.4 1153.3L1745.1 1148L1745.9 1142.2L1746.6 1137.7L1747.4 1135.9L1748.1 1137.5L1748.8 1141.8L1749.6 1147.6L1750.3 1153L1751.1 1156.3L1751.8 1156.4L1752.5 1153.3L1753.3 1148L1754 1142.1L1754.8 1137.6L1755.5 1135.9L1756.2 1137.5L1757 1141.9L1757.7 1147.7L1758.5 1153.1L1759.2 1156.3L1759.9 1156.4L1760.7 1153.2L1761.4 1147.9L1762.2 1142.1L1762.9 1137.6L1763.6 1135.9L1764.4 1137.5L1765.1 1141.9L1765.9 1147.7L1766.6 1153.1L1767.3 1156.3L1768.1 1156.3L1768.8 1153.2L1769.5 1147.9L1770.3 1142L1771 1137.6L1771.8 1135.9L1772.5 1137.5L1773.2 1142L1774 1147.8L1774.7 1153.1L1775.5 1156.3L1776.2 1156.3L1776.9 1153.2L1777.7 1147.8L1778.4 1142L1779.2 1137.6L1779.9 1135.9L1780.6 1137.6L1781.4 1142L1782.1 1147.8L1782.9 1153.2L1783.6 1156.3L1784.3 1156.3L1785.1 1153.1L1785.8 1147.8L1786.6 1142L1787.3 1137.5L1788 1135.9L1788.8 1137.6L1789.5 1142.1L1790.3 1147.9L1791 1153.2L1791.7 1156.4L1792.5 1156.3L1793.2 1153.1L1794 1147.7L1794.7 1141.9L1795.4 1137.5L1796.2 1135.9L1796.9 1137.6L1797.7 1142.1L1798.4 1147.9L1799.1 1153.2L1799.9 1156.4L1800.6 1156.3L1801.4 1153L1802.1 1147.7L1802.8 1141.9L1803.6 1137.5L1804.3 1135.9L1805.1 1137.6L1805.8 1142.1L1806.5 1148L1807.3 1153.3L1808 1156.4L1808.7 1156.3L1809.5 1153L1810.2 1147.6L1811 1141.8L1811.7 1137.4L1812.4 1135.9L1813.2 1137.7L1813.9 1142.2L1814.7 1148L1815.4 1153.3L1816.1 1156.4L1816.9 1156.3L1817.6 1153L1818.4 1147.6L1819.1 1141.8L1819.8 1137.4L1820.6 1135.9L1821.3 1137.7L1822.1 1142.2L1822.8 1148.1L1823.5 1153.4L1824.3 1156.4L1825 1156.2L1825.8 1152.9L1826.5 1147.5L1827.2 1141.7L1828 1137.4L1828.7 1135.9L1829.5 1137.7L1830.2 1142.3L1830.9 1148.1L1831.7 1153.4L1832.4 1156.4L1833.2 1156.2L1833.9 1152.9L1834.6 1147.5L1835.4 1141.7L1836.1 1137.4L1836.9 1135.9L1837.6 1137.8L1838.3 1142.3L1839.1 1148.2L1839.8 1153.4L1840.6 1156.4L1841.3 1156.2L1842 1152.9L1842.8 1147.4L1843.5 1141.6L1844.2 1137.3L1845 1135.9L1845.7 1137.8L1846.5 1142.4L1847.2 1148.2L1847.9 1153.5L1848.7 1156.4L1849.4 1156.2L1850.2 1152.8L1850.9 1147.4L1851.6 1141.6L1852.4 1137.3L1853.1 1135.9L1853.9 1137.8L1854.6 1142.4L1855.3 1148.3L1856.1 1153.5L1856.8 1156.5L1857.6 1156.2L1858.3 1152.8L1859 1147.3L1859.8 1141.5L1860.5 1137.3L1861.3 1135.9L1862 1137.8L1862.7 1142.5L1863.5 1148.3L1864.2 1153.5L1865 1156.5L1865.7 1156.2L1866.4 1152.7L1867.2 1147.3L1867.9 1141.5L1868.7 1137.3L1869.4 1135.9L1870.1 1137.9L1870.9 1142.5L1871.6 1148.4L1872.4 1153.6L1873.1 1156.5L1873.8 1156.1L1874.6 1152.7L1875.3 1147.2L1876.1 1141.5L1876.8 1137.2L1877.5 1135.9L1878.3 1137.9L1879 1142.6L1879.8 1148.4L1880.5 1153.6L1881.2 1156.5L1882 1156.1L1882.7 1152.7L1883.4 1147.2L1884.2 1141.4L1884.9 1137.2L1885.7 1135.9L1886.4 1137.9L1887.1 1142.6L1887.9 1148.5L1888.6 1153.6L1889.4 1156.5L1890.1 1156.1L1890.8 1152.6L1891.6 1147.1L1892.3 1141.4L1893.1 1137.2L1893.8 1135.9L1894.5 1138L1895.3 1142.7L1896 1148.5L1896.8 1153.7L1897.5 1156.5L1898.2 1156.1L1899 1152.6L1899.7 1147.1L1900.5 1141.3L1901.2 1137.2L1901.9 1135.9L1902.7 1138L1903.4 1142.7L1904.2 1148.6L1904.9 1153.7L1905.6 1156.5L1906.4 1156.1L1907.1 1152.5L1907.9 1147L1908.6 1141.3L1909.3 1137.2L1910.1 1135.9L1910.8 1138L1911.6 1142.7L1912.3 1148.6L1913 1153.8L1913.8 1156.5L1914.5 1156.1L1915.3 1152.5L1916 1147L1916.7 1141.2L1917.5 1137.1L1918.2 1135.9L1919 1138L1919.7 1142.8L1920.4 1148.7L1921.2 1153.8L1921.9 1156.5L1922.6 1156L1923.4 1152.5L1924.1 1146.9L1924.9 1141.2L1925.6 1137.1L1926.3 1135.9L1927.1 1138.1L1927.8 1142.8L1928.6 1148.7L1929.3 1153.8L1930 1156.5L1930.8 1156L1931.5 1152.4L1932.3 1146.9L1933 1141.2L1933.7 1137.1L1934.5 1135.9L1935.2 1138.1L1936 1142.9L1936.7 1148.8L1937.4 1153.9L1938.2 1156.6L1938.9 1156L1939.7 1152.4L1940.4 1146.8L1941.1 1141.1L1941.9 1137.1L1942.6 1135.9L1943.4 1138.1L1944.1 1142.9L1944.8 1148.8L1945.6 1153.9L1946.3 1156.6L1947.1 1156L1947.8 1152.3L1948.5 1146.8L1949.3 1141.1L1950 1137L1950.8 1136L1951.5 1138.2L1952.2 1143L1953 1148.9L1953.7 1153.9L1954.5 1156.6L1955.2 1156L1955.9 1152.3L1956.7 1146.7L1957.4 1141L1958.2 1137L1958.9 1136L1959.6 1138.2L1960.4 1143L1961.1 1148.9L1961.8 1154L1962.6 1156.6L1963.3 1156L1964.1 1152.3L1964.8 1146.7L1965.5 1141L1966.3 1137L1967 1136L1967.8 1138.2L1968.5 1143.1L1969.2 1148.9L1970 1154L1970.7 1156.6L1971.5 1155.9L1972.2 1152.2L1972.9 1146.6L1973.7 1140.9L1974.4 1137L1975.2 1136L1975.9 1138.3L1976.6 1143.1L1977.4 1149L1978.1 1154L1978.9 1156.6L1979.6 1155.9L1980.3 1152.2L1981.1 1146.6L1981.8 1140.9L1982.6 1136.9L1983.3 1136L1984 1138.3L1984.8 1143.2L1985.5 1149L1986.3 1154.1L1987 1156.6L1987.7 1155.9L1988.5 1152.1L1989.2 1146.5L1990 1140.9L1990.7 1136.9L1991.4 1136L1992.2 1138.3L1992.9 1143.2L1993.7 1149.1L1994.4 1154.1L1995.1 1156.6L1995.9 1155.9L1996.6 1152.1L1997.4 1146.5L1998.1 1140.8L1998.8 1136.9L1999.6 1136L2000.3 1138.4L2001 1143.3L2001.8 1149.1L2002.5 1154.1L2003.3 1156.6L2004 1155.9L2004.7 1152.1L2005.5 1146.4L2006.2 1140.8L2007 1136.9L2007.7 1136L2008.4 1138.4L2009.2 1143.3L2009.9 1149.2L2010.7 1154.2L2011.4 1156.6L2012.1 1155.8L2012.9 1152L2013.6 1146.4L2014.4 1140.7L2015.1 1136.9L2015.8 1136L2016.6 1138.4L2017.3 1143.4L2018.1 1149.2L2018.8 1154.2L2019.5 1156.6L2020.3 1155.8L2021 1152L2021.8 1146.3L2022.5 1140.7L2023.2 1136.8L2024 1136L2024.7 1138.5L2025.5 1143.4L2026.2 1149.3L2026.9 1154.2L2027.7 1156.6L2028.4 1155.8L2029.2 1151.9L2029.9 1146.3L2030.6 1140.6L2031.4 1136.8L2032.1 1136L2032.9 1138.5L2033.6 1143.5L2034.3 1149.3L2035.1 1154.3L2035.8 1156.7L2036.6 1155.8L2037.3 1151.9L2038 1146.2L2038.8 1140.6L2039.5 1136.8L2040.2 1136L2041 1138.5L2041.7 1143.5L2042.5 1149.4L2043.2 1154.3L2043.9 1156.7L2044.7 1155.8L2045.4 1151.8L2046.2 1146.2L2046.9 1140.6L2047.6 1136.8L2048.4 1136L2049.1 1138.6L2049.9 1143.5L2050.6 1149.4L2051.3 1154.3L2052.1 1156.7L2052.8 1155.7L2053.6 1151.8L2054.3 1146.1L2055 1140.5L2055.8 1136.8L2056.5 1136L2057.3 1138.6L2058 1143.6L2058.7 1149.5L2059.5 1154.3L2060.2 1156.7L2061 1155.7L2061.7 1151.8L2062.4 1146.1L2063.2 1140.5L2063.9 1136.7L2064.7 1136L2065.4 1138.6L2066.1 1143.6L2066.9 1149.5L2067.6 1154.4L2068.4 1156.7L2069.1 1155.7L2069.8 1151.7L2070.6 1146L2071.3 1140.4L2072.1 1136.7L2072.8 1136.1L2073.5 1138.7L2074.3 1143.7L2075 1149.6L2075.8 1154.4L2076.5 1156.7L2077.2 1155.7L2078 1151.7L2078.7 1146L2079.4 1140.4L2080.2 1136.7L2080.9 1136.1L2081.7 1138.7L2082.4 1143.7L2083.1 1149.6L2083.9 1154.4L2084.6 1156.7L2085.4 1155.6L2086.1 1151.6L2086.8 1145.9L2087.6 1140.4L2088.3 1136.7L2089.1 1136.1L2089.8 1138.7L2090.5 1143.8L2091.3 1149.7L2092 1154.5L2092.8 1156.7L2093.5 1155.6L2094.2 1151.6L2095 1145.9L2095.7 1140.3L2096.5 1136.7L2097.2 1136.1L2097.9 1138.8L2098.7 1143.8L2099.4 1149.7L2100.2 1154.5L2100.9 1156.7L2101.6 1155.6L2102.4 1151.5L2103.1 1145.8L2103.9 1140.3L2104.6 1136.6L2105.3 1136.1L2106.1 1138.8L2106.8 1143.9L2107.6 1149.8L2108.3 1154.5L2109 1156.7L2109.8 1155.6L2110.5 1151.5L2111.3 1145.8L2112 1140.2L2112.7 1136.6L2113.5 1136.1L2114.2 1138.8L2115 1143.9L2115.7 1149.8L2116.4 1154.6L2117.2 1156.7L2117.9 1155.6L2118.6 1151.5L2119.4 1145.7L2120.1 1140.2L2120.9 1136.6L2121.6 1136.1L2122.3 1138.9L2123.1 1144L2123.8 1149.8L2124.6 1154.6L2125.3 1156.7L2126 1155.5L2126.8 1151.4L2127.5 1145.7L2128.3 1140.2L2129 1136.6L2129.7 1136.1L2130.5 1138.9L2131.2 1144L2132 1149.9L2132.7 1154.6L2133.4 1156.7L2134.2 1155.5L2134.9 1151.4L2135.7 1145.6L2136.4 1140.1L2137.1 1136.6L2137.9 1136.1L2138.6 1138.9L2139.4 1144.1L2140.1 1149.9L2140.8 1154.7L2141.6 1156.7L2142.3 1155.5L2143.1 1151.3L2143.8 1145.6L2144.5 1140.1L2145.3 1136.6L2146 1136.1L2146.8 1139L2147.5 1144.1L2148.2 1150L2149 1154.7L2149.7 1156.7L2150.5 1155.5L2151.2 1151.3L2151.9 1145.5L2152.7 1140L2153.4 1136.5L2154.1 1136.2L2154.9 1139L2155.6 1144.2L2156.4 1150L2157.1 1154.7L2157.8 1156.7L2158.6 1155.4L2159.3 1151.2L2160.1 1145.5L2160.8 1140L2161.5 1136.5L2162.3 1136.2L2163 1139L2163.8 1144.2L2164.5 1150.1L2165.2 1154.7L2166 1156.7L2166.7 1155.4L2167.5 1151.2L2168.2 1145.4L2168.9 1140L2169.7 1136.5L2170.4 1136.2L2171.2 1139.1L2171.9 1144.3L2172.6 1150.1L2173.4 1154.8L2174.1 1156.7L2174.9 1155.4L2175.6 1151.2L2176.3 1145.4L2177.1 1139.9L2177.8 1136.5L2178.6 1136.2L2179.3 1139.1L2180 1144.3L2180.8 1150.2L2181.5 1154.8L2182.3 1156.7L2183 1155.4L2183.7 1151.1L2184.5 1145.3L2185.2 1139.9L2186 1136.5L2186.7 1136.2L2187.4 1139.1L2188.2 1144.4L2188.9 1150.2L2189.7 1154.8L2190.4 1156.7L2191.1 1155.3L2191.9 1151.1L2192.6 1145.3L2193.3 1139.8L2194.1 1136.5L2194.5 1136.3"/>
<path stroke="#9400d3" stroke-dasharray="17 24" stroke-dashoffset="0" d="M312.5 1156.8L313.2 1156.1L314 1152.1L314.7 1144.7L315.5 1134L316.2 1120.2L316.9 1103.3L317.7 1083.5L318.4 1061L319.2 1035.8L319.9 1008.3L320.6 978.5L321.4 946.7L322.1 913.2L322.9 878.1L323.6 841.7L324.3 804.3L325.1 766.1L325.8 727.5L326.6 688.5L327.3 649.6L328 611L328.8 572.9L329.5 535.6L330.3 499.3L331 464.4L331.7 430.9L332.5 399.2L333.2 369.5L333.9 341.9L334.7 316.7L335.4 293.9L336.2 273.8L336.9 256.5L337.6 242.1L338.4 230.6L339.1 222.2L339.9 217L340.6 214.8L341.3 215.9L342.1 220.1L342.8 227.4L343.6 237.8L344.3 251.2L345 267.5L345.8 286.7L346.5 308.5L347.3 332.9L348 359.7L348.7 388.7L349.5 419.7L350.2 452.6L351 487.1L351.7 523.1L352.4 560.2L353.2 598.3L353.9 637.1L354.7 676.3L355.4 715.8L356.1 755.3L356.9 794.5L357.6 833.3L358.4 871.2L359.1 908.3L359.8 944.1L360.6 978.5L361.3 1011.3L362.1 1042.2L362.8 1071.2L363.5 1098L364.3 1122.5L365 1144.6L365.8 1164L366.5 1180.8L367.2 1194.8L368 1206L368.7 1214.2L369.5 1219.6L370.2 1222L370.9 1221.5L371.7 1218L372.4 1211.8L373.1 1202.7L373.9 1190.9L374.6 1176.5L375.4 1159.5L376.1 1140.2L376.8 1118.7L377.6 1095L378.3 1069.5L379.1 1042.2L379.8 1013.4L380.5 983.3L381.3 952L382 919.9L382.8 887L383.5 853.7L384.2 820.2L385 786.7L385.7 753.3L386.5 720.4L387.2 688.2L387.9 656.8L388.7 626.6L389.4 597.6L390.2 570.1L390.9 544.2L391.6 520.2L392.4 498.2L393.1 478.2L393.9 460.6L394.6 445.3L395.3 432.4L396.1 422.1L396.8 414.5L397.6 409.5L398.3 407.1L399 407.5L399.8 410.6L400.5 416.4L401.3 424.8L402 435.8L402.7 449.3L403.5 465.2L404.2 483.4L405 503.8L405.7 526.3L406.4 550.7L407.2 576.9L407.9 604.7L408.7 633.9L409.4 664.3L410.1 695.7L410.9 728L411.6 761L412.3 794.3L413.1 827.9L413.8 861.5L414.6 894.8L415.3 927.8L416 960.2L416.8 991.7L417.5 1022.3L418.3 1051.6L419 1079.6L419.7 1106.1L420.5 1130.9L421.2 1153.8L422 1174.8L422.7 1193.7L423.4 1210.3L424.2 1224.7L424.9 1236.8L425.7 1246.4L426.4 1253.5L427.1 1258.2L427.9 1260.3L428.6 1259.9L429.4 1257.1L430.1 1251.8L430.8 1244L431.6 1234L432.3 1221.7L433.1 1207.2L433.8 1190.7L434.5 1172.3L435.3 1152.1L436 1130.2L436.8 1106.9L437.5 1082.2L438.2 1056.3L439 1029.5L439.7 1001.9L440.5 973.6L441.2 945L441.9 916.2L442.7 887.3L443.4 858.5L444.2 830.2L444.9 802.4L445.6 775.3L446.4 749.1L447.1 724L447.9 700.2L448.6 677.7L449.3 656.8L450.1 637.6L450.8 620.2L451.5 604.7L452.3 591.3L453 579.9L453.8 570.7L454.5 563.7L455.2 559.1L456 556.7L456.7 556.6L457.5 558.8L458.2 563.4L458.9 570.2L459.7 579.2L460.4 590.3L461.2 603.6L461.9 618.8L462.6 635.9L463.4 654.8L464.1 675.4L464.9 697.5L465.6 721L466.3 745.7L467.1 771.4L467.8 798.1L468.6 825.5L469.3 853.5L470 881.8L470.8 910.4L471.5 939L472.3 967.4L473 995.5L473.7 1023.1L474.5 1050L475.2 1076.1L476 1101.2L476.7 1125.1L477.4 1147.8L478.2 1169L478.9 1188.6L479.7 1206.6L480.4 1222.8L481.1 1237.1L481.9 1249.5L482.6 1259.8L483.4 1268.1L484.1 1274.3L484.8 1278.4L485.6 1280.3L486.3 1280L487 1277.7L487.8 1273.2L488.5 1266.7L489.3 1258.2L490 1247.7L490.7 1235.4L491.5 1221.3L492.2 1205.6L493 1188.3L493.7 1169.6L494.4 1149.6L495.2 1128.4L495.9 1106.3L496.7 1083.3L497.4 1059.6L498.1 1035.4L498.9 1010.8L499.6 985.9L500.4 961.1L501.1 936.4L501.8 911.9L502.6 888L503.3 864.6L504.1 842L504.8 820.3L505.5 799.7L506.3 780.2L507 762.1L507.8 745.3L508.5 730.2L509.2 716.6L510 704.8L510.7 694.8L511.5 686.6L512.2 680.3L512.9 676L513.7 673.6L514.4 673.2L515.2 674.8L515.9 678.4L516.6 683.9L517.4 691.3L518.1 700.5L518.9 711.5L519.6 724.3L520.3 738.6L521.1 754.5L521.8 771.9L522.6 790.5L523.3 810.4L524 831.3L524.8 853.1L525.5 875.8L526.2 899L527 922.8L527.7 946.9L528.5 971.2L529.2 995.6L529.9 1019.8L530.7 1043.8L531.4 1067.3L532.2 1090.3L532.9 1112.6L533.6 1134.1L534.4 1154.5L535.1 1173.9L535.9 1192.1L536.6 1208.9L537.3 1224.3L538.1 1238.2L538.8 1250.6L539.6 1261.2L540.3 1270.2L541 1277.3L541.8 1282.7L542.5 1286.3L543.3 1288L544 1287.9L544.7 1285.9L545.5 1282.2L546.2 1276.7L547 1269.5L547.7 1260.6L548.4 1250.1L549.2 1238.1L549.9 1224.7L550.7 1209.9L551.4 1194L552.1 1176.9L552.9 1158.8L553.6 1139.8L554.4 1120.1L555.1 1099.8L555.8 1079L556.6 1057.9L557.3 1036.6L558.1 1015.2L558.8 994L559.5 973L560.3 952.3L561 932.2L561.8 912.7L562.5 893.9L563.2 876.1L564 859.2L564.7 843.5L565.4 829L566.2 815.7L566.9 803.9L567.7 793.6L568.4 784.7L569.1 777.5L569.9 771.8L570.6 767.9L571.4 765.6L572.1 765L572.8 766.1L573.6 768.9L574.3 773.3L575.1 779.4L575.8 787L576.5 796.2L577.3 806.9L578 819L578.8 832.4L579.5 847L580.2 862.8L581 879.5L581.7 897.3L582.5 915.8L583.2 935L583.9 954.8L584.7 975L585.4 995.5L586.2 1016.2L586.9 1037L587.6 1057.6L588.4 1078.1L589.1 1098.2L589.9 1117.9L590.6 1136.9L591.3 1155.3L592.1 1172.8L592.8 1189.4L593.6 1205L594.3 1219.4L595 1232.7L595.8 1244.6L596.5 1255.2L597.3 1264.4L598 1272.1L598.7 1278.4L599.5 1283L600.2 1286.2L601 1287.7L601.7 1287.7L602.4 1286.1L603.2 1283L603.9 1278.4L604.6 1272.3L605.4 1264.8L606.1 1255.9L606.9 1245.7L607.6 1234.2L608.3 1221.7L609.1 1208L609.8 1193.4L610.6 1178L611.3 1161.7L612 1144.9L612.8 1127.5L613.5 1109.7L614.3 1091.5L615 1073.3L615.7 1054.9L616.5 1036.6L617.2 1018.6L618 1000.8L618.7 983.4L619.4 966.6L620.2 950.4L620.9 935L621.7 920.5L622.4 906.8L623.1 894.2L623.9 882.7L624.6 872.4L625.4 863.4L626.1 855.6L626.8 849.2L627.6 844.2L628.3 840.5L629.1 838.4L629.8 837.7L630.5 838.4L631.3 840.5L632 844.1L632.8 849.1L633.5 855.5L634.2 863.2L635 872.1L635.7 882.2L636.5 893.5L637.2 905.9L637.9 919.2L638.7 933.4L639.4 948.4L640.2 964.1L640.9 980.5L641.6 997.3L642.4 1014.5L643.1 1031.9L643.8 1049.6L644.6 1067.3L645.3 1084.9L646.1 1102.4L646.8 1119.6L647.5 1136.4L648.3 1152.7L649 1168.4L649.8 1183.4L650.5 1197.6L651.2 1211L652 1223.4L652.7 1234.8L653.5 1245.1L654.2 1254.2L654.9 1262.1L655.7 1268.8L656.4 1274.2L657.2 1278.3L657.9 1281.1L658.6 1282.5L659.4 1282.6L660.1 1281.3L660.9 1278.7L661.6 1274.8L662.3 1269.7L663.1 1263.3L663.8 1255.8L664.6 1247.1L665.3 1237.4L666 1226.6L666.8 1215L667.5 1202.6L668.3 1189.3L669 1175.5L669.7 1161.1L670.5 1146.2L671.2 1130.9L672 1115.4L672.7 1099.7L673.4 1083.9L674.2 1068.3L674.9 1052.7L675.7 1037.4L676.4 1022.5L677.1 1008L677.9 994.1L678.6 980.7L679.4 968.1L680.1 956.3L680.8 945.4L681.6 935.4L682.3 926.5L683 918.6L683.8 911.7L684.5 906.1L685.3 901.6L686 898.4L686.7 896.3L687.5 895.5L688.2 896L689 897.7L689.7 900.6L690.4 904.7L691.2 909.9L691.9 916.3L692.7 923.8L693.4 932.4L694.1 941.9L694.9 952.3L695.6 963.6L696.4 975.6L697.1 988.3L697.8 1001.7L698.6 1015.5L699.3 1029.8L700.1 1044.5L700.8 1059.4L701.5 1074.4L702.3 1089.5L703 1104.6L703.8 1119.5L704.5 1134.2L705.2 1148.5L706 1162.5L706.7 1175.9L707.5 1188.8L708.2 1201L708.9 1212.5L709.7 1223.1L710.4 1232.9L711.2 1241.8L711.9 1249.7L712.6 1256.5L713.4 1262.3L714.1 1267L714.9 1270.6L715.6 1273L716.3 1274.3L717.1 1274.4L717.8 1273.4L718.6 1271.3L719.3 1268.1L720 1263.7L720.8 1258.3L721.5 1252L722.2 1244.6L723 1236.3L723.7 1227.2L724.5 1217.3L725.2 1206.7L725.9 1195.4L726.7 1183.5L727.4 1171.2L728.2 1158.5L728.9 1145.4L729.6 1132.1L730.4 1118.7L731.1 1105.2L731.9 1091.7L732.6 1078.3L733.3 1065.2L734.1 1052.3L734.8 1039.9L735.6 1027.8L736.3 1016.4L737 1005.5L737.8 995.3L738.5 985.8L739.3 977.2L740 969.4L740.7 962.5L741.5 956.5L742.2 951.5L743 947.6L743.7 944.6L744.4 942.7L745.2 941.9L745.9 942.2L746.7 943.4L747.4 945.8L748.1 949.2L748.9 953.5L749.6 958.9L750.4 965.2L751.1 972.3L751.8 980.3L752.6 989.1L753.3 998.7L754.1 1008.9L754.8 1019.7L755.5 1031L756.3 1042.8L757 1055L757.8 1067.5L758.5 1080.1L759.2 1093L760 1105.8L760.7 1118.7L761.4 1131.4L762.2 1144L762.9 1156.3L763.7 1168.2L764.4 1179.8L765.1 1190.8L765.9 1201.3L766.6 1211.1L767.4 1220.3L768.1 1228.7L768.8 1236.3L769.6 1243.1L770.3 1249.1L771.1 1254.1L771.8 1258.2L772.5 1261.3L773.3 1263.4L774 1264.6L774.8 1264.8L775.5 1264L776.2 1262.3L777 1259.6L777.7 1255.9L778.5 1251.4L779.2 1246L779.9 1239.7L780.7 1232.7L781.4 1224.9L782.2 1216.5L782.9 1207.4L783.6 1197.8L784.4 1187.7L785.1 1177.2L785.9 1166.3L786.6 1155.1L787.3 1143.7L788.1 1132.2L788.8 1120.6L789.6 1109.1L790.3 1097.6L791 1086.3L791.8 1075.2L792.5 1064.5L793.3 1054.2L794 1044.3L794.7 1034.9L795.5 1026.1L796.2 1017.9L797 1010.4L797.7 1003.6L798.4 997.6L799.2 992.4L799.9 988L800.6 984.5L801.4 981.9L802.1 980.1L802.9 979.3L803.6 979.4L804.3 980.4L805.1 982.3L805.8 985L806.6 988.7L807.3 993.1L808 998.4L808.8 1004.4L809.5 1011.2L810.3 1018.6L811 1026.7L811.7 1035.3L812.5 1044.5L813.2 1054.1L814 1064.2L814.7 1074.5L815.4 1085.1L816.2 1095.9L816.9 1106.9L817.7 1117.9L818.4 1128.9L819.1 1139.8L819.9 1150.5L820.6 1161L821.4 1171.2L822.1 1181.1L822.8 1190.6L823.6 1199.6L824.3 1208L825.1 1215.9L825.8 1223.2L826.5 1229.7L827.3 1235.6L828 1240.7L828.8 1245.1L829.5 1248.6L830.2 1251.4L831 1253.3L831.7 1254.4L832.5 1254.6L833.2 1254L833.9 1252.5L834.7 1250.3L835.4 1247.2L836.1 1243.4L836.9 1238.8L837.6 1233.5L838.4 1227.6L839.1 1221L839.8 1213.8L840.6 1206.1L841.3 1197.9L842.1 1189.3L842.8 1180.2L843.5 1170.9L844.3 1161.4L845 1151.6L845.8 1141.8L846.5 1131.8L847.2 1121.9L848 1112.1L848.7 1102.4L849.5 1092.9L850.2 1083.7L850.9 1074.7L851.7 1066.2L852.4 1058.1L853.2 1050.5L853.9 1043.4L854.6 1036.9L855.4 1031L856.1 1025.8L856.9 1021.3L857.6 1017.4L858.3 1014.3L859.1 1012L859.8 1010.4L860.6 1009.6L861.3 1009.6L862 1010.3L862.8 1011.8L863.5 1014.1L864.3 1017.1L865 1020.8L865.7 1025.3L866.5 1030.3L867.2 1036L868 1042.3L868.7 1049.2L869.4 1056.5L870.2 1064.3L870.9 1072.5L871.7 1081L872.4 1089.8L873.1 1098.9L873.9 1108.1L874.6 1117.4L875.3 1126.8L876.1 1136.2L876.8 1145.5L877.6 1154.7L878.3 1163.7L879 1172.4L879.8 1180.9L880.5 1189L881.3 1196.7L882 1204L882.7 1210.8L883.5 1217L884.2 1222.7L885 1227.8L885.7 1232.2L886.4 1236L887.2 1239.1L887.9 1241.5L888.7 1243.2L889.4 1244.2L890.1 1244.4L890.9 1243.9L891.6 1242.8L892.4 1240.9L893.1 1238.3L893.8 1235.1L894.6 1231.3L895.3 1226.8L896.1 1221.7L896.8 1216.1L897.5 1210L898.3 1203.4L899 1196.4L899.8 1189.1L900.5 1181.4L901.2 1173.4L902 1165.3L902.7 1156.9L903.5 1148.5L904.2 1140L904.9 1131.5L905.7 1123L906.4 1114.7L907.2 1106.5L907.9 1098.6L908.6 1090.9L909.4 1083.6L910.1 1076.6L910.9 1070L911.6 1063.9L912.3 1058.3L913.1 1053.2L913.8 1048.6L914.5 1044.7L915.3 1041.3L916 1038.6L916.8 1036.5L917.5 1035.1L918.2 1034.3L919 1034.2L919.7 1034.7L920.5 1036L921.2 1037.8L921.9 1040.3L922.7 1043.4L923.4 1047.1L924.2 1051.4L924.9 1056.2L925.6 1061.5L926.4 1067.3L927.1 1073.5L927.9 1080.1L928.6 1087.1L929.3 1094.4L930.1 1101.9L930.8 1109.6L931.6 1117.4L932.3 1125.4L933 1133.4L933.8 1141.4L934.5 1149.4L935.3 1157.2L936 1165L936.7 1172.5L937.5 1179.7L938.2 1186.7L939 1193.3L939.7 1199.6L940.4 1205.4L941.2 1210.8L941.9 1215.7L942.7 1220L943.4 1223.9L944.1 1227.2L944.9 1229.9L945.6 1232L946.4 1233.5L947.1 1234.4L947.8 1234.6L948.6 1234.3L949.3 1233.3L950.1 1231.8L950.8 1229.6L951.5 1226.9L952.3 1223.7L953 1219.9L953.7 1215.6L954.5 1210.8L955.2 1205.6L956 1200L956.7 1194.1L957.4 1187.8L958.2 1181.2L958.9 1174.4L959.7 1167.5L960.4 1160.3L961.1 1153.1L961.9 1145.8L962.6 1138.5L963.4 1131.3L964.1 1124.1L964.8 1117.1L965.6 1110.3L966.3 1103.7L967.1 1097.4L967.8 1091.4L968.5 1085.7L969.3 1080.4L970 1075.5L970.8 1071.1L971.5 1067.2L972.2 1063.7L973 1060.8L973.7 1058.4L974.5 1056.5L975.2 1055.2L975.9 1054.5L976.7 1054.3L977.4 1054.7L978.2 1055.7L978.9 1057.2L979.6 1059.3L980.4 1061.9L981.1 1065L981.9 1068.6L982.6 1072.7L983.3 1077.2L984.1 1082.1L984.8 1087.4L985.6 1093L986.3 1098.9L987 1105L987.8 1111.4L988.5 1118L989.3 1124.7L990 1131.5L990.7 1138.4L991.5 1145.2L992.2 1152L992.9 1158.7L993.7 1165.3L994.4 1171.8L995.2 1178L995.9 1184L996.6 1189.7L997.4 1195L998.1 1200.1L998.9 1204.7L999.6 1208.9L1000.3 1212.7L1001.1 1216L1001.8 1218.9L1002.6 1221.2L1003.3 1223.1L1004 1224.4L1004.8 1225.2L1005.5 1225.5L1006.3 1225.2L1007 1224.5L1007.7 1223.2L1008.5 1221.4L1009.2 1219.1L1010 1216.4L1010.7 1213.2L1011.4 1209.5L1012.2 1205.5L1012.9 1201.1L1013.7 1196.3L1014.4 1191.2L1015.1 1185.9L1015.9 1180.3L1016.6 1174.5L1017.4 1168.5L1018.1 1162.4L1018.8 1156.2L1019.6 1150L1020.3 1143.8L1021.1 1137.5L1021.8 1131.4L1022.5 1125.4L1023.3 1119.5L1024 1113.9L1024.8 1108.4L1025.5 1103.2L1026.2 1098.3L1027 1093.8L1027.7 1089.6L1028.5 1085.7L1029.2 1082.3L1029.9 1079.3L1030.7 1076.7L1031.4 1074.6L1032.1 1073L1032.9 1071.8L1033.6 1071.1L1034.4 1070.9L1035.1 1071.2L1035.8 1072L1036.6 1073.3L1037.3 1075L1038.1 1077.1L1038.8 1079.8L1039.5 1082.8L1040.3 1086.2L1041 1090L1041.8 1094.2L1042.5 1098.6L1043.2 1103.4L1044 1108.4L1044.7 1113.7L1045.5 1119.1L1046.2 1124.7L1046.9 1130.4L1047.7 1136.2L1048.4 1142.1L1049.2 1147.9L1049.9 1153.8L1050.6 1159.5L1051.4 1165.2L1052.1 1170.7L1052.9 1176L1053.6 1181.1L1054.3 1186L1055.1 1190.7L1055.8 1195L1056.6 1199L1057.3 1202.6L1058 1205.9L1058.8 1208.8L1059.5 1211.2L1060.3 1213.3L1061 1214.9L1061.7 1216.1L1062.5 1216.8L1063.2 1217.1L1064 1216.9L1064.7 1216.3L1065.4 1215.2L1066.2 1213.8L1066.9 1211.8L1067.7 1209.5L1068.4 1206.8L1069.1 1203.7L1069.9 1200.3L1070.6 1196.6L1071.3 1192.5L1072.1 1188.2L1072.8 1183.6L1073.6 1178.9L1074.3 1173.9L1075 1168.8L1075.8 1163.6L1076.5 1158.3L1077.3 1153L1078 1147.6L1078.7 1142.3L1079.5 1137L1080.2 1131.9L1081 1126.8L1081.7 1122L1082.4 1117.3L1083.2 1112.8L1083.9 1108.6L1084.7 1104.6L1085.4 1101L1086.1 1097.7L1086.9 1094.7L1087.6 1092.1L1088.4 1089.8L1089.1 1088L1089.8 1086.5L1090.6 1085.5L1091.3 1084.9L1092.1 1084.7L1092.8 1084.9L1093.5 1085.5L1094.3 1086.5L1095 1087.9L1095.8 1089.7L1096.5 1091.9L1097.2 1094.5L1098 1097.4L1098.7 1100.6L1099.5 1104.1L1100.2 1107.9L1100.9 1111.9L1101.7 1116.2L1102.4 1120.7L1103.2 1125.3L1103.9 1130.1L1104.6 1135L1105.4 1139.9L1106.1 1144.9L1106.9 1149.9L1107.6 1154.9L1108.3 1159.8L1109.1 1164.7L1109.8 1169.4L1110.5 1174L1111.3 1178.4L1112 1182.6L1112.8 1186.5L1113.5 1190.3L1114.2 1193.7L1115 1196.8L1115.7 1199.7L1116.5 1202.2L1117.2 1204.3L1117.9 1206.1L1118.7 1207.5L1119.4 1208.6L1120.2 1209.2L1120.9 1209.5L1121.6 1209.4L1122.4 1208.9L1123.1 1208L1123.9 1206.8L1124.6 1205.2L1125.3 1203.2L1126.1 1200.9L1126.8 1198.3L1127.6 1195.4L1128.3 1192.2L1129 1188.8L1129.8 1185.1L1130.5 1181.2L1131.3 1177.2L1132 1172.9L1132.7 1168.6L1133.5 1164.1L1134.2 1159.6L1135 1155L1135.7 1150.4L1136.4 1145.9L1137.2 1141.4L1137.9 1136.9L1138.7 1132.6L1139.4 1128.4L1140.1 1124.4L1140.9 1120.6L1141.6 1116.9L1142.4 1113.5L1143.1 1110.4L1143.8 1107.5L1144.6 1104.9L1145.3 1102.6L1146.1 1100.7L1146.8 1099.1L1147.5 1097.8L1148.3 1096.8L1149 1096.3L1149.7 1096L1150.5 1096.2L1151.2 1096.7L1152 1097.5L1152.7 1098.7L1153.4 1100.2L1154.2 1102L1154.9 1104.2L1155.7 1106.6L1156.4 1109.3L1157.1 1112.3L1157.9 1115.5L1158.6 1119L1159.4 1122.6L1160.1 1126.4L1160.8 1130.3L1161.6 1134.4L1162.3 1138.6L1163.1 1142.8L1163.8 1147.1L1164.5 1151.4L1165.3 1155.6L1166 1159.8L1166.8 1164L1167.5 1168L1168.2 1172L1169 1175.7L1169.7 1179.3L1170.5 1182.8L1171.2 1186L1171.9 1188.9L1172.7 1191.6L1173.4 1194.1L1174.2 1196.2L1174.9 1198.1L1175.6 1199.7L1176.4 1200.9L1177.1 1201.8L1177.9 1202.4L1178.6 1202.7L1179.3 1202.6L1180.1 1202.2L1180.8 1201.5L1181.6 1200.5L1182.3 1199.1L1183 1197.5L1183.8 1195.6L1184.5 1193.4L1185.2 1190.9L1186 1188.2L1186.7 1185.3L1187.5 1182.1L1188.2 1178.8L1188.9 1175.4L1189.7 1171.8L1190.4 1168L1191.2 1164.2L1191.9 1160.4L1192.6 1156.4L1193.4 1152.5L1194.1 1148.6L1194.9 1144.8L1195.6 1141L1196.3 1137.2L1197.1 1133.6L1197.8 1130.2L1198.6 1126.9L1199.3 1123.7L1200 1120.8L1200.8 1118.1L1201.5 1115.6L1202.3 1113.3L1203 1111.4L1203.7 1109.7L1204.5 1108.2L1205.2 1107.1L1206 1106.3L1206.7 1105.8L1207.4 1105.5L1208.2 1105.6L1208.9 1106L1209.7 1106.7L1210.4 1107.6L1211.1 1108.9L1211.9 1110.4L1212.6 1112.3L1213.4 1114.3L1214.1 1116.6L1214.8 1119.1L1215.6 1121.9L1216.3 1124.8L1217.1 1127.9L1217.8 1131.1L1218.5 1134.5L1219.3 1137.9L1220 1141.5L1220.8 1145.1L1221.5 1148.8L1222.2 1152.4L1223 1156.1L1223.7 1159.7L1224.4 1163.2L1225.2 1166.7L1225.9 1170.1L1226.7 1173.3L1227.4 1176.4L1228.1 1179.3L1228.9 1182.1L1229.6 1184.7L1230.4 1187L1231.1 1189.1L1231.8 1191L1232.6 1192.6L1233.3 1194L1234.1 1195.1L1234.8 1195.9L1235.5 1196.4L1236.3 1196.7L1237 1196.6L1237.8 1196.3L1238.5 1195.7L1239.2 1194.9L1240 1193.7L1240.7 1192.4L1241.5 1190.7L1242.2 1188.9L1242.9 1186.8L1243.7 1184.5L1244.4 1182L1245.2 1179.3L1245.9 1176.5L1246.6 1173.6L1247.4 1170.5L1248.1 1167.3L1248.9 1164.1L1249.6 1160.7L1250.3 1157.4L1251.1 1154L1251.8 1150.7L1252.6 1147.4L1253.3 1144.1L1254 1140.9L1254.8 1137.8L1255.5 1134.9L1256.3 1132L1257 1129.3L1257.7 1126.8L1258.5 1124.4L1259.2 1122.3L1260 1120.3L1260.7 1118.6L1261.4 1117.1L1262.2 1115.9L1262.9 1114.9L1263.6 1114.2L1264.4 1113.7L1265.1 1113.5L1265.9 1113.5L1266.6 1113.8L1267.3 1114.3L1268.1 1115.2L1268.8 1116.2L1269.6 1117.5L1270.3 1119L1271 1120.8L1271.8 1122.7L1272.5 1124.8L1273.3 1127.2L1274 1129.6L1274.7 1132.3L1275.5 1135L1276.2 1137.9L1277 1140.8L1277.7 1143.9L1278.4 1146.9L1279.2 1150.1L1279.9 1153.2L1280.7 1156.3L1281.4 1159.4L1282.1 1162.4L1282.9 1165.4L1283.6 1168.3L1284.4 1171.1L1285.1 1173.8L1285.8 1176.3L1286.6 1178.7L1287.3 1180.9L1288.1 1182.9L1288.8 1184.7L1289.5 1186.3L1290.3 1187.7L1291 1188.9L1291.8 1189.9L1292.5 1190.6L1293.2 1191.1L1294 1191.3L1294.7 1191.3L1295.5 1191.1L1296.2 1190.6L1296.9 1189.9L1297.7 1188.9L1298.4 1187.8L1299.2 1186.4L1299.9 1184.8L1300.6 1183.1L1301.4 1181.1L1302.1 1179L1302.8 1176.7L1303.6 1174.3L1304.3 1171.8L1305.1 1169.2L1305.8 1166.5L1306.5 1163.7L1307.3 1160.9L1308 1158L1308.8 1155.1L1309.5 1152.3L1310.2 1149.4L1311 1146.6L1311.7 1143.9L1312.5 1141.2L1313.2 1138.7L1313.9 1136.2L1314.7 1133.9L1315.4 1131.7L1316.2 1129.7L1316.9 1127.8L1317.6 1126.2L1318.4 1124.7L1319.1 1123.4L1319.9 1122.3L1320.6 1121.4L1321.3 1120.8L1322.1 1120.3L1322.8 1120.1L1323.6 1120.1L1324.3 1120.3L1325 1120.8L1325.8 1121.5L1326.5 1122.3L1327.3 1123.4L1328 1124.7L1328.7 1126.2L1329.5 1127.8L1330.2 1129.6L1331 1131.6L1331.7 1133.7L1332.4 1135.9L1333.2 1138.3L1333.9 1140.7L1334.7 1143.2L1335.4 1145.8L1336.1 1148.4L1336.9 1151.1L1337.6 1153.8L1338.4 1156.4L1339.1 1159.1L1339.8 1161.7L1340.6 1164.3L1341.3 1166.7L1342 1169.1L1342.8 1171.4L1343.5 1173.6L1344.3 1175.6L1345 1177.5L1345.7 1179.3L1346.5 1180.9L1347.2 1182.3L1348 1183.5L1348.7 1184.5L1349.4 1185.3L1350.2 1186L1350.9 1186.4L1351.7 1186.6L1352.4 1186.7L1353.1 1186.5L1353.9 1186.1L1354.6 1185.5L1355.4 1184.7L1356.1 1183.7L1356.8 1182.6L1357.6 1181.2L1358.3 1179.7L1359.1 1178.1L1359.8 1176.3L1360.5 1174.4L1361.3 1172.3L1362 1170.2L1362.8 1167.9L1363.5 1165.6L1364.2 1163.2L1365 1160.8L1365.7 1158.4L1366.5 1155.9L1367.2 1153.5L1367.9 1151L1368.7 1148.6L1369.4 1146.3L1370.2 1144L1370.9 1141.8L1371.6 1139.7L1372.4 1137.7L1373.1 1135.8L1373.9 1134.1L1374.6 1132.5L1375.3 1131L1376.1 1129.7L1376.8 1128.6L1377.6 1127.6L1378.3 1126.9L1379 1126.3L1379.8 1125.9L1380.5 1125.7L1381.2 1125.7L1382 1125.8L1382.7 1126.2L1383.5 1126.8L1384.2 1127.5L1384.9 1128.4L1385.7 1129.5L1386.4 1130.7L1387.2 1132.1L1387.9 1133.6L1388.6 1135.3L1389.4 1137.1L1390.1 1139L1390.9 1141L1391.6 1143.1L1392.3 1145.2L1393.1 1147.4L1393.8 1149.7L1394.6 1151.9L1395.3 1154.2L1396 1156.5L1396.8 1158.8L1397.5 1161L1398.3 1163.2L1399 1165.3L1399.7 1167.4L1400.5 1169.3L1401.2 1171.2L1402 1173L1402.7 1174.6L1403.4 1176.1L1404.2 1177.5L1404.9 1178.7L1405.7 1179.8L1406.4 1180.7L1407.1 1181.4L1407.9 1181.9L1408.6 1182.3L1409.4 1182.5L1410.1 1182.6L1410.8 1182.4L1411.6 1182.1L1412.3 1181.6L1413.1 1181L1413.8 1180.2L1414.5 1179.2L1415.3 1178.1L1416 1176.8L1416.8 1175.4L1417.5 1173.9L1418.2 1172.2L1419 1170.5L1419.7 1168.7L1420.4 1166.7L1421.2 1164.8L1421.9 1162.7L1422.7 1160.7L1423.4 1158.6L1424.1 1156.5L1424.9 1154.4L1425.6 1152.3L1426.4 1150.2L1427.1 1148.2L1427.8 1146.3L1428.6 1144.4L1429.3 1142.6L1430.1 1140.8L1430.8 1139.2L1431.5 1137.7L1432.3 1136.3L1433 1135.1L1433.8 1133.9L1434.5 1133L1435.2 1132.1L1436 1131.5L1436.7 1130.9L1437.5 1130.6L1438.2 1130.4L1438.9 1130.4L1439.7 1130.5L1440.4 1130.8L1441.2 1131.2L1441.9 1131.9L1442.6 1132.6L1443.4 1133.5L1444.1 1134.6L1444.9 1135.7L1445.6 1137L1446.3 1138.4L1447.1 1140L1447.8 1141.6L1448.6 1143.3L1449.3 1145.1L1450 1146.9L1450.8 1148.8L1451.5 1150.7L1452.3 1152.6L1453 1154.6L1453.7 1156.5L1454.5 1158.5L1455.2 1160.4L1456 1162.3L1456.7 1164.1L1457.4 1165.8L1458.2 1167.5L1458.9 1169.1L1459.6 1170.7L1460.4 1172.1L1461.1 1173.4L1461.9 1174.6L1462.6 1175.6L1463.3 1176.5L1464.1 1177.3L1464.8 1177.9L1465.6 1178.4L1466.3 1178.8L1467 1179L1467.8 1179L1468.5 1178.9L1469.3 1178.7L1470 1178.3L1470.7 1177.7L1471.5 1177L1472.2 1176.2L1473 1175.2L1473.7 1174.2L1474.4 1173L1475.2 1171.7L1475.9 1170.3L1476.7 1168.8L1477.4 1167.3L1478.1 1165.6L1478.9 1164L1479.6 1162.2L1480.4 1160.5L1481.1 1158.7L1481.8 1156.9L1482.6 1155.1L1483.3 1153.3L1484.1 1151.5L1484.8 1149.8L1485.5 1148.1L1486.3 1146.5L1487 1144.9L1487.8 1143.4L1488.5 1142L1489.2 1140.7L1490 1139.5L1490.7 1138.5L1491.5 1137.5L1492.2 1136.6L1492.9 1135.9L1493.7 1135.3L1494.4 1134.9L1495.1 1134.5L1495.9 1134.4L1496.6 1134.3L1497.4 1134.4L1498.1 1134.7L1498.8 1135L1499.6 1135.5L1500.3 1136.2L1501.1 1136.9L1501.8 1137.8L1502.5 1138.8L1503.3 1139.9L1504 1141.1L1504.8 1142.4L1505.5 1143.8L1506.2 1145.2L1507 1146.7L1507.7 1148.3L1508.5 1149.9L1509.2 1151.5L1509.9 1153.2L1510.7 1154.9L1511.4 1156.5L1512.2 1158.2L1512.9 1159.8L1513.6 1161.4L1514.4 1163L1515.1 1164.5L1515.9 1166L1516.6 1167.3L1517.3 1168.7L1518.1 1169.9L1518.8 1171L1519.6 1172L1520.3 1172.9L1521 1173.7L1521.8 1174.4L1522.5 1175L1523.3 1175.4L1524 1175.7L1524.7 1175.9L1525.5 1175.9L1526.2 1175.9L1527 1175.6L1527.7 1175.3L1528.4 1174.9L1529.2 1174.3L1529.9 1173.6L1530.7 1172.8L1531.4 1171.9L1532.1 1170.9L1532.9 1169.8L1533.6 1168.6L1534.3 1167.3L1535.1 1166L1535.8 1164.6L1536.6 1163.2L1537.3 1161.7L1538 1160.2L1538.8 1158.7L1539.5 1157.1L1540.3 1155.6L1541 1154.1L1541.7 1152.5L1542.5 1151.1L1543.2 1149.6L1544 1148.2L1544.7 1146.9L1545.4 1145.6L1546.2 1144.4L1546.9 1143.3L1547.7 1142.2L1548.4 1141.3L1549.1 1140.5L1549.9 1139.7L1550.6 1139.1L1551.4 1138.6L1552.1 1138.2L1552.8 1137.9L1553.6 1137.7L1554.3 1137.7L1555.1 1137.7L1555.8 1137.9L1556.5 1138.2L1557.3 1138.7L1558 1139.2L1558.8 1139.8L1559.5 1140.6L1560.2 1141.4L1561 1142.3L1561.7 1143.4L1562.5 1144.5L1563.2 1145.6L1563.9 1146.9L1564.7 1148.1L1565.4 1149.5L1566.2 1150.8L1566.9 1152.2L1567.6 1153.7L1568.4 1155.1L1569.1 1156.5L1569.9 1157.9L1570.6 1159.3L1571.3 1160.7L1572.1 1162.1L1572.8 1163.4L1573.5 1164.6L1574.3 1165.8L1575 1166.9L1575.8 1168L1576.5 1168.9L1577.2 1169.8L1578 1170.6L1578.7 1171.3L1579.5 1171.9L1580.2 1172.4L1580.9 1172.8L1581.7 1173L1582.4 1173.2L1583.2 1173.3L1583.9 1173.2L1584.6 1173L1585.4 1172.8L1586.1 1172.4L1586.9 1171.9L1587.6 1171.3L1588.3 1170.6L1589.1 1169.9L1589.8 1169L1590.6 1168.1L1591.3 1167.1L1592 1166L1592.8 1164.9L1593.5 1163.7L1594.3 1162.5L1595 1161.2L1595.7 1159.9L1596.5 1158.6L1597.2 1157.3L1598 1156L1598.7 1154.7L1599.4 1153.4L1600.2 1152.1L1600.9 1150.9L1601.7 1149.7L1602.4 1148.5L1603.1 1147.4L1603.9 1146.4L1604.6 1145.4L1605.4 1144.5L1606.1 1143.7L1606.8 1143L1607.6 1142.3L1608.3 1141.8L1609.1 1141.3L1609.8 1141L1610.5 1140.7L1611.3 1140.6L1612 1140.5L1612.7 1140.6L1613.5 1140.7L1614.2 1141L1615 1141.3L1615.7 1141.8L1616.4 1142.3L1617.2 1142.9L1617.9 1143.6L1618.7 1144.4L1619.4 1145.3L1620.1 1146.2L1620.9 1147.2L1621.6 1148.2L1622.4 1149.3L1623.1 1150.5L1623.8 1151.6L1624.6 1152.8L1625.3 1154.1L1626.1 1155.3L1626.8 1156.5L1627.5 1157.7L1628.3 1158.9L1629 1160.1L1629.8 1161.2L1630.5 1162.4L1631.2 1163.4L1632 1164.5L1632.7 1165.4L1633.5 1166.3L1634.2 1167.2L1634.9 1167.9L1635.7 1168.6L1636.4 1169.2L1637.2 1169.7L1637.9 1170.2L1638.6 1170.5L1639.4 1170.7L1640.1 1170.9L1640.9 1170.9L1641.6 1170.9L1642.3 1170.8L1643.1 1170.5L1643.8 1170.2L1644.6 1169.8L1645.3 1169.3L1646 1168.8L1646.8 1168.1L1647.5 1167.4L1648.3 1166.6L1649 1165.7L1649.7 1164.8L1650.5 1163.9L1651.2 1162.9L1651.9 1161.8L1652.7 1160.7L1653.4 1159.6L1654.2 1158.5L1654.9 1157.4L1655.6 1156.3L1656.4 1155.1L1657.1 1154L1657.9 1152.9L1658.6 1151.9L1659.3 1150.9L1660.1 1149.9L1660.8 1148.9L1661.6 1148L1662.3 1147.2L1663 1146.4L1663.8 1145.7L1664.5 1145.1L1665.3 1144.5L1666 1144L1666.7 1143.6L1667.5 1143.3L1668.2 1143.1L1669 1143L1669.7 1142.9L1670.4 1142.9L1671.2 1143.1L1671.9 1143.3L1672.7 1143.6L1673.4 1143.9L1674.1 1144.4L1674.9 1144.9L1675.6 1145.5L1676.4 1146.2L1677.1 1146.9L1677.8 1147.7L1678.6 1148.5L1679.3 1149.4L1680.1 1150.4L1680.8 1151.3L1681.5 1152.3L1682.3 1153.4L1683 1154.4L1683.8 1155.4L1684.5 1156.5L1685.2 1157.5L1686 1158.5L1686.7 1159.6L1687.5 1160.6L1688.2 1161.5L1688.9 1162.4L1689.7 1163.3L1690.4 1164.1L1691.1 1164.9L1691.9 1165.6L1692.6 1166.3L1693.4 1166.9L1694.1 1167.4L1694.8 1167.9L1695.6 1168.2L1696.3 1168.5L1697.1 1168.7L1697.8 1168.9L1698.5 1168.9L1699.3 1168.9L1700 1168.8L1700.8 1168.6L1701.5 1168.4L1702.2 1168L1703 1167.6L1703.7 1167.1L1704.5 1166.6L1705.2 1166L1705.9 1165.3L1706.7 1164.6L1707.4 1163.8L1708.2 1163L1708.9 1162.1L1709.6 1161.2L1710.4 1160.3L1711.1 1159.4L1711.9 1158.4L1712.6 1157.5L1713.3 1156.5L1714.1 1155.5L1714.8 1154.6L1715.6 1153.6L1716.3 1152.7L1717 1151.8L1717.8 1151L1718.5 1150.2L1719.3 1149.4L1720 1148.7L1720.7 1148L1721.5 1147.4L1722.2 1146.9L1723 1146.4L1723.7 1146L1724.4 1145.6L1725.2 1145.3L1725.9 1145.1L1726.7 1145L1727.4 1145L1728.1 1145L1728.9 1145.1L1729.6 1145.2L1730.3 1145.5L1731.1 1145.8L1731.8 1146.2L1732.6 1146.6L1733.3 1147.1L1734 1147.7L1734.8 1148.3L1735.5 1149L1736.3 1149.7L1737 1150.5L1737.7 1151.2L1738.5 1152.1L1739.2 1152.9L1740 1153.8L1740.7 1154.7L1741.4 1155.6L1742.2 1156.5L1742.9 1157.4L1743.7 1158.2L1744.4 1159.1L1745.1 1160L1745.9 1160.8L1746.6 1161.6L1747.4 1162.3L1748.1 1163L1748.8 1163.7L1749.6 1164.3L1750.3 1164.9L1751.1 1165.4L1751.8 1165.9L1752.5 1166.3L1753.3 1166.6L1754 1166.8L1754.8 1167L1755.5 1167.2L1756.2 1167.2L1757 1167.2L1757.7 1167.1L1758.5 1167L1759.2 1166.7L1759.9 1166.5L1760.7 1166.1L1761.4 1165.7L1762.2 1165.2L1762.9 1164.7L1763.6 1164.2L1764.4 1163.5L1765.1 1162.9L1765.9 1162.2L1766.6 1161.5L1767.3 1160.7L1768.1 1159.9L1768.8 1159.1L1769.5 1158.3L1770.3 1157.5L1771 1156.6L1771.8 1155.8L1772.5 1155L1773.2 1154.2L1774 1153.4L1774.7 1152.7L1775.5 1151.9L1776.2 1151.2L1776.9 1150.6L1777.7 1149.9L1778.4 1149.4L1779.2 1148.8L1779.9 1148.4L1780.6 1147.9L1781.4 1147.6L1782.1 1147.3L1782.9 1147L1783.6 1146.9L1784.3 1146.7L1785.1 1146.7L1785.8 1146.7L1786.6 1146.8L1787.3 1146.9L1788 1147.1L1788.8 1147.4L1789.5 1147.7L1790.3 1148.1L1791 1148.5L1791.7 1149L1792.5 1149.5L1793.2 1150.1L1794 1150.7L1794.7 1151.3L1795.4 1152L1796.2 1152.7L1796.9 1153.4L1797.7 1154.2L1798.4 1154.9L1799.1 1155.7L1799.9 1156.5L1800.6 1157.2L1801.4 1158L1802.1 1158.7L1802.8 1159.4L1803.6 1160.2L1804.3 1160.8L1805.1 1161.5L1805.8 1162.1L1806.5 1162.7L1807.3 1163.2L1808 1163.7L1808.7 1164.1L1809.5 1164.5L1810.2 1164.9L1811 1165.2L1811.7 1165.4L1812.4 1165.6L1813.2 1165.7L1813.9 1165.7L1814.7 1165.7L1815.4 1165.7L1816.1 1165.5L1816.9 1165.3L1817.6 1165.1L1818.4 1164.8L1819.1 1164.5L1819.8 1164.1L1820.6 1163.6L1821.3 1163.2L1822.1 1162.6L1822.8 1162.1L1823.5 1161.5L1824.3 1160.9L1825 1160.2L1825.8 1159.5L1826.5 1158.9L1827.2 1158.2L1828 1157.5L1828.7 1156.8L1829.5 1156.1L1830.2 1155.4L1830.9 1154.7L1831.7 1154L1832.4 1153.3L1833.2 1152.7L1833.9 1152.1L1834.6 1151.5L1835.4 1151L1836.1 1150.5L1836.9 1150.1L1837.6 1149.6L1838.3 1149.3L1839.1 1149L1839.8 1148.7L1840.6 1148.5L1841.3 1148.3L1842 1148.2L1842.8 1148.2L1843.5 1148.2L1844.2 1148.2L1845 1148.3L1845.7 1148.5L1846.5 1148.7L1847.2 1149L1847.9 1149.3L1848.7 1149.7L1849.4 1150.1L1850.2 1150.5L1850.9 1151L1851.6 1151.5L1852.4 1152.1L1853.1 1152.6L1853.9 1153.2L1854.6 1153.9L1855.3 1154.5L1856.1 1155.1L1856.8 1155.8L1857.6 1156.5L1858.3 1157.1L1859 1157.8L1859.8 1158.4L1860.5 1159L1861.3 1159.6L1862 1160.2L1862.7 1160.8L1863.5 1161.3L1864.2 1161.8L1865 1162.3L1865.7 1162.7L1866.4 1163.1L1867.2 1163.4L1867.9 1163.7L1868.7 1163.9L1869.4 1164.1L1870.1 1164.3L1870.9 1164.4L1871.6 1164.4L1872.4 1164.4L1873.1 1164.4L1873.8 1164.3L1874.6 1164.1L1875.3 1163.9L1876.1 1163.7L1876.8 1163.4L1877.5 1163.1L1878.3 1162.7L1879 1162.3L1879.8 1161.9L1880.5 1161.4L1881.2 1160.9L1882 1160.3L1882.7 1159.8L1883.4 1159.2L1884.2 1158.6L1884.9 1158L1885.7 1157.4L1886.4 1156.8L1887.1 1156.2L1887.9 1155.6L1888.6 1155L1889.4 1154.5L1890.1 1153.9L1890.8 1153.4L1891.6 1152.8L1892.3 1152.4L1893.1 1151.9L1893.8 1151.5L1894.5 1151.1L1895.3 1150.7L1896 1150.4L1896.8 1150.1L1897.5 1149.9L1898.2 1149.7L1899 1149.6L1899.7 1149.5L1900.5 1149.4L1901.2 1149.4L1901.9 1149.5L1902.7 1149.6L1903.4 1149.7L1904.2 1149.9L1904.9 1150.1L1905.6 1150.4L1906.4 1150.7L1907.1 1151L1907.9 1151.4L1908.6 1151.8L1909.3 1152.2L1910.1 1152.7L1910.8 1153.2L1911.6 1153.7L1912.3 1154.2L1913 1154.8L1913.8 1155.3L1914.5 1155.9L1915.3 1156.5L1916 1157L1916.7 1157.6L1917.5 1158.1L1918.2 1158.6L1919 1159.2L1919.7 1159.7L1920.4 1160.1L1921.2 1160.6L1921.9 1161L1922.6 1161.4L1923.4 1161.8L1924.1 1162.1L1924.9 1162.4L1925.6 1162.7L1926.3 1162.9L1927.1 1163.1L1927.8 1163.2L1928.6 1163.3L1929.3 1163.3L1930 1163.3L1930.8 1163.3L1931.5 1163.2L1932.3 1163.1L1933 1162.9L1933.7 1162.7L1934.5 1162.5L1935.2 1162.2L1936 1161.9L1936.7 1161.5L1937.4 1161.2L1938.2 1160.8L1938.9 1160.3L1939.7 1159.9L1940.4 1159.4L1941.1 1158.9L1941.9 1158.4L1942.6 1157.9L1943.4 1157.4L1944.1 1156.9L1944.8 1156.4L1945.6 1155.9L1946.3 1155.4L1947.1 1154.9L1947.8 1154.4L1948.5 1153.9L1949.3 1153.5L1950 1153L1950.8 1152.7L1951.5 1152.3L1952.2 1151.9L1953 1151.6L1953.7 1151.4L1954.5 1151.1L1955.2 1150.9L1955.9 1150.8L1956.7 1150.6L1957.4 1150.5L1958.2 1150.5L1958.9 1150.5L1959.6 1150.5L1960.4 1150.6L1961.1 1150.7L1961.8 1150.9L1962.6 1151.1L1963.3 1151.3L1964.1 1151.5L1964.8 1151.8L1965.5 1152.1L1966.3 1152.5L1967 1152.9L1967.8 1153.3L1968.5 1153.7L1969.2 1154.1L1970 1154.6L1970.7 1155L1971.5 1155.5L1972.2 1156L1972.9 1156.5L1973.7 1156.9L1974.4 1157.4L1975.2 1157.9L1975.9 1158.3L1976.6 1158.8L1977.4 1159.2L1978.1 1159.6L1978.9 1160L1979.6 1160.4L1980.3 1160.7L1981.1 1161L1981.8 1161.3L1982.6 1161.6L1983.3 1161.8L1984 1162L1984.8 1162.2L1985.5 1162.3L1986.3 1162.4L1987 1162.4L1987.7 1162.4L1988.5 1162.4L1989.2 1162.3L1990 1162.2L1990.7 1162.1L1991.4 1161.9L1992.2 1161.7L1992.9 1161.5L1993.7 1161.2L1994.4 1160.9L1995.1 1160.6L1995.9 1160.2L1996.6 1159.9L1997.4 1159.5L1998.1 1159.1L1998.8 1158.7L1999.6 1158.2L2000.3 1157.8L2001 1157.4L2001.8 1156.9L2002.5 1156.5L2003.3 1156L2004 1155.6L2004.7 1155.2L2005.5 1154.8L2006.2 1154.4L2007 1154L2007.7 1153.6L2008.4 1153.3L2009.2 1153L2009.9 1152.7L2010.7 1152.4L2011.4 1152.2L2012.1 1152L2012.9 1151.8L2013.6 1151.6L2014.4 1151.5L2015.1 1151.5L2015.8 1151.4L2016.6 1151.4L2017.3 1151.4L2018.1 1151.5L2018.8 1151.6L2019.5 1151.7L2020.3 1151.9L2021 1152.1L2021.8 1152.3L2022.5 1152.5L2023.2 1152.8L2024 1153.1L2024.7 1153.4L2025.5 1153.7L2026.2 1154.1L2026.9 1154.5L2027.7 1154.9L2028.4 1155.2L2029.2 1155.6L2029.9 1156.1L2030.6 1156.5L2031.4 1156.9L2032.1 1157.3L2032.9 1157.7L2033.6 1158.1L2034.3 1158.5L2035.1 1158.8L2035.8 1159.2L2036.6 1159.5L2037.3 1159.8L2038 1160.1L2038.8 1160.4L2039.5 1160.7L2040.2 1160.9L2041 1161.1L2041.7 1161.2L2042.5 1161.4L2043.2 1161.5L2043.9 1161.5L2044.7 1161.6L2045.4 1161.6L2046.2 1161.6L2046.9 1161.5L2047.6 1161.4L2048.4 1161.3L2049.1 1161.2L2049.9 1161L2050.6 1160.8L2051.3 1160.6L2052.1 1160.3L2052.8 1160.1L2053.6 1159.8L2054.3 1159.5L2055 1159.1L2055.8 1158.8L2056.5 1158.4L2057.3 1158.1L2058 1157.7L2058.7 1157.3L2059.5 1156.9L2060.2 1156.6L2061 1156.2L2061.7 1155.8L2062.4 1155.5L2063.2 1155.1L2063.9 1154.8L2064.7 1154.4L2065.4 1154.1L2066.1 1153.8L2066.9 1153.5L2067.6 1153.3L2068.4 1153.1L2069.1 1152.9L2069.8 1152.7L2070.6 1152.5L2071.3 1152.4L2072.1 1152.3L2072.8 1152.2L2073.5 1152.2L2074.3 1152.2L2075 1152.2L2075.8 1152.3L2076.5 1152.3L2077.2 1152.4L2078 1152.6L2078.7 1152.7L2079.4 1152.9L2080.2 1153.1L2080.9 1153.3L2081.7 1153.6L2082.4 1153.9L2083.1 1154.2L2083.9 1154.5L2084.6 1154.8L2085.4 1155.1L2086.1 1155.4L2086.8 1155.8L2087.6 1156.1L2088.3 1156.5L2089.1 1156.8L2089.8 1157.2L2090.5 1157.5L2091.3 1157.9L2092 1158.2L2092.8 1158.5L2093.5 1158.8L2094.2 1159.1L2095 1159.4L2095.7 1159.6L2096.5 1159.9L2097.2 1160.1L2097.9 1160.3L2098.7 1160.4L2099.4 1160.6L2100.2 1160.7L2100.9 1160.8L2101.6 1160.9L2102.4 1160.9L2103.1 1160.9L2103.9 1160.9L2104.6 1160.8L2105.3 1160.8L2106.1 1160.7L2106.8 1160.6L2107.6 1160.4L2108.3 1160.2L2109 1160.1L2109.8 1159.8L2110.5 1159.6L2111.3 1159.4L2112 1159.1L2112.7 1158.8L2113.5 1158.5L2114.2 1158.2L2115 1157.9L2115.7 1157.6L2116.4 1157.3L2117.2 1157L2117.9 1156.6L2118.6 1156.3L2119.4 1156L2120.1 1155.7L2120.9 1155.4L2121.6 1155.1L2122.3 1154.8L2123.1 1154.5L2123.8 1154.3L2124.6 1154L2125.3 1153.8L2126 1153.6L2126.8 1153.4L2127.5 1153.3L2128.3 1153.2L2129 1153L2129.7 1153L2130.5 1152.9L2131.2 1152.9L2132 1152.8L2132.7 1152.9L2133.4 1152.9L2134.2 1153L2134.9 1153.1L2135.7 1153.2L2136.4 1153.3L2137.1 1153.5L2137.9 1153.6L2138.6 1153.8L2139.4 1154L2140.1 1154.3L2140.8 1154.5L2141.6 1154.8L2142.3 1155L2143.1 1155.3L2143.8 1155.6L2144.5 1155.9L2145.3 1156.2L2146 1156.5L2146.8 1156.8L2147.5 1157.1L2148.2 1157.4L2149 1157.7L2149.7 1158L2150.5 1158.2L2151.2 1158.5L2151.9 1158.7L2152.7 1159L2153.4 1159.2L2154.1 1159.4L2154.9 1159.6L2155.6 1159.7L2156.4 1159.9L2157.1 1160L2157.8 1160.1L2158.6 1160.2L2159.3 1160.3L2160.1 1160.3L2160.8 1160.3L2161.5 1160.3L2162.3 1160.3L2163 1160.2L2163.8 1160.1L2164.5 1160L2165.2 1159.9L2166 1159.8L2166.7 1159.6L2167.5 1159.4L2168.2 1159.2L2168.9 1159L2169.7 1158.8L2170.4 1158.6L2171.2 1158.3L2171.9 1158L2172.6 1157.8L2173.4 1157.5L2174.1 1157.2L2174.9 1157L2175.6 1156.7L2176.3 1156.4L2177.1 1156.1L2177.8 1155.9L2178.6 1155.6L2179.3 1155.4L2180 1155.1L2180.8 1154.9L2181.5 1154.7L2182.3 1154.5L2183 1154.3L2183.7 1154.1L2184.5 1153.9L2185.2 1153.8L2186 1153.7L2186.7 1153.6L2187.4 1153.5L2188.2 1153.5L2188.9 1153.4L2189.7 1153.4L2190.4 1153.4L2191.1 1153.5L2191.9 1153.5L2192.6 1153.6L2193.3 1153.7L2194.1 1153.8L2194.5 1153.9"/>
<rect x="1402" y="274" width="790" height="303" fill="#fff" stroke="none"/>
<path stroke="#9400d3" d="M1947 312.5H2150"/>
<path stroke="#009e73" d="M1947 388.5H2150"/>
<path stroke="#56b4e9" d="M1947 463.5H2150"/>
<path stroke="#9400d3" stroke-dasharray="17 24" d="M1947 539.5H2150"/>
<path fill="#000" stroke="none" fill-rule="evenodd" d="M310 52H2197V1379H310zM315 57V1375H2192V57z"/>
</g>
<g font-size="83.3">
<text transform="translate(266 80.8) scale(0.96 1)" text-anchor="end">10</text>
<text transform="translate(266 301.2) scale(0.96 1)" text-anchor="end">8</text>
<text transform="translate(266 521.8) scale(0.96 1)" text-anchor="end">6</text>
<text transform="translate(266 742.2) scale(0.96 1)" text-anchor="end">4</text>
<text transform="translate(266 962.8) scale(0.96 1)" text-anchor="end">2</text>
<text transform="translate(266 1183.2) scale(0.96 1)" text-anchor="end">0</text>
<text transform="translate(266 1403.8) scale(0.96 1)" text-anchor="end">−2</text>
<text transform="translate(323 1482) scale(0.96 1)" text-anchor="middle">0</text>
<text transform="translate(636.7 1482) scale(0.96 1)" text-anchor="middle">50</text>
<text transform="translate(950.3 1482) scale(0.96 1)" text-anchor="middle">100</text>
<text transform="translate(1264 1482) scale(0.96 1)" text-anchor="middle">150</text>
<text transform="translate(1577.7 1482) scale(0.96 1)" text-anchor="middle">200</text>
<text transform="translate(1891.3 1482) scale(0.96 1)" text-anchor="middle">250</text>
<text transform="translate(2205 1482) scale(0.96 1)" text-anchor="middle">300</text>
<text transform="translate(1254 1600.5) scale(0.96 1)" text-anchor="middle">t [ps]</text>
<text transform="translate(75 715.5) rotate(-90) scale(0.96 1)" text-anchor="middle">DST</text>
</g>
<g font-size="78" text-anchor="end">
<text transform="translate(1900.6 337.8) scale(0.956 1)">ratio 1</text>
<text transform="translate(1900.6 412.8) scale(0.956 1)">ratio 10</text>
<text transform="translate(1900.6 488.7) scale(0.956 1)">ratio 100</text>
<text transform="translate(1900.6 563.9) scale(0.956 1)">ratio 1, wd</text>
</g>
</svg>
</body></html>
